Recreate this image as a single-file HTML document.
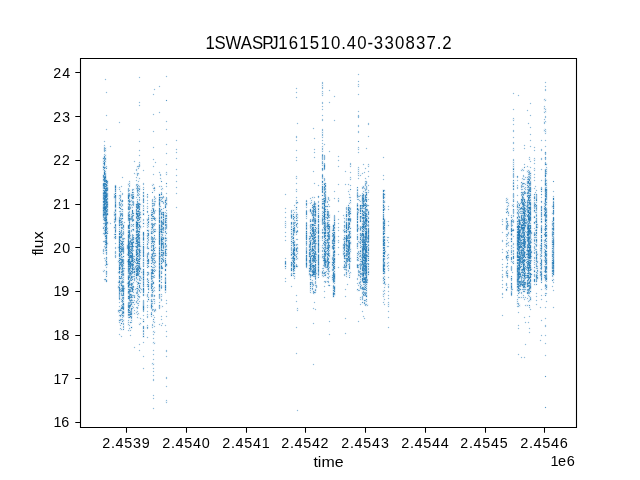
<!DOCTYPE html>
<html><head><meta charset="utf-8"><title>1SWASPJ161510.40-330837.2</title>
<style>
html,body{margin:0;padding:0;background:#fff;}
body{width:640px;height:480px;overflow:hidden;position:relative;font-family:"Liberation Sans",sans-serif;}
svg{position:absolute;left:0;top:0;will-change:transform;}
text{font-family:"Liberation Sans",sans-serif;fill:#000;white-space:pre;}
</style></head><body>
<svg width="640" height="480" viewBox="0 0 640 480">
<rect x="0" y="0" width="640" height="480" fill="#ffffff"/>
<g shape-rendering="crispEdges" stroke-width="1" fill="none">
<path d="M102.5 157v1M102.5 159v7M102.5 168v3M102.5 174v1M102.5 178v1M102.5 181v1M102.5 189v1M102.5 191v1M102.5 200v1M102.5 203v1M102.5 217v4M102.5 223v1M102.5 226v2M102.5 233v2M102.5 241v1M102.5 249v1M102.5 251v3M102.5 270v2M103.5 141v1M103.5 145v3M103.5 151v1M103.5 154v2M103.5 221v2M103.5 225v1M103.5 231v1M103.5 235v1M103.5 240v1M103.5 246v3M103.5 254v1M103.5 258v1M103.5 269v1M103.5 272v1M103.5 279v1M104.5 79v1M104.5 140v1M104.5 142v1M104.5 144v1M104.5 152v2M104.5 237v3M104.5 243v1M104.5 252v3M104.5 257v1M104.5 259v3M104.5 264v2M104.5 269v1M104.5 272v1M104.5 278v1M104.5 281v1M105.5 78v1M105.5 80v1M105.5 92v1M105.5 115v1M105.5 129v1M105.5 141v1M105.5 145v2M105.5 152v2M105.5 254v1M105.5 266v2M105.5 270v1M105.5 274v4M106.5 79v1M106.5 91v1M106.5 93v1M106.5 114v1M106.5 116v1M106.5 128v1M106.5 130v1M106.5 147v5M106.5 154v4M106.5 160v3M106.5 164v2M106.5 169v4M106.5 255v1M106.5 268v2M106.5 277v2M107.5 92v1M107.5 115v1M107.5 129v1M107.5 166v3M107.5 179v1M107.5 248v2M107.5 251v1M107.5 254v1M107.5 259v2M107.5 266v2M107.5 274v3M107.5 279v1M108.5 180v1M108.5 183v4M108.5 191v2M108.5 197v1M108.5 200v1M108.5 208v1M108.5 212v1M108.5 215v1M108.5 221v1M108.5 224v1M108.5 227v6M108.5 242v3M108.5 263v2M109.5 146v1M109.5 222v2M110.5 145v1M110.5 147v1M110.5 222v1M110.5 224v1M111.5 146v1M111.5 223v1M113.5 193v3M113.5 198v1M113.5 211v3M113.5 215v2M113.5 218v5M113.5 226v1M113.5 228v1M113.5 234v1M113.5 236v3M114.5 192v1M114.5 208v1M114.5 239v1M114.5 243v1M114.5 247v2M114.5 251v1M114.5 253v3M114.5 257v1M115.5 184v1M115.5 242v1M115.5 244v1M115.5 246v1M115.5 249v2M115.5 258v1M116.5 192v1M116.5 194v1M116.5 208v1M116.5 212v1M116.5 221v2M116.5 232v2M116.5 235v1M116.5 243v1M116.5 247v2M116.5 251v1M116.5 253v3M116.5 257v1M117.5 187v1M117.5 189v1M117.5 195v1M117.5 202v1M117.5 204v2M117.5 207v1M117.5 217v5M117.5 224v2M117.5 231v1M117.5 234v1M117.5 236v3M117.5 246v1M117.5 248v1M117.5 251v1M117.5 253v1M117.5 255v2M117.5 260v3M117.5 271v3M117.5 281v2M117.5 285v2M117.5 288v1M117.5 311v2M118.5 122v1M118.5 187v3M118.5 195v5M118.5 205v2M118.5 208v1M118.5 211v1M118.5 216v2M118.5 226v5M118.5 232v1M118.5 235v1M118.5 252v1M118.5 257v1M118.5 270v1M118.5 274v2M118.5 279v1M118.5 299v1M118.5 302v1M118.5 306v1M118.5 313v1M118.5 315v2M118.5 319v1M118.5 321v2M118.5 334v1M119.5 121v1M119.5 123v1M119.5 186v1M119.5 190v2M119.5 194v1M119.5 209v2M119.5 300v2M119.5 303v1M119.5 305v1M119.5 307v2M119.5 313v1M119.5 317v2M119.5 323v3M119.5 328v2M119.5 333v1M119.5 335v1M120.5 122v1M120.5 186v5M120.5 192v2M120.5 300v3M120.5 304v2M120.5 312v2M120.5 326v2M120.5 330v1M120.5 334v3M121.5 177v1M121.5 185v1M121.5 187v1M121.5 191v3M121.5 197v2M121.5 303v1M121.5 317v1M121.5 325v3M121.5 330v1M121.5 335v1M121.5 337v1M122.5 176v1M122.5 178v1M122.5 186v1M122.5 192v1M122.5 195v1M122.5 207v1M122.5 325v4M122.5 330v1M122.5 336v1M123.5 177v1M123.5 193v2M123.5 203v4M123.5 210v4M123.5 216v2M123.5 219v1M123.5 221v1M123.5 236v1M123.5 318v1M123.5 330v1M124.5 221v1M124.5 223v2M124.5 228v4M124.5 234v2M124.5 237v1M124.5 240v1M124.5 242v5M124.5 253v1M124.5 255v1M124.5 257v1M124.5 264v4M124.5 272v1M124.5 276v6M124.5 296v1M124.5 299v4M124.5 310v1M124.5 314v1M124.5 316v2M124.5 319v3M124.5 323v7M125.5 222v1M125.5 238v2M125.5 248v1M125.5 268v1M125.5 287v3M126.5 244v1M126.5 249v1M126.5 253v3M126.5 260v3M126.5 268v1M126.5 282v3M127.5 183v3M127.5 188v1M127.5 191v3M127.5 199v1M127.5 202v2M127.5 205v1M127.5 211v2M127.5 221v1M127.5 224v1M127.5 229v1M127.5 233v1M127.5 256v3M127.5 274v1M127.5 280v1M127.5 288v1M127.5 290v1M127.5 294v2M127.5 299v1M127.5 302v1M127.5 308v1M127.5 313v1M127.5 316v2M127.5 320v6M127.5 330v1M128.5 181v2M128.5 187v1M128.5 319v1M128.5 326v1M128.5 328v2M128.5 331v1M129.5 180v1M129.5 187v1M129.5 319v3M129.5 323v1M129.5 326v1M129.5 331v1M129.5 335v1M130.5 181v6M130.5 189v4M130.5 198v1M130.5 210v1M130.5 229v1M130.5 319v2M130.5 324v3M130.5 329v1M130.5 331v1M130.5 334v1M130.5 336v1M131.5 189v3M131.5 203v1M131.5 209v1M131.5 222v2M131.5 227v2M131.5 233v1M131.5 323v1M131.5 325v1M131.5 329v2M131.5 335v1M132.5 188v1M132.5 222v2M132.5 227v1M132.5 232v2M132.5 281v1M132.5 293v1M132.5 315v1M132.5 318v5M132.5 326v1M132.5 328v1M133.5 161v1M133.5 173v1M133.5 188v1M133.5 206v2M133.5 209v1M133.5 222v2M133.5 227v1M133.5 233v1M133.5 252v1M133.5 281v1M133.5 293v1M133.5 298v2M133.5 305v1M133.5 309v6M133.5 347v1M134.5 160v1M134.5 162v1M134.5 172v1M134.5 174v1M134.5 188v3M134.5 192v4M134.5 201v1M134.5 205v3M134.5 210v3M134.5 214v1M134.5 216v3M134.5 221v1M134.5 223v1M134.5 225v4M134.5 231v1M134.5 234v3M134.5 240v1M134.5 244v2M134.5 247v1M134.5 249v1M134.5 251v1M134.5 253v2M134.5 282v2M134.5 288v1M134.5 290v5M134.5 299v1M134.5 303v1M134.5 305v5M134.5 311v2M134.5 314v1M134.5 346v1M134.5 348v1M135.5 161v1M135.5 169v2M135.5 173v2M135.5 177v1M135.5 180v1M135.5 184v6M135.5 196v3M135.5 201v1M135.5 203v1M135.5 208v1M135.5 215v1M135.5 219v2M135.5 229v1M135.5 233v1M135.5 236v1M135.5 248v1M135.5 264v1M135.5 281v2M135.5 286v2M135.5 290v2M135.5 293v2M135.5 298v1M135.5 300v1M135.5 303v2M135.5 307v2M135.5 310v5M135.5 347v1M136.5 166v3M136.5 171v2M136.5 175v2M136.5 178v2M136.5 181v1M136.5 183v1M136.5 192v3M136.5 196v1M136.5 198v3M136.5 283v4M136.5 295v5M136.5 304v1M136.5 306v1M136.5 309v2M136.5 314v1M136.5 317v1M137.5 165v1M137.5 168v1M137.5 170v3M137.5 176v3M137.5 180v4M137.5 198v1M137.5 305v1M137.5 309v2M137.5 315v2M137.5 318v1M138.5 77v1M138.5 102v1M138.5 105v1M138.5 129v1M138.5 141v1M138.5 150v1M138.5 155v1M138.5 162v3M138.5 169v1M138.5 172v1M138.5 175v1M138.5 177v4M138.5 182v2M138.5 198v1M138.5 277v1M138.5 306v1M138.5 308v1M138.5 311v2M138.5 315v1M138.5 317v2M138.5 323v2M138.5 344v1M138.5 350v1M139.5 76v1M139.5 78v1M139.5 101v1M139.5 103v2M139.5 106v1M139.5 128v1M139.5 130v1M139.5 140v1M139.5 142v1M139.5 149v1M139.5 151v1M139.5 154v1M139.5 156v1M139.5 161v1M139.5 168v1M139.5 173v2M139.5 177v1M139.5 179v3M139.5 184v1M139.5 293v2M139.5 299v2M139.5 302v4M139.5 313v2M139.5 317v2M139.5 322v1M139.5 325v1M139.5 343v1M139.5 345v1M139.5 349v1M139.5 351v1M140.5 77v1M140.5 102v1M140.5 105v1M140.5 129v1M140.5 141v1M140.5 150v1M140.5 155v1M140.5 162v3M140.5 166v1M140.5 178v1M140.5 185v3M140.5 190v2M140.5 193v3M140.5 197v4M140.5 202v1M140.5 210v1M140.5 223v1M140.5 230v1M140.5 233v1M140.5 236v1M140.5 262v1M140.5 273v2M140.5 281v1M140.5 293v1M140.5 297v1M140.5 301v1M140.5 317v1M140.5 319v1M140.5 322v1M140.5 325v1M140.5 344v1M140.5 350v1M141.5 189v1M141.5 199v2M141.5 203v4M141.5 211v3M141.5 215v1M141.5 218v5M141.5 225v1M141.5 227v2M141.5 232v1M141.5 234v2M141.5 237v3M141.5 242v1M141.5 244v2M141.5 247v3M141.5 251v1M141.5 253v7M141.5 263v1M141.5 266v2M141.5 270v1M141.5 273v3M141.5 281v7M141.5 291v2M141.5 318v2M141.5 323v2M142.5 170v1M142.5 183v2M142.5 187v3M142.5 193v2M142.5 197v2M142.5 204v6M142.5 211v2M142.5 215v1M142.5 219v4M142.5 224v1M142.5 226v2M142.5 231v1M142.5 241v5M142.5 257v2M142.5 261v1M142.5 268v1M142.5 287v1M142.5 293v1M142.5 300v1M142.5 311v1M142.5 315v1M142.5 318v3M142.5 322v1M142.5 329v2M142.5 332v4M142.5 337v1M142.5 342v1M142.5 356v1M142.5 368v1M143.5 169v1M143.5 171v1M143.5 182v1M143.5 185v2M143.5 204v1M143.5 218v1M143.5 225v1M143.5 227v1M143.5 299v1M143.5 312v1M143.5 314v1M143.5 316v1M143.5 318v1M143.5 341v1M143.5 343v1M143.5 355v1M143.5 357v1M143.5 367v1M143.5 369v1M144.5 170v1M144.5 183v2M144.5 187v3M144.5 193v2M144.5 197v2M144.5 205v5M144.5 211v1M144.5 215v1M144.5 219v2M144.5 222v1M144.5 224v1M144.5 226v1M144.5 231v1M144.5 241v5M144.5 257v2M144.5 261v1M144.5 268v1M144.5 287v1M144.5 293v1M144.5 300v1M144.5 311v1M144.5 315v1M144.5 319v2M144.5 322v1M144.5 329v2M144.5 332v4M144.5 337v1M144.5 342v1M144.5 356v1M144.5 368v1M145.5 196v1M145.5 200v1M145.5 223v1M145.5 233v1M145.5 235v1M145.5 238v1M145.5 244v1M145.5 246v3M145.5 253v4M145.5 260v1M145.5 263v1M145.5 272v1M145.5 274v1M145.5 279v1M145.5 284v1M145.5 286v1M145.5 294v2M145.5 307v1M145.5 327v2M146.5 194v4M146.5 200v1M146.5 203v1M146.5 206v3M146.5 212v1M146.5 218v1M146.5 220v8M146.5 229v1M146.5 231v1M146.5 233v2M146.5 236v8M146.5 245v2M146.5 252v2M146.5 258v2M146.5 262v1M146.5 264v4M146.5 273v3M146.5 278v1M146.5 280v3M146.5 285v2M146.5 294v1M146.5 296v2M146.5 301v1M146.5 305v3M146.5 311v1M146.5 314v4M146.5 325v2M146.5 328v1M146.5 337v1M147.5 193v1M147.5 198v2M147.5 201v2M147.5 204v2M147.5 209v1M147.5 213v5M147.5 228v1M147.5 251v1M147.5 268v1M147.5 276v2M147.5 298v1M147.5 302v1M147.5 304v1M147.5 308v1M147.5 310v1M147.5 312v2M147.5 318v1M147.5 324v1M147.5 329v1M147.5 336v1M147.5 338v1M148.5 194v4M148.5 200v1M148.5 203v1M148.5 206v3M148.5 212v3M148.5 228v1M148.5 245v1M148.5 250v2M148.5 268v1M148.5 276v1M148.5 301v1M148.5 305v3M148.5 311v1M148.5 314v4M148.5 325v2M148.5 328v1M148.5 337v1M149.5 214v1M149.5 216v2M149.5 220v1M149.5 223v5M149.5 229v1M149.5 231v2M149.5 236v8M149.5 247v1M149.5 249v1M149.5 252v1M149.5 255v4M149.5 265v1M149.5 267v1M149.5 275v1M149.5 278v4M149.5 283v1M149.5 287v1M149.5 290v1M149.5 292v1M149.5 296v3M149.5 300v2M149.5 305v1M149.5 307v1M149.5 314v1M150.5 210v4M150.5 216v2M150.5 219v5M150.5 225v6M150.5 234v3M150.5 240v6M150.5 247v3M150.5 253v3M150.5 259v1M150.5 261v2M150.5 265v1M150.5 267v1M150.5 271v1M150.5 279v4M150.5 289v2M150.5 292v1M150.5 294v1M150.5 296v2M150.5 302v2M150.5 308v2M150.5 312v1M150.5 315v2M151.5 184v2M151.5 192v1M151.5 199v1M151.5 201v2M151.5 204v5M151.5 221v1M151.5 252v1M151.5 298v1M151.5 311v1M151.5 317v1M151.5 324v4M151.5 363v2M152.5 94v1M152.5 114v1M152.5 131v1M152.5 147v1M152.5 159v1M152.5 166v1M152.5 174v1M152.5 183v1M152.5 186v3M152.5 190v2M152.5 193v1M152.5 198v1M152.5 221v1M152.5 235v1M152.5 265v1M152.5 297v2M152.5 312v1M152.5 316v2M152.5 319v5M152.5 328v1M152.5 331v2M152.5 334v1M152.5 338v1M152.5 342v2M152.5 350v1M152.5 354v1M152.5 359v1M152.5 362v1M152.5 365v1M152.5 368v1M152.5 371v1M152.5 375v1M152.5 379v2M152.5 395v1M152.5 398v1M152.5 408v1M153.5 89v1M153.5 93v1M153.5 95v1M153.5 113v1M153.5 115v1M153.5 130v1M153.5 132v1M153.5 146v1M153.5 148v1M153.5 158v1M153.5 160v1M153.5 165v1M153.5 167v1M153.5 173v1M153.5 175v1M153.5 183v1M153.5 186v1M153.5 190v3M153.5 196v3M153.5 222v1M153.5 234v2M153.5 279v1M153.5 285v1M153.5 293v1M153.5 297v2M153.5 302v1M153.5 304v5M153.5 312v1M153.5 314v1M153.5 316v2M153.5 323v2M153.5 327v1M153.5 330v1M153.5 333v1M153.5 335v1M153.5 337v1M153.5 339v1M153.5 341v1M153.5 344v1M153.5 349v1M153.5 351v1M153.5 353v1M153.5 355v1M153.5 358v1M153.5 360v1M153.5 362v1M153.5 365v1M153.5 367v1M153.5 369v2M153.5 372v1M153.5 374v1M153.5 376v1M153.5 378v1M153.5 381v1M153.5 394v1M153.5 396v2M153.5 399v1M153.5 407v1M153.5 409v1M154.5 88v1M154.5 90v1M154.5 94v1M154.5 114v1M154.5 131v1M154.5 147v1M154.5 159v1M154.5 162v1M154.5 166v1M154.5 174v1M154.5 184v3M154.5 191v2M154.5 195v1M154.5 207v1M154.5 215v1M154.5 221v2M154.5 227v1M154.5 233v2M154.5 274v1M154.5 278v1M154.5 281v1M154.5 284v1M154.5 286v1M154.5 292v1M154.5 297v2M154.5 304v1M154.5 308v1M154.5 312v1M154.5 315v2M154.5 318v1M154.5 320v1M154.5 323v3M154.5 327v1M154.5 330v1M154.5 333v2M154.5 338v1M154.5 341v1M154.5 344v1M154.5 350v1M154.5 354v1M154.5 359v1M154.5 363v2M154.5 368v1M154.5 371v1M154.5 375v1M154.5 379v2M154.5 395v1M154.5 398v1M154.5 408v1M155.5 89v1M155.5 161v1M155.5 163v1M155.5 187v1M155.5 189v2M155.5 196v1M155.5 205v1M155.5 209v1M155.5 213v1M155.5 216v1M155.5 221v2M155.5 225v2M155.5 228v1M155.5 235v3M155.5 240v1M155.5 242v5M155.5 249v1M155.5 251v2M155.5 257v3M155.5 264v1M155.5 268v1M155.5 272v1M155.5 275v3M155.5 287v2M155.5 290v2M155.5 296v1M155.5 299v5M155.5 308v1M155.5 312v1M155.5 317v1M155.5 321v2M155.5 326v1M155.5 331v2M155.5 342v2M156.5 162v1M156.5 197v3M156.5 201v1M156.5 210v2M156.5 217v4M156.5 223v2M156.5 229v3M156.5 238v2M156.5 247v2M156.5 253v2M156.5 256v1M156.5 260v4M156.5 265v3M156.5 269v3M156.5 309v3M157.5 210v1M157.5 218v1M157.5 220v1M157.5 229v1M157.5 231v1M157.5 239v1M157.5 253v1M157.5 255v1M157.5 261v1M157.5 266v1M157.5 270v1M158.5 86v1M158.5 112v1M158.5 172v1M158.5 186v1M158.5 193v1M158.5 196v1M158.5 206v2M158.5 223v1M158.5 245v2M158.5 279v1M158.5 282v1M158.5 291v1M158.5 298v1M158.5 302v1M158.5 308v1M158.5 324v1M159.5 85v1M159.5 87v1M159.5 111v1M159.5 113v1M159.5 171v1M159.5 173v3M159.5 178v1M159.5 185v1M159.5 187v1M159.5 192v1M159.5 292v1M159.5 299v3M159.5 303v1M159.5 309v1M159.5 323v1M159.5 325v1M160.5 86v1M160.5 112v1M160.5 172v2M160.5 176v2M160.5 179v3M160.5 185v1M160.5 187v3M160.5 192v1M160.5 283v1M160.5 291v1M160.5 293v1M160.5 300v3M160.5 308v1M160.5 316v1M160.5 319v1M160.5 323v3M161.5 174v2M161.5 178v3M161.5 182v1M161.5 185v1M161.5 187v1M161.5 190v2M161.5 203v1M161.5 205v3M161.5 289v2M161.5 293v1M161.5 297v1M161.5 301v1M161.5 305v3M161.5 315v1M161.5 317v2M161.5 320v1M161.5 323v2M161.5 326v1M162.5 181v1M162.5 186v2M162.5 190v1M162.5 192v1M162.5 195v1M162.5 208v1M162.5 210v1M162.5 264v1M162.5 270v2M162.5 277v3M162.5 282v1M162.5 285v1M162.5 288v1M162.5 294v3M162.5 299v2M162.5 305v1M162.5 307v1M162.5 316v1M162.5 319v1M162.5 322v1M162.5 324v2M163.5 188v2M163.5 194v2M163.5 199v2M163.5 204v1M163.5 206v2M163.5 209v2M163.5 263v1M163.5 265v2M163.5 269v1M163.5 282v1M163.5 285v3M163.5 306v1M163.5 323v1M164.5 196v1M164.5 198v2M164.5 211v1M164.5 233v4M164.5 256v2M164.5 267v2M164.5 271v1M164.5 273v1M164.5 276v2M164.5 284v1M164.5 291v2M164.5 325v1M165.5 76v1M165.5 100v1M165.5 121v1M165.5 129v1M165.5 144v1M165.5 153v1M165.5 164v1M165.5 172v3M165.5 183v1M165.5 186v1M165.5 193v1M165.5 196v2M165.5 209v3M165.5 272v1M165.5 293v1M165.5 300v1M165.5 303v1M165.5 311v1M165.5 316v1M165.5 324v1M165.5 326v1M165.5 331v1M165.5 336v1M165.5 350v2M165.5 356v1M165.5 377v2M165.5 386v1M165.5 400v3M166.5 75v1M166.5 77v1M166.5 99v1M166.5 101v1M166.5 120v1M166.5 122v1M166.5 128v1M166.5 130v1M166.5 143v1M166.5 145v1M166.5 152v1M166.5 154v1M166.5 163v1M166.5 165v1M166.5 171v1M166.5 175v1M166.5 182v1M166.5 185v1M166.5 187v1M166.5 192v1M166.5 194v1M166.5 196v1M166.5 208v2M166.5 211v1M166.5 230v1M166.5 235v2M166.5 242v1M166.5 257v3M166.5 267v2M166.5 271v1M166.5 273v1M166.5 276v2M166.5 284v1M166.5 291v2M166.5 299v1M166.5 301v2M166.5 304v1M166.5 310v1M166.5 312v1M166.5 315v1M166.5 317v1M166.5 325v1M166.5 330v1M166.5 332v1M166.5 335v1M166.5 337v1M166.5 349v1M166.5 352v1M166.5 355v1M166.5 357v1M166.5 376v1M166.5 379v1M166.5 385v1M166.5 387v1M166.5 399v1M166.5 403v1M167.5 76v1M167.5 100v1M167.5 121v1M167.5 129v1M167.5 144v1M167.5 153v1M167.5 164v1M167.5 172v3M167.5 183v1M167.5 186v1M167.5 193v1M167.5 197v1M167.5 201v2M167.5 205v1M167.5 210v1M167.5 212v3M167.5 217v1M167.5 219v5M167.5 228v2M167.5 232v2M167.5 237v5M167.5 244v4M167.5 250v1M167.5 252v4M167.5 263v1M167.5 266v1M167.5 300v1M167.5 303v1M167.5 311v1M167.5 316v1M167.5 331v1M167.5 336v1M167.5 350v2M167.5 356v1M167.5 377v2M167.5 386v1M167.5 400v3M175.5 140v1M175.5 149v1M175.5 152v1M175.5 158v1M175.5 169v1M175.5 175v1M175.5 181v1M175.5 187v1M175.5 193v1M175.5 207v1M176.5 139v1M176.5 141v1M176.5 148v1M176.5 150v2M176.5 153v1M176.5 157v1M176.5 159v1M176.5 168v1M176.5 170v1M176.5 174v1M176.5 176v1M176.5 180v1M176.5 182v1M176.5 186v1M176.5 188v1M176.5 192v1M176.5 194v1M176.5 206v1M176.5 208v1M177.5 140v1M177.5 149v1M177.5 152v1M177.5 158v1M177.5 169v1M177.5 175v1M177.5 181v1M177.5 187v1M177.5 193v1M177.5 207v1M284.5 194v1M284.5 208v1M284.5 212v1M284.5 217v1M284.5 221v7M284.5 232v1M284.5 236v1M284.5 240v1M284.5 258v1M284.5 265v1M284.5 267v2M284.5 278v1M284.5 281v1M285.5 193v1M285.5 195v1M285.5 207v1M285.5 209v1M285.5 211v1M285.5 213v1M285.5 216v1M285.5 218v1M285.5 220v1M285.5 228v1M285.5 231v1M285.5 233v1M285.5 235v1M285.5 237v1M285.5 239v1M285.5 241v1M285.5 257v1M285.5 259v1M285.5 269v1M285.5 277v1M285.5 279v2M285.5 282v1M286.5 194v1M286.5 208v1M286.5 212v1M286.5 217v1M286.5 221v7M286.5 232v1M286.5 236v1M286.5 240v1M286.5 258v1M286.5 265v1M286.5 267v2M286.5 278v1M286.5 281v1M290.5 210v1M290.5 212v2M290.5 218v1M290.5 225v4M290.5 230v3M290.5 234v7M290.5 242v6M290.5 250v4M290.5 257v2M290.5 261v1M290.5 266v2M290.5 271v1M290.5 273v1M290.5 276v1M290.5 286v1M291.5 209v1M291.5 219v2M291.5 285v1M291.5 287v1M292.5 209v1M292.5 212v2M292.5 220v2M292.5 225v1M292.5 272v1M292.5 276v1M292.5 286v1M293.5 205v1M293.5 209v1M293.5 211v1M293.5 277v2M294.5 204v1M294.5 206v2M294.5 209v3M294.5 213v1M294.5 215v1M294.5 236v1M294.5 239v1M294.5 279v1M295.5 88v1M295.5 92v1M295.5 97v1M295.5 136v2M295.5 140v1M295.5 150v1M295.5 157v1M295.5 160v1M295.5 176v3M295.5 183v1M295.5 189v3M295.5 197v1M295.5 200v2M295.5 203v4M295.5 208v4M295.5 213v1M295.5 219v1M295.5 233v3M295.5 238v4M295.5 243v1M295.5 261v1M295.5 269v3M295.5 275v4M295.5 295v1M295.5 301v1M295.5 327v1M295.5 353v1M296.5 87v1M296.5 89v1M296.5 91v1M296.5 93v1M296.5 96v1M296.5 98v1M296.5 123v1M296.5 135v1M296.5 138v2M296.5 141v1M296.5 149v1M296.5 151v1M296.5 156v1M296.5 158v2M296.5 161v1M296.5 175v1M296.5 179v1M296.5 182v1M296.5 184v1M296.5 188v1M296.5 192v1M296.5 196v1M296.5 198v2M296.5 204v2M296.5 210v2M296.5 228v2M296.5 235v1M296.5 238v1M296.5 240v1M296.5 243v1M296.5 260v1M296.5 262v2M296.5 268v1M296.5 294v1M296.5 296v1M296.5 300v1M296.5 302v1M296.5 308v3M296.5 326v1M296.5 328v1M296.5 352v1M296.5 354v1M296.5 410v1M297.5 88v1M297.5 92v1M297.5 97v1M297.5 122v1M297.5 124v1M297.5 136v2M297.5 140v1M297.5 150v1M297.5 157v1M297.5 160v1M297.5 176v3M297.5 183v1M297.5 189v3M297.5 197v1M297.5 200v1M297.5 204v1M297.5 206v1M297.5 208v2M297.5 212v1M297.5 228v2M297.5 233v2M297.5 238v1M297.5 240v1M297.5 243v1M297.5 255v1M297.5 260v1M297.5 264v1M297.5 295v1M297.5 301v1M297.5 307v1M297.5 311v1M297.5 327v1M297.5 353v1M297.5 409v1M297.5 411v1M298.5 123v1M298.5 203v1M298.5 214v5M298.5 220v1M298.5 223v2M298.5 226v2M298.5 230v1M298.5 232v1M298.5 239v1M298.5 244v2M298.5 247v1M298.5 249v6M298.5 257v3M298.5 265v2M298.5 308v3M298.5 410v1M305.5 200v1M305.5 202v1M305.5 205v3M305.5 210v1M305.5 215v4M305.5 222v1M305.5 230v1M305.5 240v1M305.5 245v3M305.5 254v1M305.5 267v1M306.5 199v1M306.5 208v2M306.5 219v1M306.5 221v1M306.5 268v1M307.5 200v1M307.5 202v1M307.5 205v3M307.5 210v1M307.5 215v4M307.5 222v1M307.5 230v1M307.5 240v1M307.5 245v3M307.5 254v1M307.5 267v2M308.5 203v1M308.5 210v2M308.5 225v1M308.5 228v1M308.5 232v2M308.5 235v3M308.5 240v4M308.5 248v1M308.5 251v1M308.5 257v3M308.5 263v2M308.5 266v2M308.5 269v1M308.5 272v2M308.5 275v1M309.5 198v1M309.5 202v2M309.5 212v1M309.5 219v1M309.5 222v1M309.5 224v1M309.5 228v4M309.5 234v1M309.5 277v3M309.5 285v8M310.5 197v1M310.5 199v3M310.5 204v2M310.5 207v1M310.5 214v1M310.5 218v1M310.5 293v1M311.5 197v3M311.5 204v3M311.5 208v1M311.5 216v1M311.5 218v1M311.5 222v1M311.5 277v2M311.5 290v4M312.5 128v1M312.5 171v1M312.5 196v1M312.5 198v6M312.5 277v1M312.5 279v1M312.5 293v1M312.5 308v1M312.5 323v1M312.5 364v1M313.5 127v1M313.5 129v1M313.5 138v1M313.5 149v1M313.5 152v1M313.5 157v1M313.5 170v1M313.5 172v1M313.5 183v1M313.5 196v1M313.5 198v1M313.5 200v2M313.5 277v5M313.5 287v1M313.5 294v1M313.5 302v1M313.5 307v1M313.5 309v1M313.5 322v1M313.5 324v1M313.5 363v1M313.5 365v1M314.5 128v1M314.5 137v1M314.5 139v1M314.5 148v1M314.5 150v2M314.5 153v1M314.5 156v1M314.5 158v1M314.5 171v1M314.5 182v1M314.5 184v1M314.5 196v1M314.5 198v1M314.5 200v1M314.5 279v3M314.5 286v1M314.5 288v1M314.5 294v1M314.5 301v1M314.5 303v1M314.5 308v2M314.5 323v1M314.5 364v1M315.5 138v1M315.5 149v1M315.5 152v1M315.5 157v1M315.5 183v1M315.5 197v1M315.5 201v1M315.5 302v1M315.5 308v1M315.5 310v1M316.5 202v1M316.5 205v1M316.5 217v2M316.5 224v1M316.5 226v1M316.5 235v1M316.5 238v1M316.5 250v1M316.5 263v1M316.5 279v3M316.5 283v1M316.5 288v1M316.5 291v2M316.5 309v1M317.5 185v1M317.5 197v1M317.5 201v4M317.5 207v1M317.5 210v3M317.5 214v1M317.5 218v1M317.5 223v1M317.5 234v1M317.5 253v1M317.5 276v1M317.5 278v1M317.5 285v1M317.5 287v1M318.5 184v1M318.5 186v1M318.5 198v1M318.5 200v1M318.5 278v1M319.5 185v1M319.5 197v1M319.5 201v2M319.5 204v1M319.5 207v1M319.5 210v5M319.5 218v1M319.5 223v1M319.5 234v1M319.5 253v1M319.5 275v3M320.5 206v1M320.5 213v1M320.5 215v1M320.5 217v1M320.5 219v3M320.5 224v1M320.5 230v1M320.5 232v2M320.5 236v3M320.5 240v1M320.5 245v1M320.5 247v1M320.5 250v2M320.5 256v2M320.5 271v2M321.5 82v7M321.5 91v5M321.5 102v2M321.5 106v1M321.5 109v1M321.5 115v1M321.5 119v2M321.5 129v9M321.5 140v1M321.5 143v1M321.5 146v6M321.5 154v1M321.5 159v3M321.5 164v2M321.5 170v1M321.5 174v1M321.5 178v1M321.5 180v1M321.5 183v3M321.5 194v1M321.5 196v1M321.5 198v1M321.5 200v3M321.5 205v2M321.5 211v7M321.5 224v1M321.5 229v3M321.5 233v1M321.5 238v3M321.5 245v4M321.5 250v2M321.5 254v5M321.5 268v1M321.5 270v2M321.5 274v3M322.5 81v1M322.5 89v2M322.5 96v1M322.5 101v1M322.5 104v2M322.5 107v2M322.5 110v1M322.5 114v1M322.5 116v1M322.5 118v1M322.5 121v1M322.5 128v1M322.5 138v2M322.5 141v2M322.5 144v2M322.5 152v2M322.5 171v1M322.5 173v1M322.5 197v1M322.5 225v3M322.5 241v2M322.5 252v2M322.5 259v1M322.5 261v1M322.5 264v4M322.5 277v1M323.5 82v7M323.5 91v5M323.5 102v2M323.5 106v1M323.5 109v1M323.5 115v1M323.5 119v2M323.5 129v9M323.5 140v1M323.5 143v9M323.5 160v2M323.5 174v1M323.5 277v1M323.5 281v2M323.5 286v1M323.5 291v1M323.5 297v1M324.5 143v1M324.5 145v1M324.5 154v1M324.5 160v3M324.5 170v1M324.5 176v2M324.5 269v2M324.5 277v1M324.5 280v1M324.5 283v1M324.5 285v1M324.5 287v1M324.5 290v1M324.5 292v1M324.5 296v1M324.5 298v1M325.5 144v1M325.5 155v1M325.5 159v1M325.5 163v1M325.5 169v1M325.5 178v1M325.5 180v2M325.5 270v1M325.5 277v1M325.5 280v1M325.5 283v1M325.5 286v1M325.5 291v1M325.5 297v1M326.5 184v1M326.5 187v2M326.5 190v1M326.5 193v2M326.5 203v2M326.5 208v1M326.5 221v1M326.5 270v1M326.5 276v3M326.5 280v1M327.5 196v1M327.5 203v2M327.5 208v1M327.5 275v2M327.5 279v2M327.5 283v1M327.5 285v1M328.5 90v1M328.5 102v1M328.5 151v1M328.5 196v1M328.5 202v2M328.5 207v1M328.5 209v1M328.5 279v1M328.5 283v1M328.5 286v1M328.5 321v1M328.5 334v1M329.5 89v1M329.5 91v1M329.5 101v1M329.5 103v1M329.5 150v1M329.5 152v1M329.5 197v1M329.5 201v1M329.5 204v2M329.5 207v1M329.5 219v1M329.5 274v2M329.5 278v1M329.5 281v3M329.5 320v1M329.5 322v1M329.5 333v1M329.5 335v1M330.5 90v1M330.5 102v1M330.5 151v1M330.5 199v2M330.5 206v1M330.5 214v4M330.5 220v1M330.5 224v2M330.5 233v1M330.5 240v5M330.5 248v7M330.5 256v4M330.5 261v1M330.5 263v2M330.5 266v3M330.5 270v2M330.5 275v3M330.5 321v1M330.5 334v1M331.5 226v4M331.5 231v4M331.5 237v3M331.5 244v2M331.5 249v1M331.5 255v3M331.5 259v3M331.5 263v1M331.5 266v3M331.5 270v2M331.5 274v3M331.5 278v3M331.5 285v1M332.5 224v1M332.5 250v1M332.5 282v2M332.5 285v1M332.5 289v1M332.5 291v1M332.5 297v1M333.5 96v1M333.5 120v1M333.5 191v1M333.5 198v1M333.5 215v1M333.5 221v1M334.5 95v1M334.5 97v1M334.5 119v1M334.5 121v1M334.5 190v1M334.5 192v1M334.5 197v1M334.5 199v1M334.5 214v1M334.5 284v1M334.5 297v1M335.5 96v1M335.5 120v1M335.5 191v1M335.5 198v1M335.5 215v1M335.5 221v1M335.5 226v1M335.5 229v3M335.5 244v1M335.5 246v1M335.5 249v1M335.5 253v1M335.5 256v2M335.5 263v3M335.5 269v4M335.5 282v2M335.5 285v1M335.5 292v1M335.5 295v1M336.5 227v1M336.5 236v1M336.5 240v1M336.5 254v1M337.5 156v1M337.5 160v1M337.5 166v1M337.5 184v1M337.5 198v4M337.5 211v1M337.5 219v1M337.5 223v1M337.5 227v1M337.5 230v1M337.5 236v1M337.5 240v3M337.5 247v1M337.5 254v1M337.5 267v1M338.5 155v1M338.5 157v1M338.5 159v1M338.5 161v1M338.5 165v1M338.5 167v1M338.5 183v1M338.5 185v1M338.5 197v1M338.5 202v1M338.5 210v1M338.5 212v1M338.5 218v1M338.5 220v1M338.5 222v1M338.5 224v1M338.5 226v1M338.5 228v2M338.5 231v1M338.5 235v1M338.5 237v1M338.5 239v1M338.5 243v1M338.5 246v1M338.5 248v1M338.5 253v1M338.5 255v1M338.5 266v1M338.5 268v1M339.5 156v1M339.5 160v1M339.5 166v1M339.5 184v1M339.5 198v4M339.5 211v1M339.5 219v1M339.5 223v1M339.5 227v1M339.5 230v1M339.5 236v1M339.5 240v3M339.5 247v1M339.5 254v1M339.5 267v1M342.5 215v1M342.5 229v3M342.5 238v2M342.5 243v2M342.5 246v1M342.5 248v5M342.5 254v2M342.5 266v2M343.5 214v1M343.5 216v3M343.5 221v2M343.5 227v2M343.5 235v2M343.5 260v1M343.5 262v3M343.5 269v1M343.5 274v2M344.5 171v1M344.5 184v1M344.5 214v4M344.5 219v1M344.5 234v1M344.5 270v1M344.5 272v2M344.5 276v1M344.5 289v1M344.5 296v1M344.5 318v1M344.5 333v1M345.5 170v1M345.5 172v1M345.5 183v1M345.5 185v1M345.5 207v1M345.5 209v5M345.5 217v1M345.5 233v2M345.5 271v1M345.5 276v1M345.5 288v1M345.5 290v1M345.5 295v1M345.5 297v1M345.5 317v1M345.5 319v1M345.5 332v1M345.5 334v1M346.5 171v1M346.5 184v1M346.5 205v2M346.5 277v1M346.5 284v1M346.5 289v1M346.5 296v1M346.5 318v1M346.5 333v1M347.5 184v1M347.5 191v1M347.5 205v2M347.5 217v1M347.5 221v1M347.5 233v1M347.5 268v1M347.5 274v4M347.5 283v1M347.5 285v1M348.5 183v1M348.5 185v1M348.5 189v2M348.5 192v3M348.5 197v1M348.5 202v2M348.5 273v5M348.5 284v1M349.5 163v4M349.5 172v1M349.5 177v3M349.5 184v2M349.5 189v5M349.5 195v2M349.5 198v4M349.5 204v1M349.5 278v1M350.5 162v1M350.5 167v1M350.5 171v1M350.5 173v1M350.5 176v1M350.5 180v1M350.5 184v1M350.5 186v3M350.5 190v2M350.5 194v3M350.5 204v1M350.5 206v1M350.5 225v1M350.5 239v1M350.5 263v1M350.5 269v1M350.5 271v1M350.5 274v4M351.5 163v4M351.5 172v1M351.5 177v3M351.5 185v1M351.5 189v1M351.5 197v1M351.5 200v4M351.5 207v6M351.5 214v1M351.5 221v2M351.5 227v2M351.5 231v5M351.5 238v1M351.5 241v1M351.5 244v1M351.5 248v5M351.5 257v5M351.5 272v2M356.5 187v3M356.5 191v2M356.5 197v3M356.5 203v1M356.5 207v1M356.5 210v2M356.5 220v1M356.5 223v1M356.5 234v2M356.5 247v2M356.5 252v5M356.5 258v1M356.5 278v2M356.5 283v1M356.5 289v2M357.5 74v1M357.5 81v1M357.5 84v3M357.5 94v1M357.5 111v1M357.5 115v1M357.5 117v1M357.5 125v2M357.5 131v2M357.5 141v1M357.5 147v3M357.5 152v1M357.5 167v9M357.5 178v1M357.5 186v1M357.5 200v1M357.5 202v1M357.5 233v1M357.5 249v2M357.5 263v1M357.5 269v2M357.5 272v6M357.5 280v1M357.5 282v1M357.5 284v2M357.5 288v1M357.5 291v1M357.5 321v1M358.5 73v1M358.5 75v1M358.5 80v1M358.5 82v2M358.5 87v1M358.5 93v1M358.5 95v1M358.5 110v1M358.5 112v1M358.5 114v1M358.5 118v1M358.5 124v1M358.5 127v1M358.5 130v1M358.5 133v1M358.5 140v1M358.5 142v1M358.5 146v1M358.5 150v2M358.5 153v1M358.5 166v1M358.5 176v2M358.5 179v1M358.5 187v3M358.5 191v2M358.5 201v1M358.5 203v1M358.5 207v1M358.5 220v1M358.5 223v1M358.5 233v3M358.5 240v1M358.5 247v4M358.5 261v1M358.5 263v1M358.5 277v3M358.5 281v1M358.5 286v1M358.5 288v1M358.5 291v1M358.5 320v1M358.5 322v1M359.5 74v1M359.5 81v1M359.5 84v3M359.5 94v1M359.5 111v1M359.5 115v1M359.5 117v1M359.5 125v2M359.5 131v2M359.5 141v1M359.5 147v3M359.5 152v1M359.5 167v8M359.5 176v1M359.5 178v1M359.5 194v1M359.5 197v2M359.5 202v1M359.5 204v1M359.5 214v2M359.5 222v1M359.5 225v1M359.5 231v1M359.5 236v1M359.5 244v5M359.5 262v1M359.5 278v3M359.5 291v1M359.5 297v3M359.5 304v1M359.5 321v1M360.5 173v2M360.5 176v1M360.5 194v1M360.5 197v1M360.5 199v1M360.5 202v2M360.5 223v1M360.5 225v1M360.5 290v1M360.5 296v1M360.5 300v1M360.5 302v2M360.5 305v1M361.5 173v3M361.5 186v3M361.5 193v2M361.5 222v2M361.5 283v1M361.5 290v6M361.5 300v1M361.5 302v3M361.5 311v1M362.5 164v1M362.5 172v1M362.5 174v1M362.5 185v1M362.5 189v4M362.5 283v1M362.5 304v1M362.5 310v1M362.5 312v1M362.5 316v1M363.5 163v1M363.5 165v1M363.5 172v2M363.5 185v1M363.5 189v2M363.5 301v1M363.5 304v1M363.5 311v1M363.5 315v1M363.5 317v2M364.5 164v1M364.5 168v1M364.5 171v1M364.5 173v1M364.5 178v1M364.5 181v3M364.5 193v1M364.5 298v1M364.5 316v2M364.5 319v1M365.5 148v1M365.5 167v1M365.5 169v1M365.5 172v1M365.5 177v1M365.5 179v2M365.5 297v2M365.5 306v1M365.5 318v1M366.5 147v1M366.5 149v1M366.5 168v1M366.5 178v3M366.5 302v1M366.5 306v1M367.5 123v2M367.5 136v1M367.5 148v1M367.5 164v3M367.5 171v1M367.5 176v1M367.5 181v1M367.5 183v3M367.5 190v2M367.5 196v1M367.5 198v1M367.5 202v2M367.5 207v1M367.5 285v10M367.5 297v1M367.5 299v3M367.5 303v1M367.5 306v1M368.5 122v1M368.5 125v1M368.5 135v1M368.5 137v1M368.5 163v1M368.5 167v1M368.5 170v1M368.5 172v1M368.5 175v1M368.5 177v1M368.5 184v1M368.5 186v1M368.5 189v1M368.5 193v2M368.5 197v2M368.5 200v2M368.5 204v1M368.5 276v1M368.5 278v5M368.5 304v2M369.5 123v2M369.5 136v1M369.5 164v3M369.5 171v1M369.5 176v1M369.5 185v1M369.5 190v3M369.5 199v1M369.5 205v1M369.5 210v1M369.5 216v2M369.5 220v1M369.5 223v2M369.5 226v2M369.5 243v2M369.5 246v2M369.5 251v2M369.5 254v2M369.5 257v3M369.5 261v1M369.5 265v6M369.5 273v2M382.5 157v1M382.5 175v1M382.5 179v1M382.5 189v1M382.5 192v1M382.5 199v1M382.5 203v1M382.5 208v1M382.5 211v1M382.5 213v1M382.5 220v1M382.5 230v1M382.5 235v1M382.5 246v1M382.5 249v1M382.5 251v1M382.5 254v1M382.5 257v1M382.5 272v1M382.5 274v1M382.5 276v2M382.5 279v5M382.5 290v2M382.5 293v4M382.5 302v1M383.5 156v1M383.5 158v1M383.5 174v1M383.5 176v1M383.5 178v1M383.5 180v1M383.5 275v1M383.5 284v1M383.5 287v1M383.5 289v1M383.5 292v1M383.5 297v5M383.5 303v2M384.5 157v1M384.5 175v1M384.5 179v1M384.5 192v1M384.5 199v1M384.5 211v1M384.5 213v1M384.5 275v1M384.5 285v2M384.5 288v2M384.5 292v1M384.5 295v4M384.5 300v4M384.5 305v1M385.5 190v2M385.5 193v1M385.5 195v4M385.5 200v2M385.5 205v4M385.5 210v1M385.5 218v1M385.5 226v1M385.5 232v1M385.5 234v1M385.5 238v1M385.5 241v1M385.5 246v1M385.5 255v1M385.5 257v1M385.5 260v2M385.5 267v1M385.5 270v1M385.5 276v3M385.5 280v2M385.5 285v3M385.5 290v2M385.5 293v2M385.5 299v1M385.5 304v1M386.5 221v1M386.5 225v1M386.5 236v2M386.5 239v2M386.5 242v1M386.5 245v3M386.5 250v3M386.5 254v6M386.5 262v5M386.5 283v2M387.5 206v1M387.5 209v1M387.5 221v1M387.5 225v1M387.5 236v1M387.5 238v2M387.5 241v2M387.5 245v1M387.5 247v1M387.5 253v1M387.5 256v1M387.5 259v1M387.5 261v1M387.5 264v1M387.5 267v4M387.5 277v1M387.5 284v4M387.5 291v1M387.5 295v1M387.5 298v1M387.5 302v5M387.5 311v1M387.5 317v1M387.5 327v1M388.5 205v1M388.5 207v2M388.5 210v1M388.5 220v1M388.5 222v1M388.5 224v1M388.5 226v1M388.5 236v1M388.5 238v4M388.5 243v1M388.5 245v1M388.5 247v1M388.5 253v1M388.5 256v1M388.5 259v1M388.5 261v1M388.5 264v1M388.5 267v1M388.5 271v1M388.5 276v1M388.5 278v1M388.5 283v1M388.5 288v1M388.5 290v1M388.5 292v1M388.5 294v1M388.5 296v2M388.5 299v1M388.5 301v1M388.5 307v1M388.5 310v1M388.5 312v1M388.5 316v1M388.5 318v1M388.5 326v1M388.5 328v1M389.5 206v1M389.5 209v1M389.5 221v1M389.5 225v1M389.5 237v1M389.5 242v1M389.5 246v1M389.5 254v2M389.5 257v2M389.5 262v2M389.5 265v2M389.5 268v3M389.5 277v1M389.5 284v4M389.5 291v1M389.5 295v1M389.5 298v1M389.5 302v5M389.5 311v1M389.5 317v1M389.5 327v1M501.5 219v3M501.5 224v1M501.5 232v1M501.5 240v2M501.5 249v1M501.5 252v1M501.5 259v1M501.5 264v1M501.5 267v1M501.5 270v1M501.5 274v4M501.5 280v1M501.5 284v1M501.5 287v1M501.5 293v2M501.5 297v1M501.5 315v1M502.5 218v1M502.5 222v2M502.5 225v1M502.5 231v1M502.5 233v1M502.5 239v1M502.5 242v1M502.5 248v1M502.5 250v2M502.5 253v1M502.5 258v1M502.5 260v1M502.5 263v1M502.5 265v2M502.5 268v2M502.5 271v1M502.5 273v1M502.5 278v2M502.5 281v1M502.5 283v1M502.5 285v2M502.5 288v1M502.5 292v1M502.5 295v2M502.5 298v1M502.5 314v1M502.5 316v1M503.5 219v3M503.5 224v1M503.5 232v1M503.5 240v2M503.5 249v1M503.5 252v1M503.5 259v1M503.5 264v1M503.5 267v1M503.5 270v1M503.5 274v4M503.5 280v1M503.5 284v1M503.5 287v1M503.5 293v2M503.5 297v1M503.5 315v1M505.5 198v5M505.5 208v2M505.5 211v2M505.5 219v2M505.5 222v4M505.5 234v3M505.5 240v1M505.5 243v4M505.5 251v2M505.5 255v1M505.5 258v2M505.5 266v2M505.5 270v2M505.5 274v3M505.5 283v1M505.5 285v1M505.5 288v1M506.5 197v1M506.5 203v1M506.5 205v3M506.5 233v1M506.5 237v3M506.5 241v1M506.5 247v1M506.5 250v1M506.5 254v1M506.5 260v1M506.5 263v3M506.5 268v2M506.5 277v1M506.5 282v1M506.5 286v1M506.5 291v1M507.5 197v1M507.5 204v1M507.5 214v2M507.5 230v3M507.5 237v1M507.5 239v3M507.5 246v1M507.5 261v1M507.5 268v2M507.5 278v1M507.5 283v1M507.5 285v2M508.5 198v4M508.5 207v4M508.5 216v1M508.5 222v1M508.5 228v4M508.5 235v2M508.5 238v1M508.5 241v1M508.5 246v1M508.5 249v1M508.5 259v2M508.5 263v1M508.5 266v2M508.5 270v3M508.5 274v1M508.5 277v1M508.5 287v1M509.5 202v5M509.5 211v5M509.5 221v1M509.5 223v4M509.5 229v1M509.5 231v4M509.5 238v1M509.5 241v3M509.5 245v2M509.5 250v3M509.5 254v6M509.5 276v1M509.5 287v1M510.5 215v3M510.5 219v1M510.5 226v2M510.5 232v1M510.5 240v1M510.5 242v1M510.5 245v6M510.5 253v3M510.5 260v3M510.5 266v1M510.5 270v1M510.5 276v2M510.5 280v1M510.5 282v1M510.5 289v3M510.5 295v1M511.5 204v3M511.5 214v1M511.5 243v2M511.5 255v1M511.5 263v1M511.5 265v1M511.5 271v2M511.5 275v1M511.5 296v1M512.5 93v1M512.5 109v1M512.5 118v3M512.5 124v1M512.5 130v2M512.5 137v1M512.5 142v2M512.5 148v3M512.5 159v9M512.5 170v4M512.5 177v1M512.5 180v3M512.5 184v1M512.5 187v2M512.5 193v1M512.5 197v3M512.5 203v1M512.5 207v1M512.5 213v2M512.5 218v1M512.5 227v1M512.5 232v1M512.5 236v2M512.5 240v1M512.5 242v2M512.5 248v2M512.5 255v1M512.5 260v1M512.5 264v1M512.5 266v1M512.5 270v2M512.5 273v1M512.5 276v2M512.5 280v1M512.5 282v1M512.5 291v1M512.5 295v1M513.5 92v1M513.5 94v1M513.5 108v1M513.5 110v1M513.5 117v1M513.5 121v1M513.5 123v1M513.5 125v1M513.5 129v1M513.5 132v1M513.5 136v1M513.5 138v1M513.5 141v1M513.5 144v1M513.5 147v1M513.5 151v1M513.5 158v1M513.5 178v1M513.5 191v2M513.5 203v1M513.5 217v2M513.5 223v4M513.5 234v2M513.5 237v2M513.5 241v2M513.5 246v1M513.5 248v2M513.5 260v1M513.5 264v1M513.5 272v1M513.5 288v2M514.5 93v1M514.5 109v1M514.5 118v3M514.5 124v1M514.5 130v2M514.5 137v1M514.5 142v2M514.5 148v3M514.5 159v9M514.5 170v4M514.5 177v1M514.5 180v3M514.5 184v1M514.5 187v2M514.5 193v1M514.5 197v3M514.5 204v3M514.5 213v4M514.5 219v2M514.5 222v1M514.5 229v1M514.5 236v1M514.5 243v2M514.5 247v1M514.5 250v6M514.5 261v3M515.5 176v1M515.5 180v1M515.5 201v1M515.5 206v1M515.5 209v1M515.5 212v1M515.5 221v1M515.5 229v1M515.5 243v2M515.5 253v1M515.5 256v2M515.5 263v1M516.5 177v1M516.5 180v1M516.5 185v4M516.5 195v1M516.5 201v4M516.5 208v4M516.5 214v1M516.5 216v1M516.5 219v2M516.5 222v4M516.5 228v1M516.5 230v1M516.5 233v1M516.5 250v1M516.5 258v1M516.5 261v1M516.5 264v1M516.5 285v1M516.5 288v2M516.5 291v1M516.5 295v1M516.5 299v6M516.5 306v1M517.5 95v1M517.5 178v2M517.5 181v1M517.5 184v1M517.5 189v1M517.5 194v1M517.5 196v1M517.5 200v1M517.5 292v1M517.5 294v1M517.5 296v1M517.5 298v1M517.5 307v1M517.5 312v1M517.5 325v1M517.5 328v1M517.5 354v1M518.5 94v1M518.5 96v1M518.5 177v1M518.5 180v1M518.5 185v4M518.5 195v1M518.5 201v1M518.5 295v1M518.5 299v3M518.5 307v1M518.5 311v1M518.5 313v1M518.5 324v1M518.5 326v2M518.5 329v1M518.5 353v1M518.5 355v1M519.5 95v1M519.5 202v1M519.5 294v1M519.5 296v1M519.5 298v1M519.5 307v1M519.5 312v1M519.5 325v1M519.5 328v1M519.5 354v1M520.5 169v2M520.5 182v4M520.5 187v3M520.5 193v4M520.5 198v1M520.5 291v1M520.5 296v1M520.5 298v1M520.5 304v3M520.5 357v1M521.5 168v1M521.5 171v1M521.5 178v2M521.5 181v1M521.5 287v2M521.5 290v2M521.5 294v3M521.5 298v1M521.5 356v1M521.5 358v1M522.5 167v2M522.5 171v1M522.5 175v3M522.5 180v2M522.5 190v1M522.5 293v4M522.5 298v1M522.5 357v1M523.5 145v1M523.5 148v1M523.5 164v1M523.5 167v2M523.5 171v1M523.5 174v1M523.5 180v2M523.5 188v1M523.5 190v1M523.5 293v2M523.5 298v2M523.5 317v1M523.5 357v1M524.5 144v1M524.5 146v2M524.5 149v1M524.5 163v1M524.5 165v1M524.5 168v3M524.5 175v1M524.5 177v1M524.5 180v1M524.5 182v1M524.5 185v1M524.5 196v1M524.5 295v2M524.5 300v1M524.5 305v1M524.5 316v1M524.5 318v1M524.5 322v1M524.5 344v1M524.5 356v1M524.5 358v1M525.5 145v1M525.5 148v1M525.5 164v1M525.5 166v2M525.5 176v1M525.5 178v1M525.5 182v1M525.5 185v2M525.5 195v1M525.5 198v1M525.5 292v1M525.5 296v1M525.5 298v2M525.5 304v1M525.5 306v1M525.5 317v1M525.5 321v1M525.5 323v1M525.5 343v1M525.5 345v1M525.5 357v1M526.5 110v1M526.5 166v2M526.5 170v3M526.5 176v1M526.5 178v3M526.5 186v1M526.5 188v1M526.5 190v2M526.5 194v1M526.5 197v1M526.5 199v1M526.5 271v1M526.5 279v1M526.5 288v1M526.5 291v1M526.5 297v3M526.5 304v1M526.5 306v1M526.5 322v1M526.5 344v1M527.5 109v1M527.5 111v1M527.5 123v1M527.5 165v1M527.5 167v1M527.5 169v1M527.5 173v3M527.5 295v3M527.5 299v3M527.5 304v1M527.5 306v1M527.5 322v1M528.5 110v1M528.5 122v1M528.5 124v1M528.5 157v3M528.5 166v2M528.5 169v1M528.5 297v3M528.5 302v1M528.5 304v1M528.5 306v2M528.5 316v1M528.5 321v1M528.5 323v1M528.5 328v1M528.5 332v1M529.5 103v1M529.5 115v1M529.5 123v1M529.5 127v1M529.5 134v1M529.5 140v1M529.5 146v1M529.5 156v1M529.5 160v2M529.5 166v2M529.5 169v1M529.5 302v1M529.5 304v1M529.5 308v2M529.5 315v1M529.5 317v1M529.5 322v1M529.5 327v1M529.5 329v1M529.5 331v1M529.5 333v1M530.5 102v1M530.5 104v1M530.5 114v1M530.5 116v1M530.5 126v1M530.5 128v1M530.5 133v1M530.5 135v1M530.5 139v1M530.5 141v1M530.5 145v1M530.5 147v1M530.5 157v4M530.5 162v1M530.5 166v1M530.5 168v1M530.5 170v1M530.5 295v1M530.5 301v1M530.5 305v4M530.5 310v1M530.5 316v1M530.5 328v1M530.5 332v1M531.5 103v1M531.5 115v1M531.5 127v1M531.5 134v1M531.5 140v1M531.5 146v1M531.5 161v1M531.5 167v1M531.5 172v1M531.5 174v8M531.5 185v2M531.5 192v2M531.5 196v4M531.5 201v1M531.5 221v4M531.5 229v1M531.5 244v1M531.5 264v1M531.5 271v2M531.5 278v1M531.5 282v1M531.5 289v2M531.5 292v1M531.5 296v2M531.5 300v1M531.5 309v1M532.5 188v1M532.5 194v1M532.5 197v1M532.5 202v4M532.5 207v2M532.5 210v2M532.5 217v1M532.5 228v1M532.5 231v1M532.5 234v2M532.5 238v6M532.5 246v2M532.5 250v1M532.5 253v1M532.5 255v4M532.5 260v2M532.5 267v4M532.5 273v1M532.5 275v2M532.5 279v3M533.5 147v1M533.5 150v1M533.5 158v3M533.5 163v1M533.5 168v3M533.5 174v1M533.5 177v1M533.5 180v1M533.5 188v1M533.5 194v3M533.5 199v4M533.5 208v2M533.5 212v1M533.5 218v1M533.5 221v1M533.5 228v1M533.5 232v1M533.5 236v3M533.5 241v4M533.5 246v1M533.5 248v4M533.5 253v1M533.5 256v9M533.5 267v1M533.5 269v1M533.5 272v1M533.5 276v1M533.5 278v1M533.5 284v1M534.5 146v1M534.5 148v2M534.5 151v1M534.5 157v1M534.5 161v2M534.5 164v1M534.5 167v1M534.5 171v1M534.5 173v1M534.5 175v2M534.5 178v2M534.5 181v1M534.5 186v2M534.5 189v1M534.5 192v1M534.5 213v1M534.5 219v2M534.5 226v2M534.5 229v1M534.5 231v1M534.5 254v3M534.5 265v1M534.5 283v1M534.5 285v1M535.5 147v1M535.5 150v1M535.5 158v3M535.5 163v1M535.5 168v3M535.5 174v1M535.5 177v1M535.5 180v1M535.5 185v1M535.5 187v5M535.5 201v1M535.5 269v1M535.5 273v1M535.5 282v2M535.5 285v1M535.5 293v1M535.5 296v1M535.5 300v1M535.5 304v1M536.5 186v1M536.5 189v1M536.5 191v2M536.5 285v1M536.5 292v1M536.5 294v2M536.5 297v1M536.5 299v1M536.5 301v1M536.5 303v1M536.5 305v1M537.5 190v1M537.5 201v2M537.5 204v1M537.5 210v5M537.5 216v2M537.5 231v1M537.5 234v5M537.5 242v2M537.5 246v1M537.5 249v2M537.5 284v1M537.5 293v1M537.5 296v1M537.5 300v1M537.5 304v1M538.5 224v4M538.5 245v1M538.5 253v3M538.5 258v1M538.5 260v1M538.5 262v2M538.5 265v5M538.5 272v5M538.5 279v1M539.5 244v8M539.5 253v7M539.5 261v2M539.5 264v7M539.5 273v1M539.5 276v3M539.5 307v1M539.5 340v1M540.5 140v1M540.5 149v2M540.5 158v2M540.5 169v1M540.5 180v1M540.5 187v1M540.5 190v2M540.5 194v1M540.5 197v1M540.5 202v1M540.5 211v1M540.5 217v2M540.5 220v1M540.5 225v1M540.5 233v2M540.5 238v1M540.5 242v1M540.5 280v3M540.5 289v1M540.5 295v1M540.5 299v1M540.5 306v1M540.5 308v1M540.5 320v1M540.5 335v1M540.5 339v1M540.5 341v1M541.5 139v1M541.5 141v1M541.5 148v1M541.5 151v1M541.5 157v1M541.5 160v1M541.5 168v1M541.5 170v1M541.5 179v1M541.5 181v1M541.5 186v1M541.5 196v1M541.5 198v2M541.5 203v2M541.5 224v1M541.5 283v1M541.5 288v1M541.5 290v1M541.5 294v1M541.5 296v1M541.5 298v1M541.5 300v1M541.5 307v1M541.5 319v1M541.5 321v1M541.5 334v1M541.5 336v1M541.5 340v1M542.5 140v1M542.5 149v2M542.5 158v2M542.5 169v1M542.5 180v1M542.5 187v1M542.5 190v2M542.5 194v1M542.5 197v1M542.5 202v2M542.5 211v1M542.5 217v2M542.5 220v1M542.5 225v1M542.5 233v2M542.5 238v1M542.5 242v1M542.5 253v2M542.5 258v1M542.5 269v2M542.5 280v3M542.5 289v1M542.5 295v1M542.5 299v1M542.5 320v1M542.5 335v1M543.5 99v2M543.5 106v4M543.5 111v2M543.5 119v1M543.5 121v3M543.5 129v3M543.5 180v1M543.5 189v1M543.5 191v1M543.5 194v1M543.5 201v7M543.5 210v4M543.5 216v1M543.5 219v1M543.5 221v1M543.5 226v1M543.5 228v3M543.5 232v2M543.5 235v2M543.5 239v1M543.5 241v13M543.5 255v3M543.5 259v1M543.5 261v2M543.5 264v7M543.5 272v1M543.5 274v1M543.5 276v4M543.5 295v1M544.5 82v1M544.5 86v1M544.5 89v2M544.5 98v1M544.5 101v1M544.5 105v1M544.5 110v1M544.5 113v1M544.5 116v3M544.5 120v1M544.5 124v1M544.5 128v1M544.5 132v2M544.5 140v1M544.5 146v1M544.5 154v1M544.5 159v1M544.5 162v1M544.5 165v1M544.5 177v2M544.5 186v2M544.5 197v1M544.5 222v1M544.5 225v1M544.5 231v1M544.5 237v2M544.5 263v1M544.5 273v1M544.5 280v2M544.5 284v1M544.5 287v3M544.5 293v3M544.5 307v1M544.5 318v1M544.5 325v2M544.5 335v1M544.5 343v1M544.5 355v1M544.5 376v1M544.5 407v1M545.5 81v1M545.5 83v1M545.5 85v1M545.5 87v2M545.5 91v1M545.5 98v1M545.5 101v1M545.5 106v2M545.5 113v1M545.5 115v1M545.5 118v3M545.5 123v1M545.5 128v1M545.5 134v1M545.5 139v1M545.5 141v1M545.5 145v1M545.5 147v1M545.5 155v1M545.5 160v2M545.5 166v2M545.5 282v2M545.5 290v1M545.5 292v1M545.5 296v1M545.5 301v1M545.5 306v1M545.5 308v1M545.5 317v1M545.5 319v1M545.5 324v1M545.5 327v1M545.5 334v1M545.5 336v1M545.5 342v1M545.5 344v1M545.5 354v1M545.5 356v1M545.5 375v1M545.5 377v1M545.5 406v1M545.5 408v1M546.5 82v1M546.5 86v1M546.5 89v2M546.5 99v2M546.5 108v5M546.5 116v2M546.5 121v2M546.5 129v5M546.5 140v1M546.5 146v1M546.5 154v1M546.5 159v1M546.5 162v1M546.5 166v1M546.5 177v2M546.5 282v2M546.5 290v1M546.5 292v1M546.5 300v1M546.5 302v1M546.5 307v1M546.5 318v1M546.5 325v2M546.5 335v1M546.5 343v1M546.5 355v1M546.5 376v1M546.5 407v1M547.5 163v2M547.5 167v8M547.5 179v10M547.5 200v2M547.5 203v3M547.5 207v2M547.5 213v1M547.5 218v1M547.5 221v4M547.5 227v1M547.5 230v2M547.5 233v1M547.5 237v4M547.5 242v3M547.5 250v1M547.5 252v1M547.5 256v2M547.5 265v1M547.5 270v1M547.5 273v2M547.5 280v2M547.5 284v1M547.5 288v2M547.5 293v1M547.5 301v1M551.5 205v3M551.5 212v3M551.5 220v3M551.5 225v3M551.5 230v2M551.5 236v4M551.5 243v1M551.5 245v3M551.5 249v2M551.5 253v1M551.5 257v3M551.5 261v1M551.5 269v1M551.5 272v1M551.5 274v3M551.5 279v2M551.5 286v1M552.5 181v1M552.5 191v1M552.5 196v2M552.5 200v2M552.5 209v1M552.5 215v1M552.5 277v2M552.5 282v1M552.5 285v1M552.5 287v1M552.5 290v1M552.5 307v1M553.5 180v1M553.5 182v1M553.5 190v1M553.5 192v1M553.5 195v1M553.5 277v2M553.5 283v1M553.5 286v1M553.5 289v1M553.5 291v1M553.5 306v1M553.5 308v1M554.5 181v1M554.5 191v1M554.5 196v2M554.5 200v2M554.5 209v1M554.5 214v1M554.5 221v1M554.5 231v1M554.5 235v2M554.5 275v1M554.5 279v2M554.5 282v1M554.5 290v1M554.5 307v1" stroke="#f4f8fb"/>
<path d="M102.5 158v1M102.5 166v2M102.5 175v3M102.5 179v2M102.5 183v1M102.5 186v3M102.5 190v1M102.5 192v1M102.5 194v4M102.5 199v1M102.5 202v1M102.5 204v3M102.5 209v1M102.5 211v3M102.5 216v1M102.5 228v1M102.5 250v1M103.5 148v3M103.5 156v1M103.5 171v1M103.5 224v1M103.5 226v1M103.5 229v2M103.5 232v1M103.5 234v1M103.5 242v1M103.5 252v1M103.5 270v1M104.5 146v1M104.5 244v2M104.5 248v2M104.5 251v1M104.5 271v1M104.5 280v1M105.5 147v1M105.5 151v1M105.5 154v1M105.5 165v1M105.5 169v1M105.5 251v3M105.5 257v1M105.5 262v2M105.5 271v3M105.5 278v1M105.5 281v1M106.5 158v2M106.5 173v3M106.5 256v1M106.5 266v1M106.5 270v1M106.5 282v1M107.5 216v3M107.5 226v1M107.5 234v1M107.5 239v2M107.5 245v3M107.5 250v1M107.5 252v2M107.5 257v2M107.5 261v2M107.5 265v1M107.5 271v3M107.5 280v2M108.5 181v2M108.5 187v1M108.5 190v1M108.5 193v4M108.5 198v2M108.5 201v3M108.5 205v3M108.5 209v3M108.5 213v1M108.5 222v2M108.5 233v1M113.5 196v2M113.5 214v1M113.5 227v1M114.5 185v1M114.5 188v4M114.5 199v6M114.5 207v1M114.5 209v1M114.5 223v2M114.5 229v5M114.5 235v1M114.5 252v1M114.5 256v1M115.5 223v1M115.5 239v1M115.5 254v1M116.5 185v1M116.5 188v4M116.5 193v1M116.5 198v7M116.5 207v1M116.5 209v3M116.5 213v1M116.5 215v3M116.5 220v1M116.5 224v8M116.5 234v1M116.5 236v3M116.5 252v1M116.5 256v1M117.5 247v1M117.5 287v1M117.5 310v1M118.5 202v3M118.5 207v1M118.5 218v2M118.5 222v4M118.5 231v1M118.5 233v2M118.5 243v1M118.5 251v1M118.5 253v1M118.5 256v1M118.5 258v2M118.5 263v4M118.5 273v1M118.5 276v3M118.5 280v1M118.5 283v3M118.5 290v9M118.5 309v1M118.5 312v1M118.5 320v1M119.5 188v1M119.5 197v1M119.5 199v3M119.5 212v4M119.5 228v1M119.5 274v2M119.5 314v1M119.5 316v1M120.5 194v1M120.5 210v1M120.5 226v1M120.5 228v2M120.5 270v1M120.5 274v2M120.5 280v1M120.5 286v1M120.5 296v2M120.5 299v1M120.5 306v2M120.5 317v2M120.5 321v4M120.5 329v1M121.5 194v3M121.5 199v1M121.5 207v1M121.5 210v1M121.5 212v1M121.5 296v2M121.5 302v1M121.5 304v1M121.5 318v1M121.5 321v2M121.5 324v1M121.5 328v1M122.5 199v1M122.5 203v1M122.5 206v1M122.5 208v1M122.5 212v1M122.5 220v1M122.5 255v1M122.5 318v1M122.5 322v1M122.5 324v1M122.5 329v1M123.5 200v2M123.5 209v1M123.5 214v2M123.5 218v1M123.5 222v2M123.5 230v1M123.5 235v1M123.5 237v1M123.5 254v2M123.5 258v1M123.5 283v2M123.5 317v1M123.5 319v1M123.5 322v1M123.5 325v1M124.5 225v3M124.5 232v2M124.5 239v1M124.5 241v1M124.5 247v2M124.5 250v3M124.5 256v1M124.5 259v5M124.5 269v3M124.5 273v3M124.5 282v1M124.5 285v1M124.5 292v4M124.5 297v2M124.5 303v1M124.5 305v2M124.5 309v1M124.5 311v1M124.5 313v1M124.5 315v1M126.5 245v4M127.5 189v2M127.5 194v1M127.5 198v1M127.5 200v2M127.5 204v1M127.5 206v2M127.5 209v1M127.5 213v2M127.5 216v5M127.5 228v1M127.5 230v2M127.5 234v1M127.5 238v2M127.5 265v1M127.5 267v1M127.5 271v3M127.5 275v1M127.5 279v1M127.5 281v1M127.5 287v1M127.5 289v1M127.5 291v1M127.5 293v1M127.5 296v3M127.5 303v2M127.5 307v1M127.5 309v1M127.5 311v2M127.5 314v2M128.5 183v1M128.5 185v2M128.5 223v1M128.5 300v2M128.5 318v1M128.5 321v1M128.5 323v1M128.5 325v1M129.5 182v1M129.5 188v1M129.5 191v2M129.5 318v1M129.5 324v1M129.5 327v1M129.5 329v2M130.5 193v1M130.5 197v1M130.5 199v1M130.5 203v1M130.5 211v3M130.5 221v3M130.5 227v2M130.5 318v1M130.5 321v1M130.5 323v1M130.5 327v2M131.5 192v2M131.5 199v1M131.5 202v1M131.5 206v1M131.5 208v1M131.5 210v1M131.5 221v1M131.5 232v1M131.5 234v1M131.5 236v1M131.5 281v1M131.5 292v2M131.5 319v1M131.5 321v1M131.5 326v1M131.5 328v1M132.5 206v1M132.5 208v2M132.5 228v1M132.5 231v1M132.5 298v1M132.5 305v1M132.5 310v3M132.5 314v1M132.5 316v2M132.5 327v1M133.5 190v2M133.5 199v2M133.5 210v1M133.5 217v1M133.5 228v1M133.5 231v1M133.5 234v1M133.5 251v1M133.5 253v1M133.5 274v2M133.5 278v1M133.5 280v1M133.5 284v1M133.5 294v1M133.5 301v1M133.5 303v2M133.5 306v1M133.5 308v1M134.5 196v3M134.5 202v3M134.5 213v1M134.5 215v1M134.5 219v2M134.5 224v1M134.5 229v2M134.5 241v1M134.5 243v1M134.5 250v1M134.5 255v1M134.5 257v1M134.5 263v3M134.5 281v1M134.5 286v2M134.5 289v1M134.5 298v1M134.5 301v2M135.5 205v3M135.5 209v4M135.5 214v1M135.5 216v3M135.5 221v1M135.5 227v2M135.5 230v1M135.5 232v1M135.5 234v2M135.5 244v2M135.5 249v1M135.5 253v1M135.5 255v3M135.5 276v2M135.5 279v2M135.5 288v1M135.5 292v1M135.5 295v3M135.5 301v2M136.5 173v2M136.5 190v2M136.5 195v1M136.5 201v2M136.5 280v1M136.5 282v1M136.5 287v1M136.5 290v1M136.5 294v1M136.5 300v1M136.5 303v1M136.5 308v1M136.5 311v1M136.5 313v1M137.5 167v1M137.5 169v1M137.5 196v2M137.5 277v1M137.5 280v2M137.5 285v1M137.5 297v1M137.5 304v1M137.5 306v1M137.5 312v2M138.5 184v1M138.5 196v2M138.5 199v3M138.5 278v1M138.5 280v2M138.5 292v2M138.5 300v3M138.5 304v1M138.5 307v1M138.5 314v1M139.5 163v1M139.5 167v1M139.5 185v1M139.5 192v2M139.5 195v2M139.5 201v2M139.5 281v1M139.5 292v1M139.5 295v1M139.5 298v1M139.5 323v1M140.5 165v1M140.5 188v2M140.5 205v5M140.5 220v1M140.5 224v1M140.5 229v1M140.5 231v2M140.5 234v2M140.5 237v1M140.5 239v3M140.5 243v1M140.5 247v2M140.5 260v2M140.5 263v3M140.5 272v1M140.5 275v1M140.5 282v1M140.5 284v2M140.5 290v2M140.5 296v1M140.5 324v1M141.5 214v1M141.5 217v1M141.5 226v1M141.5 246v1M141.5 250v1M141.5 252v1M141.5 268v2M141.5 271v1M141.5 276v1M141.5 279v2M141.5 288v1M141.5 290v1M142.5 192v1M142.5 195v2M142.5 199v4M142.5 210v1M142.5 213v2M142.5 223v1M142.5 232v1M142.5 235v3M142.5 240v1M142.5 248v2M142.5 251v1M142.5 253v2M142.5 256v1M142.5 259v2M142.5 262v5M142.5 269v2M142.5 275v2M142.5 280v7M142.5 291v2M142.5 294v2M142.5 301v5M142.5 309v2M142.5 321v1M142.5 326v3M142.5 331v1M142.5 336v1M143.5 188v1M143.5 190v2M143.5 203v1M143.5 207v1M143.5 211v2M143.5 215v1M143.5 221v2M143.5 224v1M143.5 231v1M143.5 267v2M143.5 296v1M143.5 322v1M143.5 325v1M143.5 337v1M144.5 192v1M144.5 195v2M144.5 199v4M144.5 210v1M144.5 213v2M144.5 223v1M144.5 232v1M144.5 235v3M144.5 240v1M144.5 246v1M144.5 248v4M144.5 253v2M144.5 256v1M144.5 259v2M144.5 262v5M144.5 269v2M144.5 275v4M144.5 280v7M144.5 288v1M144.5 291v2M144.5 294v2M144.5 301v5M144.5 309v2M144.5 321v1M144.5 326v3M144.5 331v1M144.5 336v1M146.5 211v1M146.5 219v1M146.5 230v1M146.5 235v1M146.5 244v1M146.5 247v2M146.5 254v4M146.5 260v2M146.5 263v1M146.5 272v1M146.5 279v1M146.5 284v1M146.5 295v1M146.5 327v1M147.5 207v1M147.5 210v1M147.5 229v1M147.5 232v1M147.5 249v1M147.5 252v1M147.5 271v1M147.5 287v3M147.5 292v2M147.5 297v1M147.5 299v2M147.5 306v1M147.5 315v1M148.5 211v1M148.5 227v1M148.5 229v1M148.5 243v2M148.5 246v1M148.5 249v1M148.5 256v2M148.5 271v1M148.5 275v1M148.5 278v1M148.5 290v2M148.5 293v4M148.5 300v1M148.5 327v1M149.5 215v1M149.5 218v2M149.5 221v2M149.5 230v1M149.5 233v3M149.5 248v1M149.5 253v2M149.5 259v1M149.5 262v2M149.5 266v1M149.5 272v3M149.5 282v1M149.5 284v3M149.5 288v2M149.5 299v1M150.5 214v2M150.5 218v1M150.5 224v1M150.5 231v2M150.5 237v3M150.5 246v1M150.5 250v1M150.5 256v3M150.5 260v1M150.5 263v1M150.5 266v1M150.5 269v2M150.5 272v1M150.5 274v5M150.5 283v1M150.5 285v1M150.5 287v2M150.5 295v1M150.5 299v3M150.5 304v2M150.5 307v1M150.5 313v2M151.5 200v1M151.5 203v1M151.5 209v1M151.5 222v1M151.5 234v2M151.5 251v1M151.5 264v2M151.5 268v1M151.5 291v3M151.5 297v1M151.5 310v1M152.5 184v1M152.5 207v1M152.5 222v1M152.5 234v1M152.5 264v1M152.5 311v1M152.5 313v3M152.5 326v1M152.5 364v1M153.5 185v1M153.5 187v1M153.5 189v1M153.5 199v2M153.5 202v1M153.5 207v1M153.5 220v1M153.5 233v1M153.5 236v1M153.5 265v1M153.5 280v1M153.5 286v1M153.5 292v1M153.5 294v1M153.5 300v2M153.5 303v1M153.5 311v1M153.5 318v1M153.5 320v1M153.5 322v1M153.5 325v2M153.5 332v1M153.5 343v1M153.5 363v1M154.5 200v1M154.5 206v1M154.5 208v1M154.5 214v1M154.5 226v1M154.5 228v1M154.5 268v1M154.5 272v2M154.5 282v2M154.5 288v2M154.5 291v1M154.5 294v1M154.5 300v1M154.5 302v1M154.5 319v1M154.5 321v1M154.5 331v1M154.5 342v1M155.5 188v1M155.5 197v1M155.5 199v2M155.5 202v3M155.5 212v1M155.5 217v1M155.5 232v1M155.5 238v1M155.5 241v1M155.5 248v1M155.5 250v1M155.5 263v1M155.5 265v1M155.5 267v1M155.5 269v1M155.5 271v1M155.5 295v1M155.5 311v1M156.5 255v1M158.5 194v2M158.5 197v2M158.5 201v2M158.5 205v1M158.5 208v2M158.5 212v8M158.5 222v1M158.5 224v1M158.5 230v1M158.5 244v1M158.5 247v6M158.5 254v2M158.5 260v3M158.5 265v2M158.5 268v3M158.5 273v1M158.5 277v2M158.5 280v2M158.5 284v1M158.5 287v4M158.5 294v4M158.5 305v3M159.5 193v1M159.5 283v1M159.5 291v1M159.5 293v1M159.5 304v1M160.5 186v1M160.5 193v1M160.5 196v1M160.5 207v1M160.5 269v1M160.5 279v1M160.5 282v1M160.5 284v1M160.5 289v2M160.5 295v1M160.5 297v3M160.5 305v3M161.5 188v1M161.5 195v2M161.5 202v1M161.5 208v1M161.5 270v1M161.5 274v2M161.5 280v2M161.5 283v2M161.5 295v1M161.5 298v1M162.5 189v1M162.5 193v2M162.5 199v2M162.5 203v1M162.5 209v1M162.5 211v1M162.5 265v1M162.5 269v1M162.5 272v2M162.5 276v1M162.5 286v2M163.5 198v1M163.5 211v1M163.5 233v4M163.5 267v2M164.5 197v1M164.5 200v1M164.5 203v4M164.5 208v1M164.5 226v1M164.5 230v2M164.5 240v3M164.5 248v1M164.5 258v1M164.5 263v4M164.5 269v2M164.5 274v2M164.5 278v4M164.5 283v1M164.5 285v1M164.5 288v3M165.5 198v1M165.5 208v1M165.5 213v1M165.5 234v1M165.5 236v1M165.5 257v1M165.5 267v1M165.5 271v1M165.5 273v1M165.5 291v1M166.5 173v1M166.5 184v1M166.5 207v1M166.5 212v1M166.5 229v1M166.5 231v1M166.5 234v1M166.5 241v1M166.5 243v1M166.5 248v1M166.5 256v1M166.5 260v3M166.5 269v2M166.5 274v2M166.5 278v4M166.5 283v1M166.5 285v1M166.5 288v3M166.5 401v1M167.5 198v3M167.5 203v2M167.5 215v2M167.5 218v1M167.5 224v4M167.5 249v1M167.5 264v2M284.5 261v4M284.5 266v1M285.5 222v1M285.5 224v1M285.5 226v1M285.5 260v1M286.5 261v4M286.5 266v1M290.5 211v1M290.5 214v1M290.5 217v1M290.5 222v3M290.5 229v1M290.5 233v1M290.5 241v1M290.5 248v2M290.5 254v2M290.5 262v4M290.5 268v1M290.5 270v1M290.5 274v2M291.5 221v1M291.5 256v1M291.5 259v2M291.5 272v1M291.5 276v1M292.5 210v2M292.5 219v1M292.5 226v2M292.5 246v2M292.5 271v1M293.5 212v2M293.5 220v2M293.5 276v1M294.5 214v1M294.5 235v1M294.5 237v2M294.5 272v1M294.5 274v2M294.5 277v1M295.5 202v1M295.5 207v1M295.5 212v1M295.5 214v2M295.5 218v1M295.5 221v1M295.5 226v2M295.5 229v1M295.5 242v1M295.5 246v1M295.5 252v1M295.5 260v1M295.5 262v3M295.5 268v1M295.5 273v1M296.5 177v1M296.5 190v1M296.5 206v1M296.5 213v1M296.5 221v2M296.5 227v1M296.5 246v1M296.5 252v2M296.5 267v1M297.5 201v1M297.5 207v1M297.5 213v1M297.5 219v1M297.5 221v2M297.5 225v2M297.5 245v2M297.5 252v1M297.5 254v1M297.5 256v2M297.5 259v1M297.5 267v1M297.5 309v1M298.5 202v1M298.5 231v1M298.5 248v1M305.5 201v1M305.5 203v2M305.5 211v4M305.5 223v7M305.5 231v2M305.5 234v1M305.5 239v1M305.5 241v4M305.5 248v6M305.5 255v1M305.5 257v1M305.5 261v2M305.5 265v2M306.5 206v1M306.5 217v1M306.5 246v1M307.5 201v1M307.5 203v2M307.5 211v4M307.5 223v7M307.5 231v2M307.5 234v1M307.5 239v1M307.5 241v4M307.5 248v4M307.5 253v1M307.5 257v1M307.5 261v2M307.5 266v1M308.5 238v2M308.5 244v4M308.5 249v2M308.5 252v1M308.5 255v1M308.5 261v2M308.5 265v1M308.5 268v1M308.5 270v2M308.5 274v1M309.5 209v1M309.5 211v1M309.5 220v2M309.5 225v3M309.5 232v2M309.5 235v1M309.5 276v1M309.5 282v3M310.5 202v1M310.5 208v1M310.5 213v1M310.5 222v2M310.5 280v2M310.5 291v1M311.5 201v1M311.5 203v1M311.5 207v1M311.5 215v1M311.5 223v1M311.5 273v1M311.5 279v3M311.5 285v3M311.5 289v1M312.5 222v1M312.5 281v1M312.5 290v3M313.5 197v1M313.5 202v1M313.5 282v1M313.5 286v1M313.5 288v3M314.5 263v1M314.5 278v1M314.5 282v4M314.5 289v1M315.5 280v1M315.5 287v2M315.5 293v1M316.5 203v2M316.5 206v3M316.5 210v1M316.5 213v1M316.5 216v1M316.5 219v1M316.5 222v2M316.5 225v1M316.5 234v1M316.5 236v1M316.5 239v1M316.5 242v1M316.5 245v5M316.5 266v1M316.5 275v4M316.5 282v1M316.5 284v1M316.5 289v2M317.5 196v1M317.5 205v2M317.5 208v2M317.5 213v1M317.5 215v1M317.5 217v1M317.5 219v2M317.5 222v1M317.5 224v1M317.5 226v1M317.5 235v1M317.5 238v2M317.5 242v1M317.5 252v1M317.5 265v2M317.5 268v1M317.5 272v1M317.5 275v1M317.5 277v1M317.5 286v1M318.5 195v1M318.5 203v2M318.5 212v1M319.5 196v1M319.5 205v2M319.5 208v2M319.5 215v1M319.5 217v1M319.5 219v2M319.5 222v1M319.5 224v7M319.5 233v1M319.5 235v1M319.5 237v3M319.5 241v2M319.5 246v2M319.5 252v1M319.5 254v1M319.5 260v2M319.5 265v5M319.5 271v4M321.5 155v4M321.5 162v2M321.5 168v2M321.5 175v3M321.5 181v2M321.5 186v7M321.5 195v1M321.5 199v1M321.5 203v2M321.5 207v2M321.5 218v6M321.5 232v1M321.5 236v2M321.5 272v2M322.5 84v1M322.5 86v1M322.5 92v1M322.5 94v1M322.5 131v1M322.5 133v1M322.5 136v1M322.5 147v1M322.5 150v1M322.5 160v1M322.5 166v2M322.5 179v1M322.5 193v2M322.5 196v1M322.5 209v2M322.5 228v1M322.5 234v2M322.5 239v1M322.5 243v2M322.5 246v1M322.5 249v1M322.5 260v1M322.5 269v2M322.5 276v1M323.5 154v1M323.5 162v1M323.5 170v1M323.5 175v3M323.5 179v2M323.5 182v1M323.5 185v1M323.5 194v1M323.5 196v2M323.5 238v3M323.5 246v1M323.5 252v1M323.5 267v1M323.5 269v1M324.5 181v2M324.5 268v1M324.5 271v1M324.5 276v1M324.5 282v1M325.5 156v3M325.5 164v1M325.5 167v2M325.5 179v1M325.5 182v1M325.5 268v1M325.5 276v1M326.5 183v1M326.5 185v2M326.5 189v1M326.5 191v2M326.5 195v3M326.5 205v1M326.5 207v1M326.5 210v1M326.5 219v2M326.5 234v1M326.5 237v1M326.5 268v2M326.5 273v3M326.5 282v1M327.5 197v4M327.5 205v1M327.5 207v1M327.5 272v1M327.5 274v1M327.5 278v1M327.5 282v1M328.5 200v2M328.5 205v1M328.5 210v1M328.5 219v1M328.5 275v1M328.5 280v1M328.5 284v1M329.5 198v2M329.5 211v3M329.5 218v1M329.5 221v3M329.5 241v1M329.5 257v4M329.5 265v1M329.5 269v1M329.5 272v2M329.5 277v1M329.5 284v1M329.5 286v1M330.5 227v6M330.5 234v2M330.5 237v3M330.5 245v3M330.5 255v1M330.5 262v1M330.5 285v1M331.5 230v1M331.5 235v2M331.5 240v4M331.5 246v3M331.5 258v1M331.5 262v1M331.5 264v2M331.5 269v1M331.5 277v1M332.5 227v1M332.5 231v1M332.5 251v4M332.5 271v2M332.5 286v3M332.5 290v1M332.5 292v1M332.5 295v2M333.5 216v5M333.5 222v2M333.5 283v2M333.5 297v1M334.5 296v1M335.5 216v5M335.5 222v4M335.5 227v2M335.5 232v4M335.5 239v1M335.5 242v2M335.5 245v1M335.5 247v2M335.5 250v1M335.5 254v2M335.5 260v3M335.5 266v3M335.5 273v1M335.5 279v3M335.5 286v1M335.5 289v3M335.5 293v2M338.5 199v1M338.5 241v1M342.5 245v1M342.5 247v1M342.5 253v1M343.5 225v2M343.5 229v1M343.5 232v1M343.5 237v1M343.5 240v3M343.5 257v2M343.5 261v1M343.5 265v1M343.5 268v1M344.5 220v1M344.5 223v2M344.5 233v1M344.5 260v1M345.5 208v1M345.5 214v1M345.5 216v1M345.5 218v4M345.5 272v2M345.5 275v1M346.5 233v1M346.5 275v1M347.5 211v1M347.5 266v2M347.5 269v1M347.5 271v3M348.5 204v1M348.5 262v2M348.5 268v2M348.5 272v1M349.5 202v1M349.5 205v2M349.5 269v4M349.5 274v1M349.5 276v1M350.5 165v1M350.5 178v1M350.5 198v2M350.5 201v1M350.5 203v1M350.5 215v3M350.5 226v1M350.5 229v2M350.5 254v3M350.5 262v1M350.5 264v5M350.5 273v1M351.5 213v1M351.5 218v1M351.5 220v1M351.5 236v2M351.5 242v2M356.5 190v1M356.5 193v4M356.5 204v1M356.5 206v1M356.5 208v1M356.5 212v8M356.5 221v2M356.5 224v1M356.5 226v3M356.5 231v1M356.5 236v4M356.5 243v4M356.5 257v1M356.5 259v2M356.5 264v1M356.5 266v2M357.5 116v1M357.5 198v1M357.5 232v1M357.5 240v3M357.5 251v1M357.5 261v1M357.5 268v1M357.5 271v1M358.5 85v1M358.5 148v1M358.5 168v1M358.5 170v1M358.5 172v1M358.5 174v1M358.5 190v1M358.5 193v2M358.5 198v1M358.5 200v1M358.5 204v1M358.5 206v1M358.5 215v1M358.5 218v2M358.5 221v2M358.5 224v1M358.5 231v1M358.5 236v1M358.5 238v2M358.5 244v3M358.5 256v1M358.5 268v2M358.5 276v1M358.5 282v3M359.5 116v1M359.5 175v1M359.5 199v1M359.5 201v1M359.5 207v1M359.5 212v2M359.5 218v4M359.5 226v2M359.5 230v1M359.5 233v3M359.5 237v4M359.5 250v1M359.5 257v5M359.5 263v1M359.5 268v2M359.5 277v1M359.5 281v1M359.5 284v6M360.5 196v1M360.5 200v1M360.5 204v1M360.5 214v1M360.5 222v1M360.5 231v2M360.5 248v2M360.5 289v1M360.5 298v1M361.5 197v1M361.5 202v2M361.5 212v1M361.5 219v1M361.5 224v2M361.5 231v2M361.5 271v1M361.5 282v1M361.5 284v1M361.5 296v1M361.5 298v2M362.5 186v1M362.5 284v2M362.5 290v1M362.5 300v2M362.5 303v1M363.5 192v1M363.5 285v1M363.5 297v4M363.5 303v1M364.5 184v3M364.5 189v4M364.5 296v1M364.5 299v1M364.5 305v1M365.5 187v1M365.5 302v1M366.5 191v1M366.5 297v2M366.5 303v1M367.5 182v1M367.5 186v4M367.5 193v3M367.5 197v1M367.5 201v1M367.5 208v1M367.5 227v1M367.5 262v1M367.5 283v2M367.5 295v2M367.5 304v1M368.5 165v1M368.5 191v1M368.5 206v1M368.5 209v1M368.5 215v1M368.5 261v2M368.5 275v1M369.5 211v4M369.5 218v1M369.5 221v2M369.5 225v1M369.5 228v2M369.5 233v2M369.5 239v2M369.5 242v1M369.5 245v1M369.5 248v3M369.5 253v1M369.5 256v1M369.5 260v1M369.5 263v2M369.5 271v2M382.5 190v2M382.5 193v1M382.5 198v1M382.5 200v3M382.5 204v4M382.5 212v1M382.5 214v4M382.5 221v1M382.5 224v3M382.5 229v1M382.5 231v2M382.5 234v1M382.5 236v1M382.5 238v1M382.5 242v1M382.5 247v2M382.5 250v1M382.5 252v1M382.5 255v1M382.5 258v1M382.5 261v3M382.5 271v1M382.5 273v1M382.5 278v1M383.5 189v1M383.5 274v1M383.5 276v1M383.5 290v1M383.5 293v1M383.5 295v1M384.5 189v1M384.5 203v2M384.5 212v1M384.5 214v4M384.5 274v1M384.5 291v1M384.5 294v1M385.5 194v1M385.5 202v1M385.5 209v1M385.5 219v4M385.5 224v2M385.5 227v5M385.5 233v1M385.5 236v2M385.5 239v1M385.5 242v1M385.5 244v1M385.5 247v3M385.5 254v1M385.5 256v1M385.5 258v2M385.5 262v3M385.5 266v1M385.5 268v2M385.5 271v3M385.5 279v1M385.5 282v1M387.5 254v1M387.5 257v1M387.5 262v1M387.5 265v1M388.5 255v1M388.5 258v1M388.5 263v1M388.5 266v1M388.5 269v1M388.5 285v1M388.5 303v1M388.5 305v1M502.5 220v1M502.5 275v1M505.5 218v1M505.5 221v1M505.5 226v4M505.5 256v1M505.5 272v2M505.5 284v1M505.5 289v2M506.5 201v1M506.5 208v1M506.5 210v1M506.5 213v1M506.5 217v1M506.5 230v1M506.5 242v1M506.5 245v1M506.5 253v1M506.5 270v1M506.5 287v2M507.5 198v1M507.5 200v2M507.5 203v1M507.5 205v1M507.5 207v1M507.5 213v1M507.5 218v3M507.5 236v1M507.5 242v1M507.5 245v1M507.5 250v1M507.5 262v1M507.5 264v2M507.5 267v1M507.5 284v1M507.5 288v3M508.5 202v1M508.5 204v1M508.5 206v1M508.5 214v1M508.5 221v1M508.5 223v1M508.5 227v1M508.5 243v2M508.5 251v4M508.5 258v1M508.5 273v1M508.5 275v2M510.5 220v6M510.5 228v1M510.5 231v1M510.5 233v1M510.5 235v1M510.5 238v2M510.5 241v1M510.5 251v2M510.5 257v3M510.5 267v3M510.5 278v2M510.5 283v6M510.5 292v3M511.5 218v1M511.5 236v2M511.5 242v1M511.5 247v1M511.5 249v1M511.5 256v1M511.5 262v1M511.5 281v2M512.5 168v2M512.5 174v3M512.5 183v1M512.5 185v2M512.5 189v1M512.5 194v3M512.5 200v2M512.5 204v1M512.5 206v1M512.5 209v4M512.5 215v3M512.5 223v1M512.5 226v1M512.5 233v1M512.5 235v1M512.5 238v2M512.5 241v1M512.5 244v4M512.5 252v3M512.5 259v1M512.5 263v1M512.5 267v3M512.5 278v2M512.5 283v4M512.5 290v1M512.5 292v3M513.5 119v1M513.5 149v1M513.5 161v1M513.5 163v1M513.5 165v1M513.5 167v1M513.5 172v1M513.5 179v1M513.5 190v1M513.5 198v1M513.5 202v1M513.5 207v2M513.5 214v1M513.5 219v1M513.5 228v1M513.5 231v1M513.5 245v1M513.5 259v1M514.5 168v2M514.5 174v3M514.5 183v1M514.5 185v2M514.5 189v1M514.5 194v3M514.5 200v2M514.5 209v4M514.5 221v1M514.5 230v1M514.5 256v3M516.5 176v1M516.5 205v3M516.5 212v2M516.5 217v2M516.5 221v1M516.5 229v1M516.5 231v1M516.5 234v1M516.5 236v1M516.5 239v1M516.5 242v1M516.5 246v2M516.5 249v1M516.5 251v1M516.5 254v1M516.5 259v1M516.5 262v2M516.5 265v3M516.5 272v7M516.5 282v3M516.5 286v2M516.5 290v1M517.5 175v1M517.5 186v1M517.5 215v1M517.5 293v1M517.5 297v1M517.5 300v1M517.5 302v1M517.5 304v2M518.5 176v1M518.5 202v1M518.5 294v1M518.5 296v1M518.5 298v1M518.5 302v1M519.5 214v1M519.5 303v2M519.5 306v1M520.5 186v1M520.5 192v1M520.5 199v3M520.5 205v2M520.5 214v1M520.5 279v1M520.5 287v1M520.5 292v2M520.5 297v1M521.5 169v1M521.5 188v1M521.5 190v2M521.5 205v1M522.5 179v1M522.5 188v1M522.5 191v1M522.5 288v1M522.5 290v3M522.5 297v1M523.5 169v1M523.5 177v2M523.5 182v1M523.5 185v1M523.5 187v1M523.5 189v1M523.5 292v1M523.5 296v1M524.5 166v1M524.5 176v1M524.5 178v1M524.5 186v2M524.5 189v2M524.5 195v1M524.5 197v1M524.5 292v1M524.5 297v2M525.5 179v1M525.5 183v1M525.5 190v1M525.5 194v1M525.5 199v1M525.5 249v2M525.5 263v1M525.5 280v1M525.5 290v2M526.5 177v1M526.5 181v5M526.5 187v1M526.5 189v1M526.5 195v2M526.5 200v1M526.5 203v1M526.5 217v1M526.5 229v2M526.5 248v1M526.5 258v1M526.5 272v1M526.5 280v2M526.5 287v1M526.5 290v1M526.5 292v2M526.5 305v1M527.5 170v1M527.5 172v1M527.5 176v1M527.5 288v1M527.5 294v1M528.5 296v1M528.5 300v1M528.5 305v1M529.5 158v1M529.5 170v1M529.5 294v2M529.5 297v2M529.5 301v1M529.5 306v1M530.5 171v1M530.5 293v1M530.5 296v1M531.5 173v1M531.5 182v3M531.5 187v1M531.5 190v2M531.5 194v2M531.5 200v1M531.5 202v1M531.5 205v2M531.5 210v2M531.5 215v2M531.5 220v1M531.5 235v3M531.5 248v1M531.5 259v1M531.5 263v1M531.5 265v2M531.5 279v1M531.5 281v1M531.5 283v3M531.5 288v1M531.5 291v1M531.5 298v2M532.5 232v2M532.5 251v2M532.5 274v1M533.5 197v2M533.5 203v5M533.5 210v2M533.5 216v2M533.5 222v2M533.5 233v3M533.5 239v2M533.5 247v1M533.5 252v1M533.5 270v2M533.5 274v2M533.5 279v1M533.5 281v1M534.5 159v1M534.5 169v1M534.5 193v1M534.5 201v1M534.5 215v1M534.5 218v1M534.5 224v1M534.5 230v1M534.5 242v1M534.5 244v2M534.5 251v1M534.5 259v1M534.5 261v1M534.5 263v1M534.5 266v1M534.5 268v2M534.5 273v1M534.5 277v2M534.5 282v1M535.5 193v1M535.5 195v1M535.5 213v3M535.5 218v2M535.5 224v3M535.5 228v1M535.5 231v1M535.5 238v1M535.5 242v1M535.5 247v1M535.5 254v3M535.5 259v1M535.5 262v2M535.5 265v4M535.5 270v1M535.5 272v1M535.5 278v1M535.5 284v1M536.5 193v1M536.5 203v1M536.5 247v2M536.5 269v2M536.5 282v2M537.5 194v7M537.5 205v5M537.5 215v1M537.5 218v6M537.5 228v3M537.5 232v2M537.5 239v1M537.5 241v1M537.5 244v2M537.5 251v2M537.5 256v1M537.5 259v1M537.5 263v2M537.5 280v2M538.5 261v1M538.5 270v2M538.5 277v2M539.5 263v1M539.5 271v2M539.5 274v2M540.5 188v2M540.5 201v1M540.5 206v5M540.5 212v5M540.5 219v1M540.5 221v2M540.5 226v3M540.5 230v3M540.5 235v3M540.5 239v1M540.5 241v1M540.5 243v1M540.5 252v2M540.5 257v1M540.5 270v1M540.5 277v3M541.5 192v2M541.5 195v1M541.5 200v1M541.5 205v1M541.5 223v1M541.5 233v2M541.5 257v1M542.5 188v2M542.5 201v1M542.5 206v5M542.5 212v5M542.5 219v1M542.5 221v2M542.5 226v3M542.5 230v3M542.5 235v3M542.5 239v1M542.5 241v1M542.5 243v5M542.5 249v4M542.5 255v2M542.5 259v1M542.5 261v8M542.5 271v3M542.5 275v5M543.5 208v2M543.5 214v2M543.5 234v1M543.5 240v1M543.5 260v1M543.5 271v1M543.5 275v1M544.5 100v1M544.5 107v1M544.5 109v1M544.5 111v1M544.5 121v1M544.5 129v1M544.5 131v1M544.5 152v2M544.5 157v2M544.5 163v2M544.5 169v6M544.5 176v1M544.5 179v4M544.5 185v1M544.5 188v1M544.5 192v3M544.5 196v1M544.5 198v1M544.5 217v2M544.5 221v1M544.5 223v2M544.5 226v2M544.5 243v1M544.5 247v2M544.5 264v2M544.5 274v1M544.5 279v1M544.5 285v2M545.5 99v1M545.5 108v1M545.5 110v1M545.5 112v1M545.5 122v1M545.5 132v1M545.5 151v1M545.5 156v1M545.5 165v1M545.5 168v1M545.5 281v1M545.5 289v1M546.5 152v2M546.5 157v2M546.5 165v1M546.5 168v1M546.5 176v1M546.5 206v1M546.5 294v2M547.5 191v9M547.5 202v1M547.5 209v4M547.5 214v1M547.5 216v2M547.5 219v2M547.5 225v2M547.5 228v2M547.5 232v1M547.5 234v1M547.5 236v1M547.5 241v1M547.5 245v4M547.5 251v1M547.5 253v1M547.5 258v2M547.5 261v1M547.5 263v2M547.5 266v1M547.5 269v1M547.5 271v2M547.5 275v3M547.5 279v1M547.5 285v3M551.5 223v2M551.5 228v2M551.5 232v4M551.5 240v3M551.5 244v1M551.5 248v1M551.5 251v2M551.5 254v3M551.5 260v1M551.5 264v3M551.5 268v1M551.5 270v2M551.5 273v1M552.5 198v2M552.5 202v3M552.5 208v1M552.5 210v1M552.5 214v1M552.5 217v1M552.5 279v1M552.5 281v1M553.5 215v2M553.5 276v1M553.5 281v1M554.5 198v2M554.5 202v4M554.5 207v2M554.5 210v4M554.5 217v1M554.5 220v1M554.5 222v1M554.5 224v4M554.5 230v1M554.5 232v3M554.5 237v3M554.5 245v7M554.5 253v7M554.5 264v1M554.5 269v1M554.5 272v3" stroke="#e9f1f8"/>
<path d="M102.5 184v2M102.5 193v1M102.5 198v1M102.5 201v1M102.5 207v2M102.5 210v1M102.5 214v2M103.5 160v1M103.5 165v1M103.5 170v1M103.5 172v2M103.5 182v1M103.5 220v1M104.5 235v2M104.5 240v1M104.5 242v1M104.5 247v1M104.5 250v1M105.5 156v1M105.5 162v3M105.5 166v1M105.5 170v1M105.5 258v2M105.5 261v1M105.5 264v1M106.5 176v3M106.5 265v1M106.5 275v1M107.5 219v2M107.5 225v1M107.5 230v1M107.5 235v4M107.5 241v1M107.5 263v1M108.5 188v2M108.5 204v1M108.5 214v1M114.5 186v2M114.5 193v1M114.5 198v1M114.5 205v2M114.5 210v2M114.5 216v2M114.5 225v2M114.5 228v1M114.5 236v1M114.5 238v1M115.5 208v1M115.5 222v1M115.5 233v1M116.5 186v2M116.5 195v3M116.5 205v2M116.5 214v1M116.5 218v2M118.5 220v2M118.5 236v7M118.5 244v2M118.5 249v2M118.5 254v2M118.5 260v1M118.5 262v1M118.5 267v3M118.5 271v1M118.5 289v1M119.5 196v1M119.5 206v1M119.5 216v1M119.5 226v1M119.5 230v1M119.5 309v1M119.5 319v1M119.5 321v1M120.5 201v2M120.5 206v1M120.5 209v1M120.5 212v1M120.5 227v1M120.5 230v1M120.5 273v1M120.5 279v1M120.5 287v1M120.5 292v1M120.5 294v2M120.5 298v1M120.5 311v1M120.5 314v1M121.5 202v1M121.5 208v1M121.5 211v1M121.5 216v2M121.5 239v1M121.5 279v2M121.5 298v1M121.5 311v3M121.5 316v1M122.5 202v1M122.5 210v1M122.5 217v1M122.5 219v1M122.5 229v3M122.5 253v2M122.5 323v1M123.5 224v1M123.5 240v1M123.5 257v1M123.5 276v1M123.5 278v1M123.5 321v1M123.5 328v1M124.5 249v1M124.5 286v2M124.5 290v2M124.5 304v1M124.5 307v2M124.5 312v1M127.5 195v3M127.5 208v1M127.5 215v1M127.5 225v3M127.5 232v1M127.5 235v3M127.5 240v4M127.5 250v3M127.5 259v1M127.5 263v2M127.5 266v1M127.5 268v3M127.5 276v3M127.5 284v3M127.5 292v1M127.5 305v2M127.5 310v1M128.5 192v1M128.5 210v2M128.5 221v2M128.5 316v1M129.5 184v1M129.5 189v1M129.5 210v1M129.5 322v1M130.5 194v1M130.5 196v1M130.5 202v1M130.5 209v1M130.5 214v2M130.5 224v1M130.5 226v1M130.5 230v1M130.5 232v2M131.5 207v1M131.5 211v3M131.5 225v1M131.5 229v1M131.5 235v1M131.5 237v1M131.5 282v1M131.5 306v2M132.5 191v1M132.5 199v2M132.5 226v1M132.5 274v2M132.5 280v1M132.5 282v1M132.5 292v1M132.5 294v1M132.5 299v1M132.5 301v1M132.5 303v2M132.5 307v1M132.5 309v1M132.5 313v1M133.5 193v1M133.5 211v1M133.5 218v1M133.5 221v1M133.5 244v1M133.5 248v2M133.5 254v1M133.5 273v1M133.5 277v1M133.5 279v1M133.5 283v1M133.5 285v1M133.5 291v1M133.5 297v1M133.5 300v1M134.5 237v3M134.5 242v1M134.5 246v1M134.5 258v1M134.5 266v1M134.5 275v1M134.5 277v1M135.5 204v1M135.5 213v1M135.5 222v5M135.5 231v1M135.5 240v3M135.5 247v1M135.5 250v3M135.5 254v1M135.5 258v1M135.5 261v1M135.5 263v1M135.5 265v1M135.5 270v1M135.5 273v1M135.5 275v1M135.5 278v1M136.5 186v2M136.5 189v1M136.5 219v1M136.5 279v1M136.5 289v1M136.5 291v1M137.5 193v1M137.5 200v1M137.5 276v1M137.5 278v1M137.5 287v1M137.5 296v1M137.5 299v1M137.5 301v2M138.5 165v1M138.5 167v1M138.5 174v1M138.5 192v1M138.5 276v1M138.5 279v1M138.5 285v3M138.5 291v1M138.5 297v2M139.5 187v1M139.5 198v1M139.5 282v1M140.5 203v1M140.5 211v1M140.5 216v1M140.5 219v1M140.5 222v1M140.5 228v1M140.5 238v1M140.5 242v1M140.5 244v1M140.5 249v1M140.5 253v2M140.5 256v2M140.5 259v1M140.5 266v1M140.5 270v2M140.5 279v1M140.5 286v2M140.5 289v1M141.5 277v1M142.5 233v2M142.5 238v2M142.5 246v2M142.5 250v1M142.5 252v1M142.5 255v1M142.5 271v1M142.5 273v2M142.5 277v3M142.5 288v1M142.5 290v1M142.5 306v3M143.5 194v1M143.5 197v1M143.5 209v1M143.5 241v1M143.5 243v1M143.5 257v1M143.5 261v1M143.5 320v1M143.5 329v1M143.5 332v1M143.5 335v1M144.5 233v2M144.5 238v2M144.5 247v1M144.5 252v1M144.5 255v1M144.5 271v4M144.5 279v1M144.5 289v2M144.5 306v3M147.5 195v1M147.5 218v1M147.5 221v2M147.5 224v1M147.5 226v1M147.5 231v1M147.5 239v2M147.5 242v1M147.5 245v1M147.5 264v1M147.5 282v2M147.5 326v1M148.5 216v1M148.5 225v1M148.5 232v1M148.5 241v1M148.5 247v1M148.5 255v1M148.5 258v1M148.5 264v2M148.5 267v1M148.5 279v1M148.5 283v1M148.5 298v1M149.5 260v2M150.5 233v1M150.5 273v1M150.5 284v1M150.5 286v1M150.5 306v1M151.5 211v1M151.5 217v1M151.5 219v1M151.5 226v1M151.5 230v1M151.5 244v1M151.5 248v1M151.5 253v1M151.5 261v2M151.5 267v1M151.5 282v1M151.5 309v1M151.5 315v1M152.5 202v1M152.5 230v1M152.5 236v1M152.5 244v1M152.5 247v2M152.5 251v2M152.5 266v1M152.5 268v1M152.5 293v1M152.5 299v2M152.5 302v1M152.5 304v1M152.5 307v2M153.5 201v1M153.5 206v1M153.5 214v2M153.5 228v1M153.5 266v1M153.5 268v1M153.5 274v2M153.5 278v1M153.5 284v1M153.5 287v1M153.5 289v1M153.5 296v1M154.5 189v1M154.5 198v1M154.5 202v1M154.5 209v1M154.5 216v1M154.5 220v1M154.5 232v1M154.5 236v1M154.5 240v1M154.5 243v1M154.5 245v2M154.5 251v2M154.5 257v1M154.5 264v1M154.5 266v1M155.5 211v1M155.5 224v1M155.5 230v1M155.5 254v1M155.5 256v1M155.5 260v1M158.5 199v2M158.5 203v2M158.5 210v2M158.5 220v2M158.5 225v5M158.5 231v13M158.5 253v1M158.5 256v4M158.5 263v2M158.5 267v1M158.5 271v2M158.5 274v3M158.5 285v2M159.5 282v1M160.5 195v1M160.5 202v4M160.5 208v1M160.5 215v2M160.5 219v1M160.5 223v1M160.5 235v1M160.5 251v1M160.5 262v1M160.5 270v1M160.5 274v2M160.5 278v1M160.5 280v2M160.5 288v1M160.5 294v1M160.5 296v1M161.5 210v1M161.5 219v1M161.5 257v1M161.5 269v1M161.5 278v1M162.5 196v1M162.5 202v1M162.5 218v2M162.5 233v1M162.5 263v1M163.5 201v1M163.5 225v2M163.5 231v1M163.5 240v2M163.5 249v1M163.5 262v1M164.5 201v2M164.5 207v1M164.5 212v3M164.5 216v3M164.5 225v1M164.5 227v1M164.5 229v1M164.5 232v1M164.5 237v1M164.5 239v1M164.5 245v1M164.5 249v3M164.5 259v1M164.5 262v1M164.5 282v1M164.5 286v2M165.5 214v1M165.5 230v1M165.5 233v1M165.5 242v1M165.5 256v1M165.5 268v1M165.5 276v1M166.5 201v1M166.5 205v2M166.5 214v1M166.5 223v1M166.5 232v1M166.5 237v1M166.5 239v1M166.5 244v1M166.5 247v1M166.5 250v3M166.5 266v1M166.5 282v1M166.5 286v2M285.5 265v1M285.5 267v1M290.5 215v2M290.5 269v1M291.5 213v1M291.5 225v1M291.5 228v1M291.5 230v1M291.5 232v1M291.5 235v1M291.5 240v1M291.5 244v1M291.5 246v1M291.5 251v1M291.5 257v1M291.5 261v1M291.5 271v1M292.5 214v1M292.5 218v1M292.5 224v1M292.5 228v1M292.5 231v2M292.5 235v1M292.5 239v2M292.5 244v2M292.5 248v1M292.5 255v1M292.5 267v1M292.5 273v3M293.5 272v1M293.5 274v1M294.5 219v1M294.5 221v1M294.5 233v2M294.5 240v1M294.5 271v1M295.5 216v2M295.5 220v1M295.5 223v3M295.5 228v1M295.5 230v1M295.5 232v1M295.5 247v1M295.5 251v1M295.5 253v1M295.5 257v1M295.5 267v1M296.5 201v1M296.5 208v1M296.5 219v1M296.5 230v1M296.5 233v1M297.5 203v1M297.5 215v2M297.5 218v1M297.5 265v1M305.5 233v1M305.5 235v4M305.5 256v1M305.5 258v3M305.5 263v2M306.5 215v1M307.5 233v1M307.5 235v4M307.5 252v1M307.5 255v2M307.5 258v3M307.5 263v3M308.5 253v2M308.5 256v1M308.5 260v1M309.5 210v1M309.5 272v1M310.5 212v1M310.5 229v1M310.5 231v1M310.5 272v2M310.5 278v1M310.5 287v1M310.5 289v1M311.5 209v1M311.5 214v1M311.5 219v1M311.5 231v1M311.5 245v1M311.5 288v1M312.5 204v1M312.5 217v1M312.5 223v1M312.5 287v1M313.5 203v1M313.5 263v1M313.5 283v1M314.5 226v1M314.5 277v1M314.5 290v1M314.5 293v1M315.5 202v1M315.5 217v1M315.5 226v1M315.5 284v1M315.5 286v1M315.5 291v1M316.5 209v1M316.5 211v2M316.5 214v2M316.5 220v2M316.5 227v1M316.5 229v2M316.5 233v1M316.5 237v1M316.5 240v2M316.5 244v1M316.5 251v2M316.5 255v5M316.5 261v2M316.5 264v2M316.5 267v5M317.5 216v1M317.5 221v1M317.5 225v1M317.5 227v4M317.5 233v1M317.5 236v2M317.5 240v2M317.5 245v7M317.5 254v6M317.5 261v4M317.5 267v1M317.5 269v3M317.5 273v2M318.5 207v1M318.5 210v1M318.5 223v1M318.5 253v1M318.5 276v1M319.5 216v1M319.5 221v1M319.5 231v2M319.5 236v1M319.5 240v1M319.5 243v3M319.5 248v4M319.5 255v5M319.5 262v3M319.5 270v1M322.5 164v1M322.5 180v1M322.5 183v1M322.5 185v1M322.5 198v1M322.5 200v1M322.5 205v1M322.5 214v1M322.5 231v1M322.5 248v1M322.5 255v1M322.5 258v1M322.5 274v1M323.5 155v5M323.5 163v2M323.5 166v2M323.5 178v1M323.5 181v1M323.5 183v2M323.5 191v1M323.5 193v1M323.5 225v2M323.5 230v2M323.5 234v2M323.5 241v1M323.5 245v1M323.5 253v1M323.5 262v3M323.5 266v1M323.5 271v1M323.5 274v1M324.5 267v1M325.5 165v2M325.5 204v1M325.5 220v1M325.5 271v1M326.5 198v5M326.5 209v1M326.5 212v2M326.5 215v2M326.5 222v1M326.5 231v1M326.5 238v1M326.5 256v2M326.5 272v1M326.5 281v1M327.5 210v1M327.5 219v1M327.5 221v1M327.5 231v1M327.5 270v2M328.5 206v1M328.5 221v1M328.5 272v1M328.5 276v1M329.5 214v1M329.5 240v1M329.5 249v1M329.5 251v2M329.5 264v1M329.5 266v1M329.5 268v1M329.5 270v1M330.5 226v1M330.5 236v1M332.5 225v2M332.5 228v1M332.5 232v1M332.5 237v2M332.5 249v1M332.5 255v2M332.5 267v1M332.5 273v1M332.5 281v1M332.5 293v2M334.5 285v1M334.5 295v1M335.5 236v3M335.5 240v2M335.5 251v2M335.5 258v2M335.5 274v5M335.5 287v2M343.5 231v1M343.5 238v1M343.5 243v1M343.5 250v1M343.5 256v1M343.5 266v1M344.5 228v1M344.5 236v1M344.5 259v1M344.5 262v2M345.5 215v1M345.5 222v3M345.5 228v2M345.5 249v1M345.5 252v1M345.5 260v1M345.5 270v1M345.5 274v1M346.5 210v1M346.5 213v1M346.5 217v1M346.5 221v1M346.5 234v1M346.5 268v1M346.5 271v1M347.5 207v1M347.5 210v1M347.5 212v2M347.5 216v1M347.5 222v1M347.5 232v1M347.5 234v1M347.5 263v3M347.5 270v1M348.5 217v1M348.5 265v3M349.5 229v2M349.5 262v1M350.5 207v1M350.5 222v3M350.5 227v1M350.5 240v2M350.5 245v3M350.5 252v2M350.5 257v1M351.5 219v1M356.5 205v1M356.5 209v1M356.5 225v1M356.5 229v2M356.5 265v1M357.5 188v1M357.5 191v1M357.5 235v1M357.5 247v1M357.5 252v1M357.5 256v1M357.5 290v1M358.5 197v1M358.5 205v1M358.5 214v1M358.5 216v2M358.5 225v3M358.5 230v1M358.5 237v1M358.5 242v2M358.5 255v1M358.5 257v1M358.5 273v1M358.5 289v1M359.5 195v1M359.5 205v2M359.5 208v1M359.5 211v1M359.5 216v2M359.5 228v2M359.5 241v1M359.5 243v1M359.5 252v1M359.5 254v1M359.5 266v2M359.5 270v1M359.5 276v1M360.5 215v1M360.5 244v1M360.5 257v2M360.5 260v1M360.5 262v1M360.5 270v1M360.5 278v1M360.5 280v1M361.5 195v2M361.5 198v4M361.5 204v1M361.5 214v2M361.5 220v1M361.5 230v1M361.5 243v3M361.5 249v1M361.5 252v1M361.5 270v1M361.5 277v2M361.5 280v2M361.5 286v1M361.5 289v1M361.5 297v1M362.5 286v1M362.5 291v1M362.5 294v2M363.5 193v1M363.5 209v1M363.5 286v1M363.5 296v1M363.5 302v1M364.5 187v1M364.5 194v1M364.5 232v1M364.5 290v2M364.5 301v1M364.5 304v1M365.5 186v1M365.5 191v1M365.5 193v1M365.5 202v1M365.5 291v1M365.5 299v1M365.5 301v1M365.5 303v1M366.5 184v2M366.5 190v1M366.5 202v1M366.5 291v1M366.5 305v1M367.5 192v1M367.5 199v2M367.5 204v1M367.5 206v1M367.5 212v1M367.5 223v1M367.5 243v1M367.5 261v1M367.5 265v1M367.5 275v4M368.5 210v1M368.5 216v1M368.5 219v1M368.5 223v1M368.5 227v1M368.5 243v1M368.5 265v1M368.5 267v1M368.5 270v1M369.5 230v3M369.5 235v4M369.5 241v1M382.5 194v4M382.5 209v2M382.5 218v2M382.5 222v2M382.5 227v2M382.5 233v1M382.5 237v1M382.5 239v3M382.5 243v3M382.5 253v1M382.5 256v1M382.5 259v2M382.5 264v7M383.5 203v1M383.5 213v1M383.5 281v2M384.5 191v1M384.5 198v1M384.5 200v1M384.5 205v1M384.5 235v1M384.5 277v1M384.5 284v1M385.5 223v1M385.5 240v1M385.5 243v1M385.5 245v1M385.5 250v1M385.5 253v1M385.5 265v1M385.5 283v1M505.5 257v1M506.5 199v1M506.5 211v1M506.5 220v1M506.5 223v2M506.5 235v1M506.5 252v1M506.5 259v1M506.5 274v1M506.5 276v1M507.5 210v1M507.5 233v1M507.5 244v1M507.5 251v1M507.5 254v1M507.5 271v2M508.5 211v1M508.5 224v1M508.5 226v1M508.5 234v1M508.5 256v1M510.5 229v2M510.5 234v1M511.5 216v1M511.5 219v1M511.5 227v1M511.5 232v1M511.5 253v1M511.5 260v1M511.5 277v1M511.5 290v1M512.5 224v1M512.5 228v1M512.5 234v1M512.5 250v2M512.5 256v1M512.5 261v1M512.5 287v2M513.5 170v1M513.5 181v1M513.5 184v1M513.5 187v1M513.5 252v1M513.5 255v1M516.5 226v2M516.5 232v1M516.5 235v1M516.5 237v2M516.5 240v2M516.5 243v3M516.5 248v1M516.5 252v2M516.5 255v3M516.5 260v1M516.5 268v4M516.5 279v3M517.5 203v1M517.5 208v1M517.5 210v2M517.5 214v1M517.5 219v1M517.5 291v1M518.5 208v1M519.5 203v1M519.5 210v1M519.5 215v1M519.5 293v1M520.5 202v1M520.5 204v1M520.5 210v1M520.5 215v1M520.5 218v1M520.5 271v1M520.5 288v1M520.5 290v1M521.5 183v2M521.5 196v2M521.5 204v1M521.5 206v1M521.5 210v1M521.5 268v1M521.5 286v1M521.5 289v1M522.5 170v1M522.5 182v1M522.5 187v1M522.5 279v1M522.5 287v1M523.5 191v1M524.5 184v1M525.5 188v1M525.5 191v1M525.5 200v1M525.5 228v3M525.5 233v2M525.5 248v1M525.5 251v1M525.5 258v1M525.5 262v1M525.5 264v1M525.5 279v1M525.5 281v1M525.5 288v1M526.5 192v1M526.5 201v1M526.5 204v1M526.5 212v2M526.5 218v1M526.5 227v2M526.5 233v1M526.5 235v2M526.5 242v4M526.5 249v1M526.5 251v2M526.5 255v2M526.5 264v2M526.5 270v1M526.5 274v1M526.5 278v1M526.5 285v2M526.5 289v1M527.5 178v1M527.5 180v1M527.5 184v1M527.5 188v1M527.5 198v1M527.5 287v1M528.5 175v1M528.5 294v1M529.5 299v1M530.5 172v1M530.5 180v1M530.5 271v1M530.5 290v1M530.5 292v1M530.5 300v1M531.5 188v2M531.5 203v2M531.5 207v3M531.5 212v3M531.5 217v3M531.5 225v4M531.5 230v1M531.5 234v1M531.5 238v1M531.5 240v1M531.5 243v1M531.5 245v3M531.5 249v1M531.5 258v1M531.5 261v2M531.5 267v2M531.5 270v1M531.5 275v3M531.5 280v1M531.5 286v2M533.5 280v1M534.5 195v1M534.5 199v1M534.5 209v1M534.5 212v1M534.5 221v1M534.5 236v1M534.5 238v1M534.5 249v1M534.5 272v1M535.5 196v1M535.5 199v2M535.5 202v2M535.5 209v1M535.5 211v1M535.5 216v2M535.5 220v1M535.5 223v1M535.5 227v1M535.5 229v1M535.5 236v1M535.5 241v1M535.5 243v1M535.5 245v2M535.5 248v1M535.5 250v2M535.5 253v1M535.5 260v2M535.5 264v1M535.5 271v1M535.5 274v1M535.5 277v1M536.5 201v1M536.5 211v1M536.5 213v1M536.5 217v1M536.5 236v1M536.5 238v1M536.5 243v1M536.5 250v1M536.5 271v1M537.5 225v1M537.5 240v1M537.5 253v1M537.5 255v1M537.5 257v2M537.5 260v1M537.5 265v1M537.5 267v1M537.5 269v1M537.5 274v1M537.5 279v1M540.5 229v1M540.5 240v1M540.5 244v1M540.5 246v2M540.5 251v1M540.5 259v3M540.5 266v2M540.5 269v1M540.5 276v1M541.5 190v1M541.5 217v1M541.5 258v1M541.5 270v1M541.5 281v1M542.5 229v1M542.5 240v1M542.5 248v1M542.5 260v1M542.5 274v1M544.5 175v1M544.5 183v2M544.5 189v3M544.5 195v1M544.5 199v4M544.5 205v1M544.5 219v2M544.5 230v1M544.5 232v1M544.5 236v1M544.5 239v1M544.5 250v1M544.5 257v3M544.5 262v1M544.5 268v2M544.5 272v1M544.5 278v1M545.5 130v1M545.5 177v1M545.5 186v1M545.5 237v1M545.5 242v2M545.5 248v1M545.5 273v1M545.5 294v1M546.5 163v1M546.5 174v2M546.5 179v1M546.5 181v2M546.5 186v1M546.5 205v1M546.5 207v1M546.5 223v1M546.5 231v1M546.5 237v1M546.5 242v1M546.5 249v1M546.5 273v1M546.5 284v1M547.5 189v2M547.5 215v1M547.5 235v1M547.5 254v2M547.5 260v1M547.5 262v1M547.5 267v2M547.5 278v1M551.5 262v2M551.5 267v1M552.5 205v1M552.5 207v1M552.5 211v2M552.5 218v3M553.5 197v1M553.5 200v1M553.5 275v1M553.5 280v1M554.5 206v1M554.5 218v2M554.5 223v1M554.5 228v2M554.5 240v5M554.5 252v1M554.5 260v4M554.5 265v4M554.5 270v2" stroke="#ddebf4"/>
<path d="M103.5 157v1M103.5 159v1M103.5 162v1M103.5 164v1M103.5 174v1M103.5 181v1M103.5 189v1M104.5 155v1M104.5 169v1M104.5 221v2M104.5 224v2M104.5 231v1M105.5 149v1M105.5 157v1M105.5 160v1M105.5 168v1M105.5 239v1M105.5 245v2M105.5 249v1M105.5 280v1M106.5 167v1M106.5 179v1M106.5 251v1M106.5 260v1M106.5 279v1M107.5 180v1M107.5 186v1M107.5 191v2M107.5 221v1M107.5 224v1M107.5 227v1M107.5 229v1M107.5 242v1M107.5 244v1M114.5 213v1M114.5 218v1M114.5 220v1M115.5 192v1M115.5 212v1M115.5 235v1M118.5 246v1M118.5 248v1M118.5 281v1M118.5 288v1M119.5 208v1M119.5 257v1M119.5 279v1M119.5 311v1M120.5 198v1M120.5 203v1M120.5 207v1M120.5 217v1M120.5 257v1M120.5 271v1M120.5 276v1M120.5 281v1M120.5 284v2M120.5 293v1M120.5 308v1M121.5 204v2M121.5 226v1M121.5 229v1M121.5 238v1M121.5 240v1M121.5 270v1M121.5 287v1M121.5 292v1M121.5 300v1M121.5 320v1M122.5 222v1M122.5 226v1M122.5 232v1M122.5 236v2M122.5 240v1M122.5 252v1M122.5 256v1M122.5 258v1M122.5 276v2M122.5 279v1M122.5 283v2M122.5 292v2M122.5 296v1M122.5 303v1M122.5 310v1M122.5 316v1M122.5 320v1M123.5 228v1M123.5 242v2M123.5 245v1M123.5 266v2M123.5 280v1M123.5 296v1M123.5 300v1M123.5 302v1M123.5 310v1M123.5 314v1M124.5 289v1M127.5 244v1M127.5 249v1M127.5 253v1M127.5 255v1M127.5 260v1M127.5 262v1M127.5 282v1M128.5 202v1M128.5 205v1M128.5 224v1M128.5 229v1M128.5 274v1M128.5 288v1M128.5 294v2M128.5 299v1M129.5 198v1M129.5 213v1M129.5 229v1M129.5 239v1M129.5 301v1M130.5 195v1M130.5 200v1M130.5 205v2M130.5 216v2M130.5 220v1M130.5 225v1M130.5 231v1M130.5 234v1M130.5 236v2M130.5 281v2M130.5 286v1M130.5 292v2M130.5 307v3M131.5 198v1M131.5 201v1M131.5 204v1M131.5 215v1M131.5 220v1M131.5 238v1M131.5 298v1M131.5 315v1M132.5 193v1M132.5 203v1M132.5 205v1M132.5 224v1M132.5 230v1M133.5 212v1M133.5 214v1M133.5 216v1M133.5 225v1M133.5 236v1M133.5 245v1M133.5 247v1M133.5 255v1M133.5 270v1M133.5 290v1M133.5 296v1M134.5 262v1M134.5 267v1M134.5 270v1M134.5 273v1M135.5 237v1M135.5 239v1M135.5 259v2M135.5 272v1M135.5 274v1M136.5 203v1M136.5 220v1M136.5 244v1M136.5 264v1M137.5 283v1M137.5 289v1M137.5 294v1M138.5 186v2M138.5 191v1M138.5 194v1M138.5 202v1M138.5 221v1M138.5 229v1M138.5 257v1M138.5 284v1M138.5 288v1M138.5 290v1M138.5 295v1M139.5 190v1M139.5 220v2M139.5 223v1M139.5 247v1M139.5 274v2M139.5 277v1M139.5 284v1M139.5 288v2M140.5 215v1M140.5 218v1M140.5 225v1M140.5 245v1M140.5 278v1M142.5 272v1M142.5 289v1M143.5 245v1M143.5 287v1M143.5 293v1M147.5 237v1M147.5 266v1M147.5 273v1M147.5 280v1M147.5 285v1M148.5 220v1M148.5 223v1M148.5 236v1M148.5 238v1M148.5 281v1M148.5 287v1M151.5 213v1M151.5 216v1M151.5 225v1M151.5 228v1M151.5 240v1M151.5 242v1M151.5 259v1M151.5 280v1M151.5 289v1M151.5 302v1M152.5 204v1M152.5 209v3M152.5 217v1M152.5 219v1M152.5 229v1M152.5 243v1M152.5 263v1M152.5 275v1M152.5 279v1M152.5 287v1M152.5 305v1M153.5 204v1M153.5 219v1M153.5 223v1M153.5 227v1M153.5 237v1M153.5 244v1M153.5 257v1M153.5 261v1M153.5 263v1M153.5 281v1M153.5 290v1M153.5 295v1M153.5 310v1M154.5 239v1M154.5 247v1M154.5 254v1M154.5 259v1M154.5 261v1M154.5 276v1M154.5 309v1M155.5 219v1M159.5 196v1M159.5 207v1M159.5 223v1M159.5 245v1M159.5 279v1M160.5 194v1M160.5 198v1M160.5 201v1M160.5 218v1M160.5 220v1M160.5 224v1M160.5 233v2M160.5 236v1M160.5 245v5M160.5 252v2M160.5 257v1M160.5 259v3M160.5 263v3M160.5 271v3M160.5 277v1M160.5 285v3M161.5 198v1M161.5 200v1M161.5 211v1M161.5 215v1M161.5 233v1M161.5 235v1M161.5 251v1M161.5 264v1M162.5 215v3M162.5 220v1M162.5 236v1M162.5 248v2M162.5 251v1M162.5 257v1M162.5 266v1M163.5 218v1M163.5 251v1M163.5 256v1M163.5 258v1M164.5 215v1M164.5 219v3M164.5 223v2M164.5 228v1M164.5 243v2M164.5 246v2M164.5 254v2M164.5 260v2M165.5 199v1M165.5 217v1M165.5 239v1M165.5 248v1M165.5 259v1M165.5 284v1M166.5 202v1M166.5 217v1M166.5 219v1M166.5 221v1M166.5 254v1M166.5 263v1M291.5 238v1M291.5 242v1M291.5 253v1M291.5 267v1M292.5 215v3M292.5 222v2M292.5 229v2M292.5 233v2M292.5 241v1M292.5 243v1M292.5 249v3M292.5 256v1M292.5 261v1M292.5 266v1M292.5 268v1M292.5 270v1M293.5 215v1M293.5 225v1M293.5 236v1M293.5 239v1M294.5 216v1M294.5 218v1M294.5 224v1M294.5 226v1M295.5 231v1M295.5 244v2M295.5 256v1M295.5 258v2M295.5 265v1M296.5 217v1M296.5 223v1M296.5 247v1M296.5 255v1M296.5 258v1M297.5 224v1M297.5 232v1M297.5 249v2M306.5 202v1M306.5 230v1M306.5 240v1M306.5 254v1M309.5 237v1M309.5 240v1M309.5 242v2M309.5 248v1M309.5 257v3M309.5 263v2M309.5 266v1M309.5 275v1M310.5 234v2M310.5 239v1M310.5 285v1M311.5 210v1M311.5 220v2M311.5 232v1M311.5 237v3M311.5 241v2M311.5 246v2M311.5 252v3M311.5 272v1M311.5 276v1M311.5 284v1M312.5 208v2M312.5 216v1M312.5 218v1M312.5 241v1M312.5 245v1M312.5 262v1M312.5 276v1M312.5 285v1M313.5 222v2M313.5 245v1M313.5 264v1M314.5 227v2M314.5 264v1M314.5 291v1M315.5 205v1M315.5 224v1M315.5 263v1M316.5 231v1M316.5 253v1M316.5 272v1M316.5 274v1M317.5 231v2M317.5 243v2M317.5 260v1M318.5 214v1M318.5 218v1M318.5 234v1M322.5 202v1M322.5 212v1M323.5 165v1M323.5 168v2M323.5 186v1M323.5 190v1M323.5 192v1M323.5 195v1M323.5 205v2M323.5 210v1M323.5 228v2M323.5 237v1M323.5 242v1M323.5 244v1M323.5 247v1M323.5 249v3M323.5 254v2M323.5 261v1M323.5 275v1M324.5 246v1M324.5 274v1M325.5 190v1M325.5 203v1M325.5 213v1M325.5 221v1M326.5 211v1M326.5 214v1M326.5 218v1M326.5 223v2M326.5 228v3M326.5 233v1M326.5 235v2M326.5 241v1M326.5 244v3M326.5 249v2M326.5 255v1M326.5 258v1M327.5 229v1M327.5 237v1M327.5 244v1M328.5 218v1M328.5 230v1M329.5 216v1M329.5 243v2M329.5 248v1M329.5 261v1M329.5 263v1M332.5 229v1M332.5 244v1M332.5 260v2M332.5 266v1M332.5 268v1M332.5 274v1M332.5 280v1M333.5 224v1M333.5 231v1M334.5 221v1M334.5 231v1M334.5 270v1M334.5 282v1M343.5 249v1M343.5 252v1M343.5 255v1M344.5 240v1M344.5 251v1M344.5 268v1M345.5 227v1M345.5 230v1M345.5 235v2M345.5 240v1M345.5 242v1M345.5 247v2M345.5 250v2M345.5 253v1M345.5 257v1M345.5 259v1M345.5 268v1M346.5 257v1M347.5 208v2M347.5 214v2M347.5 218v1M347.5 220v1M347.5 223v1M347.5 230v2M347.5 243v1M347.5 262v1M348.5 206v1M348.5 216v1M348.5 221v1M348.5 230v1M348.5 232v2M349.5 217v1M349.5 239v1M350.5 210v1M350.5 214v1M350.5 232v1M350.5 234v2M350.5 238v1M350.5 244v1M350.5 248v1M350.5 250v1M350.5 259v2M357.5 207v1M357.5 220v1M357.5 223v1M357.5 254v1M357.5 258v1M358.5 195v1M358.5 208v1M358.5 211v1M358.5 213v1M358.5 229v1M358.5 259v1M358.5 264v1M359.5 209v2M359.5 251v1M359.5 255v1M359.5 265v1M359.5 273v2M360.5 212v1M360.5 240v1M360.5 246v1M360.5 252v1M360.5 254v1M360.5 283v1M360.5 285v1M361.5 209v1M361.5 213v1M361.5 218v1M361.5 221v1M361.5 229v1M361.5 238v1M361.5 248v1M361.5 250v1M361.5 253v2M361.5 258v1M361.5 267v1M361.5 269v1M361.5 272v1M361.5 275v2M361.5 279v1M362.5 209v1M362.5 219v2M362.5 222v1M362.5 282v1M363.5 188v1M363.5 210v1M363.5 232v1M363.5 283v1M363.5 290v1M364.5 196v1M364.5 202v1M364.5 207v1M364.5 209v2M364.5 276v1M364.5 285v1M365.5 182v1M365.5 188v1M365.5 290v1M365.5 296v1M366.5 203v1M366.5 207v1M366.5 285v1M366.5 287v1M366.5 300v1M367.5 211v1M367.5 213v1M367.5 215v1M367.5 217v1M367.5 222v1M367.5 226v1M367.5 228v1M367.5 230v1M367.5 244v2M367.5 253v1M367.5 257v3M367.5 267v5M367.5 273v2M368.5 220v1M368.5 246v1M368.5 251v1M368.5 257v1M368.5 259v1M368.5 273v1M383.5 192v1M383.5 199v1M383.5 211v1M383.5 235v1M383.5 279v1M384.5 193v1M384.5 195v2M384.5 207v1M384.5 210v1M384.5 218v1M384.5 234v1M384.5 257v1M384.5 260v2M384.5 278v1M384.5 280v1M385.5 252v1M506.5 255v1M507.5 212v1M507.5 228v1M507.5 258v1M507.5 274v1M511.5 240v1M512.5 222v1M512.5 231v1M512.5 257v2M513.5 205v1M513.5 262v1M517.5 216v1M517.5 220v1M517.5 222v1M518.5 204v3M518.5 209v1M518.5 218v1M518.5 292v1M518.5 305v1M519.5 206v1M519.5 208v1M519.5 211v1M519.5 213v1M519.5 218v1M519.5 291v1M520.5 212v1M520.5 216v2M520.5 270v1M520.5 278v1M520.5 280v1M521.5 193v1M521.5 198v1M521.5 212v1M521.5 214v1M521.5 221v3M521.5 231v1M521.5 265v1M521.5 267v1M521.5 273v1M522.5 185v1M522.5 214v1M522.5 265v1M522.5 267v1M522.5 278v1M523.5 184v1M523.5 196v1M523.5 288v1M523.5 290v1M524.5 194v1M524.5 198v1M524.5 258v1M524.5 288v1M524.5 290v1M525.5 201v1M525.5 203v2M525.5 206v2M525.5 217v1M525.5 232v1M525.5 235v1M525.5 238v1M525.5 255v2M525.5 261v1M525.5 265v1M525.5 270v2M525.5 285v2M526.5 193v1M526.5 202v1M526.5 207v2M526.5 211v1M526.5 216v1M526.5 224v3M526.5 231v1M526.5 234v1M526.5 238v4M526.5 246v2M526.5 253v1M526.5 257v1M526.5 260v2M526.5 263v1M526.5 266v1M526.5 273v1M526.5 282v1M526.5 284v1M527.5 186v1M527.5 190v2M527.5 194v1M527.5 197v1M527.5 199v1M527.5 213v1M527.5 218v1M527.5 242v2M527.5 271v2M527.5 279v1M528.5 171v1M528.5 173v1M528.5 184v1M528.5 287v1M529.5 175v1M530.5 174v1M530.5 176v1M530.5 179v1M530.5 186v1M530.5 192v1M530.5 198v1M530.5 222v1M530.5 224v1M530.5 272v1M530.5 289v1M531.5 231v1M531.5 241v1M531.5 250v1M531.5 254v2M531.5 257v1M531.5 273v1M535.5 194v1M535.5 197v2M535.5 207v2M535.5 210v1M535.5 232v1M535.5 239v1M535.5 252v1M535.5 257v2M535.5 275v2M535.5 279v3M536.5 204v1M536.5 223v1M536.5 228v1M536.5 231v1M536.5 262v1M536.5 267v1M536.5 273v1M537.5 226v1M537.5 272v1M540.5 249v1M540.5 255v1M540.5 262v1M541.5 211v1M541.5 220v1M541.5 238v1M541.5 242v1M541.5 254v1M544.5 204v1M544.5 212v1M544.5 216v1M544.5 228v1M544.5 233v1M544.5 241v1M544.5 245v1M544.5 251v1M544.5 253v3M544.5 261v1M544.5 267v1M544.5 270v1M545.5 231v1M545.5 238v1M545.5 249v1M545.5 265v1M545.5 274v1M545.5 287v1M546.5 170v1M546.5 172v1M546.5 200v2M546.5 203v1M546.5 218v1M546.5 224v1M546.5 230v1M546.5 239v2M546.5 250v1M546.5 265v1M546.5 280v1M546.5 288v1M552.5 222v1M552.5 226v2M552.5 230v1M552.5 237v1M552.5 239v1M552.5 247v1M552.5 249v1M553.5 209v1" stroke="#d2e4f0"/>
<path d="M103.5 168v1M103.5 218v1M104.5 166v1M104.5 227v3M104.5 232v1M105.5 172v1M106.5 234v1M106.5 248v1M107.5 184v1M107.5 200v1M107.5 208v1M107.5 212v1M107.5 215v1M107.5 232v1M114.5 195v1M115.5 194v1M119.5 232v1M119.5 235v1M119.5 261v1M119.5 270v1M119.5 283v1M119.5 286v1M120.5 223v1M120.5 225v1M120.5 231v1M120.5 235v1M120.5 239v1M120.5 242v1M120.5 245v1M120.5 256v1M120.5 261v1M120.5 266v1M120.5 269v1M120.5 272v1M120.5 277v1M120.5 282v1M120.5 288v1M121.5 200v1M121.5 220v1M121.5 255v1M121.5 267v1M121.5 273v1M121.5 275v1M121.5 286v1M121.5 306v1M121.5 309v1M121.5 315v1M122.5 225v1M122.5 234v1M122.5 299v1M122.5 309v1M122.5 314v1M123.5 264v1M123.5 269v1M123.5 272v1M128.5 199v1M128.5 258v1M128.5 280v1M128.5 313v1M129.5 197v1M129.5 203v1M129.5 288v1M129.5 316v1M130.5 239v1M130.5 259v1M130.5 285v1M130.5 298v2M130.5 310v1M131.5 196v1M131.5 269v2M131.5 275v1M131.5 301v1M131.5 305v1M132.5 214v1M132.5 278v1M132.5 285v1M132.5 296v1M133.5 195v1M133.5 240v1M133.5 243v1M133.5 257v1M133.5 263v1M133.5 266v1M133.5 288v1M134.5 260v1M135.5 268v2M135.5 271v1M136.5 229v1M136.5 233v1M136.5 245v1M136.5 248v1M136.5 256v1M136.5 261v2M136.5 276v1M137.5 185v1M137.5 209v1M137.5 264v1M138.5 228v1M138.5 230v1M138.5 247v2M139.5 210v1M139.5 230v1M139.5 233v1M139.5 262v1M139.5 272v1M140.5 213v1M140.5 251v1M140.5 267v1M147.5 234v1M147.5 259v1M147.5 262v1M151.5 255v1M151.5 271v1M152.5 213v1M152.5 215v1M152.5 232v1M152.5 246v1M152.5 249v1M152.5 274v1M152.5 282v1M152.5 285v1M152.5 288v1M152.5 291v1M153.5 217v1M153.5 231v1M153.5 240v1M153.5 242v1M153.5 254v2M153.5 260v1M153.5 269v1M153.5 272v1M154.5 210v1M154.5 230v1M154.5 249v1M154.5 270v1M160.5 199v1M160.5 209v1M160.5 212v3M160.5 217v1M160.5 222v1M160.5 225v3M160.5 237v2M160.5 241v2M160.5 244v1M160.5 250v1M160.5 254v2M160.5 258v1M160.5 266v3M160.5 276v1M161.5 253v1M161.5 256v1M161.5 259v1M161.5 262v1M162.5 225v1M162.5 230v2M162.5 246v2M162.5 261v1M164.5 222v1M164.5 238v1M164.5 252v2M165.5 203v1M165.5 223v1M165.5 226v1M165.5 245v1M292.5 237v1M292.5 252v1M292.5 259v1M292.5 265v1M292.5 269v1M293.5 217v1M293.5 227v1M293.5 247v1M294.5 243v1M294.5 246v1M294.5 256v1M294.5 269v1M295.5 248v1M295.5 250v1M295.5 254v1M295.5 266v1M309.5 251v1M309.5 267v1M311.5 211v1M311.5 227v2M311.5 230v1M311.5 243v2M311.5 248v1M311.5 257v3M311.5 261v2M311.5 283v1M312.5 206v1M312.5 240v1M312.5 252v1M312.5 254v1M312.5 257v1M312.5 264v1M312.5 268v1M313.5 226v1M313.5 244v1M313.5 247v1M314.5 216v2M314.5 262v1M315.5 228v1M315.5 238v1M315.5 250v1M322.5 216v1M323.5 187v3M323.5 209v1M323.5 213v2M323.5 220v1M323.5 224v1M323.5 236v1M323.5 259v1M323.5 272v1M324.5 191v1M324.5 197v1M324.5 238v1M324.5 240v1M325.5 187v1M325.5 193v1M325.5 205v1M325.5 207v2M325.5 212v1M325.5 215v2M325.5 218v1M325.5 237v1M325.5 239v1M325.5 257v1M325.5 273v1M326.5 225v1M326.5 227v1M326.5 232v1M326.5 239v1M326.5 252v1M326.5 259v1M326.5 263v3M327.5 234v1M327.5 238v1M327.5 251v2M327.5 268v1M328.5 223v1M328.5 231v1M328.5 241v1M328.5 256v2M329.5 233v1M329.5 254v1M332.5 234v1M332.5 239v1M332.5 245v1M332.5 276v1M332.5 278v1M333.5 250v1M333.5 271v1M333.5 289v1M333.5 291v1M334.5 229v1M334.5 246v1M334.5 249v1M334.5 257v1M334.5 265v1M334.5 269v1M334.5 272v1M334.5 292v1M343.5 246v1M344.5 230v1M345.5 225v2M345.5 232v1M345.5 241v1M345.5 243v1M345.5 246v1M345.5 254v1M345.5 256v1M345.5 261v1M345.5 264v1M347.5 219v1M347.5 224v3M347.5 242v1M347.5 257v1M348.5 239v1M349.5 215v1M349.5 221v1M349.5 228v1M350.5 212v1M357.5 210v1M358.5 253v1M358.5 266v1M360.5 236v1M360.5 272v1M360.5 275v1M361.5 207v1M361.5 210v2M361.5 226v1M361.5 228v1M361.5 237v1M361.5 241v2M361.5 247v1M361.5 251v1M361.5 255v2M361.5 259v2M361.5 262v1M361.5 266v1M361.5 268v1M361.5 287v1M362.5 194v1M362.5 216v1M362.5 229v1M362.5 232v1M362.5 277v1M363.5 207v1M364.5 195v1M364.5 197v2M364.5 231v1M364.5 233v1M364.5 275v1M364.5 283v1M365.5 194v1M365.5 286v1M366.5 196v1M366.5 198v1M366.5 208v1M366.5 212v1M366.5 227v1M366.5 243v1M366.5 283v1M366.5 289v1M366.5 294v1M367.5 214v1M367.5 218v2M367.5 224v1M367.5 229v1M367.5 234v1M367.5 240v1M367.5 247v3M367.5 251v1M367.5 254v1M367.5 260v1M367.5 264v1M367.5 266v1M367.5 272v1M367.5 281v1M368.5 255v1M383.5 230v1M383.5 246v1M383.5 251v1M383.5 257v1M383.5 272v1M384.5 232v1M384.5 238v1M384.5 246v1M384.5 267v1M507.5 222v1M507.5 256v1M512.5 220v1M517.5 258v1M517.5 261v1M517.5 264v1M517.5 288v1M518.5 212v1M518.5 217v1M519.5 279v2M519.5 287v1M520.5 207v1M520.5 219v1M520.5 248v2M520.5 268v2M521.5 232v1M521.5 238v1M521.5 271v1M521.5 274v2M522.5 210v1M522.5 238v1M522.5 241v1M522.5 266v1M522.5 273v1M522.5 276v1M522.5 280v1M522.5 286v1M523.5 276v2M523.5 279v1M524.5 250v1M525.5 227v1M525.5 237v1M525.5 253v2M525.5 259v1M525.5 269v1M526.5 205v1M526.5 210v1M526.5 215v1M526.5 221v1M526.5 268v1M526.5 276v1M526.5 283v1M527.5 214v1M527.5 217v1M527.5 219v2M527.5 258v1M527.5 260v1M527.5 274v1M527.5 278v1M527.5 291v1M528.5 177v1M528.5 185v1M528.5 188v1M528.5 194v1M528.5 288v1M529.5 186v1M529.5 192v1M529.5 194v1M529.5 205v1M529.5 271v1M530.5 196v1M530.5 201v1M530.5 221v1M530.5 259v1M531.5 253v1M535.5 222v1M535.5 233v1M535.5 235v1M535.5 240v1M536.5 234v1M537.5 276v1M540.5 264v1M540.5 273v1M544.5 207v1M544.5 210v1M544.5 213v1M544.5 235v1M544.5 276v1M545.5 206v1M545.5 222v1M546.5 184v1M546.5 188v1M546.5 221v1M546.5 227v1M546.5 233v1M546.5 244v1M546.5 252v1M546.5 257v1M552.5 245v1M552.5 253v1M552.5 257v1M552.5 259v1M552.5 274v1M553.5 221v1M553.5 231v1M553.5 235v1" stroke="#c7ddec"/>
<path d="M103.5 178v1M103.5 191v1M104.5 161v1M104.5 182v1M104.5 216v1M105.5 234v1M105.5 237v1M105.5 243v1M107.5 197v1M119.5 252v1M119.5 259v1M120.5 219v1M120.5 234v1M120.5 238v1M120.5 241v1M120.5 244v1M120.5 250v1M120.5 253v2M120.5 260v1M120.5 265v1M121.5 215v1M121.5 223v1M121.5 233v1M121.5 242v1M121.5 245v1M121.5 252v1M121.5 258v1M121.5 268v1M122.5 246v1M122.5 294v1M122.5 305v1M128.5 233v1M128.5 256v1M128.5 290v1M128.5 308v1M129.5 217v1M129.5 240v1M129.5 278v2M129.5 286v1M129.5 309v1M129.5 313v1M130.5 245v1M130.5 248v1M130.5 258v1M130.5 260v1M130.5 269v1M130.5 276v1M130.5 283v1M130.5 288v1M130.5 303v1M130.5 315v1M130.5 317v1M131.5 241v1M131.5 267v1M131.5 279v1M131.5 286v1M131.5 290v1M132.5 241v1M132.5 252v1M132.5 262v1M133.5 259v1M133.5 271v1M136.5 208v1M136.5 215v1M136.5 236v1M136.5 267v1M137.5 210v1M137.5 212v1M137.5 221v1M137.5 233v1M137.5 257v1M138.5 189v1M138.5 209v1M138.5 223v1M138.5 251v2M138.5 258v1M138.5 264v1M139.5 216v1M139.5 227v1M139.5 236v1M139.5 260v1M152.5 257v1M152.5 277v1M153.5 212v1M153.5 225v1M153.5 271v1M160.5 221v1M160.5 228v1M160.5 230v1M160.5 232v1M160.5 239v2M160.5 243v1M162.5 213v1M162.5 221v1M162.5 227v1M162.5 240v1M162.5 242v1M162.5 245v1M162.5 253v1M162.5 260v1M292.5 254v1M292.5 262v1M292.5 264v1M293.5 241v1M294.5 257v1M294.5 261v1M294.5 264v1M295.5 249v1M309.5 269v1M311.5 225v1M311.5 233v1M311.5 260v1M311.5 270v1M311.5 274v1M312.5 212v1M312.5 226v1M312.5 269v1M313.5 205v1M313.5 248v1M313.5 254v1M314.5 212v2M314.5 224v1M314.5 244v1M314.5 249v1M314.5 275v1M315.5 232v1M315.5 235v1M315.5 242v1M323.5 200v1M323.5 202v1M323.5 204v1M323.5 207v1M323.5 211v1M323.5 215v1M323.5 217v2M323.5 221v1M323.5 233v1M323.5 257v1M324.5 185v1M324.5 231v1M324.5 248v1M325.5 184v1M325.5 210v1M325.5 234v1M325.5 241v1M325.5 250v1M326.5 242v1M326.5 247v1M326.5 254v1M326.5 266v1M327.5 216v1M327.5 243v1M327.5 249v1M327.5 255v1M328.5 260v1M328.5 267v1M329.5 225v1M332.5 263v1M334.5 226v1M334.5 244v1M334.5 253v1M334.5 263v1M344.5 254v1M345.5 237v1M345.5 239v1M345.5 245v1M345.5 265v1M346.5 229v1M346.5 249v1M346.5 252v1M347.5 227v2M347.5 235v1M347.5 244v1M347.5 256v1M348.5 211v1M348.5 261v1M349.5 209v1M349.5 225v1M361.5 206v1M361.5 217v1M361.5 233v1M361.5 239v1M361.5 263v1M362.5 204v1M362.5 212v1M362.5 225v1M362.5 243v1M362.5 245v1M362.5 271v1M363.5 216v1M363.5 230v1M363.5 293v1M364.5 203v1M364.5 206v1M364.5 216v1M364.5 219v1M364.5 229v1M364.5 234v1M364.5 251v2M364.5 287v1M364.5 294v1M365.5 201v1M365.5 230v1M365.5 276v1M365.5 284v1M365.5 288v1M366.5 242v1M367.5 221v1M367.5 231v3M367.5 235v1M367.5 239v1M367.5 250v1M383.5 208v1M383.5 220v1M383.5 249v1M383.5 254v1M384.5 226v1M384.5 251v1M384.5 255v1M512.5 229v1M517.5 225v1M517.5 230v1M517.5 250v1M517.5 285v1M518.5 222v1M520.5 221v1M520.5 225v1M520.5 228v1M520.5 233v1M520.5 264v2M520.5 272v1M520.5 277v1M521.5 203v1M521.5 209v1M521.5 230v1M521.5 239v1M521.5 241v1M521.5 248v1M521.5 263v1M521.5 285v1M522.5 195v1M522.5 205v1M522.5 212v1M522.5 216v2M522.5 221v1M522.5 223v1M522.5 234v1M522.5 240v1M522.5 264v1M522.5 268v1M523.5 193v1M523.5 201v1M523.5 258v1M524.5 231v1M524.5 248v1M524.5 262v1M524.5 281v1M525.5 209v1M525.5 212v1M525.5 214v1M525.5 221v1M525.5 224v1M525.5 240v1M525.5 245v1M525.5 267v1M525.5 274v1M525.5 276v1M527.5 223v1M527.5 230v1M527.5 236v1M527.5 252v1M527.5 255v1M527.5 269v1M528.5 180v1M528.5 206v1M528.5 281v1M529.5 178v1M529.5 181v1M529.5 206v1M529.5 224v1M529.5 275v1M529.5 279v2M529.5 284v1M529.5 291v1M530.5 239v1M530.5 244v1M530.5 278v1M530.5 282v1M545.5 197v1M545.5 225v1M545.5 246v1M545.5 263v1M546.5 213v1M546.5 270v1M552.5 243v1M552.5 261v1M552.5 269v1M552.5 272v1" stroke="#bcd6e8"/>
<path d="M103.5 200v1M103.5 203v1M104.5 175v1M104.5 189v1M105.5 182v1M105.5 226v1M106.5 231v1M120.5 221v1M120.5 249v1M120.5 290v1M121.5 289v1M122.5 263v1M129.5 304v1M129.5 311v1M130.5 247v1M130.5 254v1M130.5 271v1M130.5 277v1M131.5 245v1M131.5 251v1M131.5 254v1M131.5 262v1M131.5 266v1M131.5 289v1M133.5 261v1M133.5 268v1M136.5 242v1M136.5 272v1M137.5 250v1M137.5 255v1M137.5 266v1M138.5 212v1M138.5 219v1M138.5 225v2M138.5 232v1M138.5 240v1M138.5 254v1M138.5 262v1M139.5 205v1M139.5 269v1M153.5 250v1M293.5 255v1M293.5 263v1M294.5 251v1M310.5 250v1M310.5 255v1M311.5 249v1M311.5 267v1M312.5 232v1M312.5 234v1M312.5 237v1M312.5 256v1M312.5 273v1M313.5 251v1M313.5 275v1M314.5 208v1M314.5 252v1M315.5 255v1M324.5 243v1M324.5 252v1M326.5 260v1M328.5 250v1M333.5 233v1M333.5 242v1M333.5 264v1M347.5 239v1M347.5 241v1M347.5 247v1M348.5 255v1M349.5 251v1M362.5 236v1M363.5 213v1M363.5 280v1M364.5 199v1M364.5 214v1M364.5 220v1M364.5 235v1M364.5 238v1M364.5 274v1M365.5 206v1M366.5 217v1M366.5 245v1M366.5 253v1M366.5 262v1M367.5 236v1M384.5 241v1M384.5 270v1M517.5 228v1M517.5 233v1M518.5 224v1M518.5 254v1M518.5 261v1M518.5 289v1M519.5 225v1M519.5 228v1M520.5 226v1M520.5 234v1M520.5 251v1M521.5 245v1M521.5 256v1M521.5 260v1M522.5 207v1M522.5 244v1M522.5 246v1M522.5 283v1M523.5 200v1M523.5 214v1M523.5 238v1M523.5 247v1M523.5 271v1M523.5 274v1M524.5 202v1M524.5 206v1M524.5 257v1M524.5 266v1M525.5 219v1M528.5 201v1M528.5 203v1M528.5 222v1M528.5 248v2M528.5 274v1M528.5 284v1M529.5 182v1M529.5 199v1M529.5 235v1M529.5 259v1M530.5 229v1M530.5 264v1M535.5 205v1M545.5 211v1M545.5 256v1" stroke="#b1cfe5"/>
<path d="M105.5 187v1M106.5 183v1M120.5 247v1M122.5 244v1M129.5 267v1M130.5 243v1M130.5 250v1M130.5 296v1M131.5 272v1M137.5 217v1M137.5 259v1M138.5 271v1M162.5 238v1M311.5 265v1M314.5 210v1M314.5 230v1M314.5 236v1M314.5 239v1M314.5 267v1M324.5 199v1M327.5 262v1M328.5 227v1M347.5 250v1M362.5 265v1M363.5 228v1M363.5 261v1M364.5 225v1M364.5 250v1M364.5 280v1M365.5 224v1M518.5 252v1M518.5 258v1M518.5 266v1M519.5 255v1M519.5 284v1M520.5 237v1M520.5 253v1M522.5 226v1M522.5 251v1M523.5 226v1M524.5 236v1M524.5 272v1M527.5 262v1M528.5 196v1M528.5 209v1M528.5 213v1M528.5 266v1M529.5 211v1M529.5 269v1M529.5 276v1" stroke="#a5c9e1"/>
<path d="M105.5 185v1M105.5 205v1M106.5 198v1M106.5 209v1M137.5 238v1M138.5 214v1M138.5 243v1M348.5 258v1M363.5 258v1M364.5 259v1M519.5 241v1M519.5 245v1M519.5 275v1M523.5 222v1M529.5 214v1M529.5 227v1M529.5 261v1" stroke="#9ac2dd"/>
<path d="M103.5 253v1M103.5 271v1M104.5 141v1M104.5 145v1M104.5 154v1M104.5 246v1M104.5 258v1M104.5 270v1M105.5 79v1M105.5 155v1M105.5 260v1M105.5 265v1M106.5 92v1M106.5 115v1M106.5 129v1M106.5 166v1M106.5 267v1M110.5 146v1M110.5 223v1M114.5 212v1M115.5 243v1M115.5 247v2M119.5 122v1M119.5 187v1M119.5 189v1M119.5 198v1M119.5 211v1M119.5 227v1M119.5 229v1M119.5 302v1M119.5 306v1M119.5 312v1M119.5 322v1M119.5 334v1M120.5 191v1M120.5 325v1M120.5 328v1M121.5 186v1M121.5 203v1M121.5 206v1M121.5 329v1M121.5 336v1M122.5 177v1M122.5 193v2M122.5 211v1M122.5 317v1M123.5 229v1M123.5 277v1M123.5 279v1M123.5 320v1M124.5 222v1M128.5 184v1M128.5 320v1M128.5 322v1M128.5 324v1M128.5 330v1M129.5 181v1M129.5 183v1M129.5 186v1M129.5 325v1M129.5 328v1M130.5 330v1M130.5 335v1M131.5 200v1M131.5 205v1M131.5 226v1M131.5 320v1M132.5 207v1M132.5 306v1M133.5 226v1M133.5 282v1M133.5 292v1M133.5 307v1M134.5 161v1M134.5 173v1M134.5 274v1M134.5 300v1M134.5 304v1M134.5 310v1M134.5 313v1M134.5 347v1M135.5 289v1M136.5 169v2M136.5 177v1M136.5 180v1M136.5 197v1M136.5 281v1M136.5 312v1M137.5 199v1M137.5 279v1M137.5 284v1M137.5 286v1M137.5 295v1M137.5 298v1M137.5 300v1M137.5 311v1M137.5 314v1M137.5 317v1M138.5 168v1M138.5 181v1M138.5 294v1M138.5 299v1M138.5 305v1M138.5 313v1M139.5 77v1M139.5 102v1M139.5 105v1M139.5 129v1M139.5 141v1M139.5 150v1M139.5 155v1M139.5 162v1M139.5 178v1M139.5 186v1M139.5 191v1M139.5 194v1M139.5 200v1M139.5 301v1M139.5 324v1M139.5 344v1M139.5 350v1M140.5 221v1M140.5 288v1M140.5 292v1M140.5 318v1M140.5 323v1M141.5 272v1M141.5 278v1M141.5 289v1M143.5 170v1M143.5 183v2M143.5 187v1M143.5 205v1M143.5 208v1M143.5 219v2M143.5 226v1M143.5 315v1M143.5 319v1M143.5 342v1M143.5 356v1M143.5 368v1M147.5 197v1M147.5 200v1M147.5 203v1M147.5 206v1M147.5 208v1M147.5 225v1M147.5 227v1M147.5 241v1M147.5 301v1M147.5 305v1M147.5 307v1M147.5 311v1M147.5 314v1M147.5 317v1M147.5 325v1M147.5 337v1M148.5 226v1M148.5 242v1M148.5 297v1M151.5 210v1M151.5 229v1M151.5 316v1M152.5 185v1M152.5 324v1M152.5 327v1M152.5 363v1M153.5 94v1M153.5 114v1M153.5 131v1M153.5 147v1M153.5 159v1M153.5 166v1M153.5 174v1M153.5 184v1M153.5 264v1M153.5 288v1M153.5 315v1M153.5 321v1M153.5 331v1M153.5 334v1M153.5 338v1M153.5 342v1M153.5 350v1M153.5 354v1M153.5 359v1M153.5 364v1M153.5 368v1M153.5 371v1M153.5 375v1M153.5 379v2M153.5 395v1M153.5 398v1M153.5 408v1M154.5 89v1M154.5 190v1M154.5 196v1M154.5 199v1M154.5 265v1M154.5 275v1M154.5 287v1M154.5 290v1M154.5 301v1M154.5 303v1M154.5 317v1M154.5 322v1M154.5 326v1M154.5 332v1M154.5 343v1M155.5 162v1M155.5 198v1M155.5 201v1M155.5 210v1M155.5 220v1M155.5 239v1M155.5 247v1M155.5 266v1M159.5 86v1M159.5 112v1M159.5 172v1M159.5 186v1M159.5 302v1M159.5 324v1M160.5 174v2M160.5 178v1M161.5 186v1M161.5 189v1M161.5 279v1M161.5 294v1M161.5 296v1M161.5 299v2M161.5 316v1M161.5 319v1M161.5 325v1M162.5 188v1M162.5 306v1M162.5 323v1M163.5 203v1M163.5 208v1M163.5 257v1M165.5 212v1M165.5 235v1M165.5 292v1M165.5 325v1M166.5 76v1M166.5 121v1M166.5 129v1M166.5 144v1M166.5 153v1M166.5 164v1M166.5 172v1M166.5 174v1M166.5 186v1M166.5 193v1M166.5 210v1M166.5 213v1M166.5 300v1M166.5 303v1M166.5 311v1M166.5 316v1M166.5 331v1M166.5 336v1M166.5 350v2M166.5 356v1M166.5 377v2M166.5 386v1M166.5 400v1M166.5 402v1M176.5 140v1M176.5 149v1M176.5 152v1M176.5 158v1M176.5 169v1M176.5 175v1M176.5 181v1M176.5 187v1M176.5 193v1M176.5 207v1M285.5 194v1M285.5 208v1M285.5 212v1M285.5 217v1M285.5 221v1M285.5 223v1M285.5 225v1M285.5 227v1M285.5 232v1M285.5 236v1M285.5 240v1M285.5 258v1M285.5 268v1M285.5 278v1M285.5 281v1M291.5 231v1M291.5 239v1M291.5 286v1M293.5 210v1M293.5 275v1M294.5 205v1M294.5 212v1M294.5 220v1M294.5 276v1M294.5 278v1M296.5 88v1M296.5 92v1M296.5 97v1M296.5 136v2M296.5 140v1M296.5 150v1M296.5 157v1M296.5 160v1M296.5 176v1M296.5 178v1M296.5 183v1M296.5 189v1M296.5 191v1M296.5 197v1M296.5 200v1M296.5 209v1M296.5 212v1M296.5 234v1M296.5 239v1M296.5 259v1M296.5 295v1M296.5 301v1M296.5 327v1M296.5 353v1M297.5 123v1M297.5 217v1M297.5 227v1M297.5 239v1M297.5 253v1M297.5 258v1M297.5 308v1M297.5 310v1M297.5 410v1M306.5 207v1M306.5 216v1M306.5 218v1M310.5 198v1M310.5 203v1M310.5 290v1M310.5 292v1M311.5 200v1M311.5 202v1M312.5 197v1M312.5 280v1M313.5 128v1M313.5 171v1M313.5 308v1M313.5 323v1M313.5 364v1M314.5 138v1M314.5 149v1M314.5 152v1M314.5 157v1M314.5 183v1M314.5 197v1M314.5 302v1M315.5 309v1M318.5 185v1M318.5 201v2M318.5 211v1M322.5 82v1M322.5 85v1M322.5 88v1M322.5 91v1M322.5 93v1M322.5 95v1M322.5 102v2M322.5 106v1M322.5 109v1M322.5 115v1M322.5 119v2M322.5 129v1M322.5 132v1M322.5 137v1M322.5 140v1M322.5 143v1M322.5 146v1M322.5 151v1M322.5 165v1M322.5 211v1M322.5 240v1M322.5 245v1M322.5 247v1M322.5 254v1M322.5 268v1M322.5 275v1M323.5 270v1M323.5 276v1M324.5 144v1M324.5 286v1M324.5 291v1M324.5 297v1M326.5 271v1M327.5 209v1M328.5 204v1M329.5 90v1M329.5 102v1M329.5 151v1M329.5 200v1M329.5 206v1M329.5 276v1M329.5 321v1M329.5 334v1M334.5 96v1M334.5 120v1M334.5 191v1M334.5 198v1M334.5 283v1M338.5 156v1M338.5 160v1M338.5 166v1M338.5 184v1M338.5 198v1M338.5 201v1M338.5 211v1M338.5 219v1M338.5 223v1M338.5 227v1M338.5 230v1M338.5 236v1M338.5 240v1M338.5 242v1M338.5 247v1M338.5 254v1M338.5 267v1M343.5 215v1M343.5 230v1M343.5 251v1M344.5 218v1M344.5 221v1M344.5 229v1M344.5 235v1M344.5 275v1M345.5 171v1M345.5 184v1M345.5 289v1M345.5 296v1M345.5 318v1M345.5 333v1M346.5 276v1M347.5 284v1M348.5 184v1M348.5 191v1M348.5 271v1M349.5 194v1M349.5 197v1M349.5 203v1M349.5 273v1M349.5 275v1M350.5 163v1M350.5 166v1M350.5 172v1M350.5 177v1M350.5 179v1M350.5 185v1M350.5 197v1M350.5 202v1M350.5 272v1M357.5 234v1M357.5 248v1M357.5 255v1M357.5 278v2M357.5 283v1M358.5 74v1M358.5 81v1M358.5 84v1M358.5 86v1M358.5 94v1M358.5 111v1M358.5 125v2M358.5 131v2M358.5 147v1M358.5 149v1M358.5 152v1M358.5 167v1M358.5 169v1M358.5 171v1M358.5 173v1M358.5 175v1M358.5 178v1M358.5 241v1M358.5 285v1M358.5 321v1M359.5 200v1M359.5 290v1M360.5 175v1M360.5 195v1M360.5 201v1M360.5 245v1M360.5 279v1M360.5 297v1M360.5 299v1M360.5 304v1M361.5 285v1M362.5 173v1M362.5 193v1M362.5 311v1M363.5 164v1M363.5 191v1M363.5 316v1M364.5 172v1M364.5 188v1M364.5 267v1M364.5 318v1M365.5 168v1M365.5 178v1M366.5 148v1M366.5 301v1M367.5 305v1M368.5 123v2M368.5 136v1M368.5 164v1M368.5 166v1M368.5 171v1M368.5 176v1M368.5 185v1M368.5 190v1M368.5 192v1M368.5 199v1M383.5 157v1M383.5 175v1M383.5 179v1M383.5 291v1M383.5 294v1M383.5 296v1M383.5 302v1M384.5 276v1M384.5 287v1M384.5 290v1M384.5 293v1M384.5 299v1M384.5 304v1M385.5 284v1M387.5 237v1M387.5 240v1M387.5 246v1M387.5 255v1M387.5 258v1M387.5 263v1M387.5 266v1M388.5 206v1M388.5 209v1M388.5 221v1M388.5 225v1M388.5 237v1M388.5 242v1M388.5 246v1M388.5 254v1M388.5 257v1M388.5 262v1M388.5 265v1M388.5 268v1M388.5 270v1M388.5 277v1M388.5 284v1M388.5 287v1M388.5 291v1M388.5 295v1M388.5 298v1M388.5 302v1M388.5 304v1M388.5 306v1M388.5 311v1M388.5 317v1M388.5 327v1M502.5 219v1M502.5 221v1M502.5 224v1M502.5 232v1M502.5 240v2M502.5 249v1M502.5 252v1M502.5 259v1M502.5 264v1M502.5 267v1M502.5 270v1M502.5 274v1M502.5 277v1M502.5 280v1M502.5 284v1M502.5 287v1M502.5 293v2M502.5 297v1M502.5 315v1M506.5 198v1M506.5 200v1M506.5 236v1M506.5 240v1M506.5 246v1M506.5 251v1M507.5 199v1M507.5 206v1M507.5 238v1M507.5 260v1M507.5 270v1M507.5 287v1M508.5 203v1M508.5 205v1M508.5 215v1M508.5 232v1M508.5 242v1M508.5 245v1M508.5 250v1M511.5 215v1M511.5 245v1M511.5 248v1M511.5 254v1M511.5 261v1M512.5 205v1M512.5 219v1M512.5 272v1M513.5 93v1M513.5 109v1M513.5 118v1M513.5 120v1M513.5 124v1M513.5 130v2M513.5 137v1M513.5 142v2M513.5 148v1M513.5 150v1M513.5 159v1M513.5 162v1M513.5 164v1M513.5 166v1M513.5 171v1M513.5 204v1M513.5 216v1M513.5 236v1M513.5 243v2M513.5 247v1M513.5 261v1M517.5 180v1M517.5 185v1M517.5 188v1M517.5 195v1M517.5 201v1M517.5 209v1M517.5 295v1M517.5 299v1M517.5 301v1M517.5 306v1M518.5 95v1M518.5 297v1M518.5 312v1M518.5 325v1M518.5 328v1M518.5 354v1M519.5 305v1M521.5 170v1M521.5 293v1M521.5 297v1M521.5 357v1M522.5 169v1M522.5 178v1M522.5 189v1M523.5 170v1M523.5 175v2M523.5 295v1M523.5 297v1M524.5 145v1M524.5 148v1M524.5 164v1M524.5 179v1M524.5 188v1M524.5 299v1M524.5 317v1M524.5 357v1M525.5 177v1M525.5 184v1M525.5 187v1M525.5 189v1M525.5 297v1M525.5 305v1M525.5 322v1M525.5 344v1M527.5 110v1M527.5 166v1M527.5 171v1M527.5 298v1M527.5 305v1M528.5 123v1M528.5 170v1M528.5 295v1M528.5 301v1M528.5 322v1M529.5 157v1M529.5 159v1M529.5 246v1M529.5 296v1M529.5 300v1M529.5 307v1M529.5 316v1M529.5 328v1M529.5 332v1M530.5 103v1M530.5 115v1M530.5 127v1M530.5 134v1M530.5 140v1M530.5 146v1M530.5 161v1M530.5 167v1M530.5 309v1M531.5 239v1M534.5 147v1M534.5 150v1M534.5 158v1M534.5 160v1M534.5 163v1M534.5 168v1M534.5 170v1M534.5 174v1M534.5 177v1M534.5 180v1M534.5 188v1M534.5 200v1M534.5 228v1M534.5 243v1M534.5 250v1M534.5 260v1M534.5 262v1M534.5 264v1M534.5 284v1M535.5 186v1M535.5 192v1M536.5 190v1M536.5 202v1M536.5 293v1M536.5 296v1M536.5 300v1M536.5 304v1M540.5 254v1M540.5 258v1M540.5 307v1M540.5 340v1M541.5 140v1M541.5 149v2M541.5 158v2M541.5 169v1M541.5 180v1M541.5 197v1M541.5 289v1M541.5 295v1M541.5 299v1M541.5 320v1M541.5 335v1M544.5 99v1M544.5 106v1M544.5 108v1M544.5 112v1M544.5 119v1M544.5 123v1M544.5 130v1M544.5 242v1M544.5 249v1M545.5 82v1M545.5 86v1M545.5 89v2M545.5 100v1M545.5 109v1M545.5 111v1M545.5 116v2M545.5 121v1M545.5 129v1M545.5 131v1M545.5 133v1M545.5 140v1M545.5 146v1M545.5 288v1M545.5 307v1M545.5 318v1M545.5 325v2M545.5 335v1M545.5 343v1M545.5 355v1M546.5 167v1M546.5 243v1M546.5 281v1M546.5 289v1M546.5 293v1M546.5 301v1M552.5 276v1M552.5 286v1M553.5 191v1M553.5 196v1M553.5 279v1M553.5 282v1M553.5 290v1M553.5 307v1" stroke="#8fbbda"/>
<path d="M103.5 161v1M103.5 166v1M103.5 169v1M103.5 219v1M103.5 223v1M103.5 227v1M103.5 233v1M103.5 241v1M103.5 249v3M104.5 147v1M104.5 151v1M104.5 165v1M104.5 226v1M104.5 230v1M104.5 234v1M104.5 279v1M105.5 148v1M105.5 150v1M105.5 161v1M105.5 171v1M105.5 248v1M105.5 250v1M106.5 249v1M106.5 253v2M106.5 258v2M106.5 272v3M107.5 183v1M107.5 185v1M107.5 228v1M107.5 231v1M107.5 243v1M107.5 264v1M114.5 194v1M114.5 215v1M114.5 219v1M114.5 221v2M114.5 234v1M114.5 237v1M115.5 185v1M115.5 199v3M115.5 207v1M115.5 209v1M115.5 211v1M115.5 213v1M115.5 221v1M115.5 232v1M115.5 251v3M115.5 255v3M118.5 247v1M118.5 261v1M118.5 272v1M118.5 282v1M118.5 286v1M118.5 310v2M119.5 195v1M119.5 205v1M119.5 217v1M119.5 273v1M119.5 280v1M119.5 284v2M119.5 295v3M119.5 299v1M119.5 315v1M120.5 195v3M120.5 199v1M120.5 205v1M120.5 211v1M120.5 216v1M120.5 283v1M120.5 309v1M120.5 316v1M120.5 319v2M121.5 201v1M121.5 209v1M121.5 219v1M121.5 256v2M121.5 269v1M121.5 293v2M121.5 299v1M121.5 301v1M121.5 305v1M121.5 310v1M121.5 314v1M121.5 319v1M122.5 204v2M122.5 216v1M122.5 221v1M122.5 223v1M122.5 233v1M122.5 235v1M122.5 238v2M122.5 257v1M122.5 278v1M122.5 280v1M122.5 302v1M122.5 319v1M123.5 231v2M123.5 234v1M123.5 239v1M123.5 246v1M123.5 253v1M123.5 265v1M123.5 299v1M123.5 301v1M123.5 315v2M123.5 323v2M123.5 326v2M124.5 238v1M124.5 268v1M124.5 288v1M127.5 254v1M127.5 283v1M128.5 188v2M128.5 191v1M128.5 193v1M128.5 203v1M128.5 212v1M128.5 302v1M128.5 317v1M129.5 185v1M129.5 190v1M129.5 193v1M129.5 199v1M129.5 211v2M130.5 204v1M130.5 235v1M130.5 238v1M131.5 194v1M131.5 197v1M131.5 214v1M131.5 224v1M131.5 230v2M131.5 299v1M131.5 318v1M131.5 322v1M132.5 189v2M132.5 201v2M132.5 204v1M132.5 221v1M132.5 225v1M132.5 229v1M132.5 234v1M132.5 297v1M132.5 300v1M132.5 308v1M133.5 189v1M133.5 192v1M133.5 194v1M133.5 201v1M133.5 205v1M133.5 230v1M133.5 235v1M133.5 241v1M133.5 250v1M133.5 276v1M133.5 295v1M134.5 256v1M134.5 268v1M134.5 276v1M134.5 278v3M134.5 295v2M135.5 238v1M135.5 243v1M135.5 246v1M135.5 262v1M135.5 266v2M136.5 184v2M136.5 188v1M136.5 278v1M136.5 288v1M136.5 292v2M136.5 301v2M136.5 307v1M137.5 166v1M137.5 173v3M137.5 184v1M137.5 192v1M137.5 194v2M137.5 282v1M137.5 290v2M137.5 303v1M137.5 307v2M138.5 166v1M138.5 173v1M138.5 185v1M138.5 193v1M138.5 195v1M138.5 289v1M138.5 303v1M139.5 164v3M139.5 188v1M139.5 199v1M139.5 228v1M139.5 248v1M139.5 273v1M139.5 278v3M139.5 291v1M139.5 296v2M140.5 204v1M140.5 212v1M140.5 214v1M140.5 227v1M140.5 246v1M140.5 250v1M140.5 252v1M140.5 255v1M140.5 258v1M140.5 269v1M140.5 276v2M140.5 280v1M140.5 283v1M143.5 193v1M143.5 198v1M143.5 206v1M143.5 213v1M143.5 240v1M143.5 258v2M143.5 263v3M143.5 300v5M143.5 311v1M143.5 330v1M143.5 333v2M147.5 196v1M147.5 212v1M147.5 219v2M147.5 223v1M147.5 233v1M147.5 236v1M147.5 243v1M147.5 246v3M147.5 253v1M147.5 257v2M147.5 265v1M147.5 274v2M147.5 278v1M147.5 281v1M147.5 286v1M147.5 294v3M147.5 316v1M147.5 328v1M148.5 217v2M148.5 221v1M148.5 224v1M148.5 230v2M148.5 237v1M148.5 239v2M148.5 252v1M148.5 254v1M148.5 272v3M148.5 280v1M148.5 288v1M151.5 212v1M151.5 220v1M151.5 223v1M151.5 227v1M151.5 231v1M151.5 236v1M151.5 245v3M151.5 249v1M151.5 254v1M151.5 260v1M151.5 269v1M151.5 279v1M151.5 281v1M151.5 290v1M151.5 294v1M151.5 296v1M151.5 299v2M151.5 303v1M151.5 308v1M151.5 312v2M152.5 199v3M152.5 205v2M152.5 208v1M152.5 220v1M152.5 228v1M152.5 231v1M152.5 233v1M152.5 262v1M152.5 267v1M152.5 278v1M152.5 280v2M152.5 289v1M152.5 294v1M152.5 296v1M152.5 301v1M152.5 303v1M152.5 306v1M152.5 309v2M152.5 325v1M153.5 188v1M153.5 205v1M153.5 213v1M153.5 226v1M153.5 229v2M153.5 232v1M153.5 243v1M153.5 251v1M153.5 267v1M153.5 277v1M153.5 291v1M153.5 299v1M153.5 309v1M154.5 187v1M154.5 197v1M154.5 201v1M154.5 203v3M154.5 213v1M154.5 223v1M154.5 225v1M154.5 229v1M154.5 237v2M154.5 242v1M154.5 244v1M154.5 248v1M154.5 256v1M154.5 258v1M154.5 263v1M154.5 267v1M154.5 269v1M154.5 277v1M154.5 296v1M154.5 299v1M154.5 310v2M155.5 218v1M155.5 223v1M155.5 229v1M155.5 231v1M155.5 253v1M155.5 261v2M155.5 270v1M155.5 309v2M159.5 206v1M159.5 224v1M159.5 246v1M159.5 288v2M159.5 295v4M159.5 306v3M160.5 200v1M160.5 206v1M161.5 192v2M161.5 199v1M161.5 201v1M161.5 216v1M161.5 218v1M161.5 234v1M161.5 236v1M161.5 260v1M161.5 265v1M161.5 271v2M161.5 277v1M161.5 285v1M161.5 288v1M162.5 198v1M162.5 234v2M162.5 256v1M162.5 262v1M163.5 196v2M163.5 202v1M163.5 230v1M163.5 232v1M163.5 242v1M163.5 248v1M163.5 250v1M165.5 216v1M165.5 229v1M165.5 232v1M165.5 237v1M165.5 240v2M165.5 246v2M165.5 275v1M165.5 277v1M165.5 279v2M165.5 290v1M166.5 197v3M166.5 204v1M166.5 220v1M166.5 222v1M166.5 228v1M166.5 238v1M166.5 240v1M166.5 245v2M166.5 253v1M166.5 255v1M285.5 264v1M291.5 210v3M291.5 214v1M291.5 218v1M291.5 224v1M291.5 226v2M291.5 234v1M291.5 236v2M291.5 243v1M291.5 247v4M291.5 252v1M291.5 255v1M291.5 258v1M291.5 266v1M291.5 273v2M292.5 236v1M292.5 260v1M293.5 219v1M293.5 224v1M293.5 226v1M293.5 235v1M293.5 246v1M293.5 271v1M294.5 241v1M294.5 270v1M295.5 222v1M295.5 255v1M296.5 202v2M296.5 214v2M296.5 226v1M296.5 244v2M296.5 251v1M296.5 254v1M296.5 257v1M296.5 264v1M297.5 214v1M297.5 220v1M297.5 230v1M297.5 244v1M297.5 247v1M297.5 251v1M297.5 266v1M306.5 200v1M306.5 205v1M306.5 210v1M306.5 222v1M306.5 229v1M306.5 244v2M306.5 247v3M306.5 267v1M309.5 236v1M309.5 239v1M309.5 241v1M309.5 265v1M309.5 273v2M310.5 219v1M310.5 224v1M310.5 227v2M310.5 230v1M310.5 277v1M311.5 212v2M311.5 226v1M311.5 240v1M312.5 263v1M312.5 282v2M312.5 286v1M312.5 289v1M313.5 262v1M313.5 276v1M313.5 284v2M313.5 293v1M314.5 201v1M315.5 216v1M315.5 225v1M315.5 249v1M315.5 279v1M315.5 281v3M315.5 285v1M315.5 289v1M315.5 292v1M316.5 228v1M316.5 232v1M316.5 243v1M316.5 254v1M316.5 260v1M316.5 273v1M316.5 285v3M318.5 197v1M318.5 208v1M318.5 222v1M318.5 254v1M318.5 275v1M322.5 83v1M322.5 87v1M322.5 130v1M322.5 134v2M322.5 148v2M322.5 154v1M322.5 157v3M322.5 161v2M322.5 170v1M322.5 174v1M322.5 177v2M322.5 184v1M322.5 201v1M322.5 204v1M322.5 206v1M322.5 213v1M322.5 217v1M322.5 224v1M322.5 229v2M322.5 233v1M322.5 237v2M322.5 250v2M322.5 256v2M322.5 271v1M323.5 227v1M323.5 265v1M323.5 268v1M324.5 155v5M324.5 163v1M324.5 169v1M324.5 178v3M324.5 190v1M324.5 239v1M324.5 275v1M324.5 281v1M325.5 219v1M325.5 267v1M325.5 274v1M325.5 281v2M326.5 243v1M327.5 201v2M327.5 220v1M327.5 230v1M327.5 256v1M327.5 269v1M327.5 273v1M327.5 277v1M327.5 281v1M328.5 197v3M328.5 220v1M328.5 222v1M328.5 270v2M328.5 273v2M328.5 277v2M328.5 281v2M328.5 285v1M329.5 215v1M329.5 217v1M329.5 220v1M329.5 224v1M329.5 242v1M329.5 250v1M329.5 253v1M329.5 256v1M329.5 267v1M329.5 271v1M332.5 230v1M332.5 257v1M332.5 270v1M332.5 279v1M333.5 282v1M333.5 285v1M334.5 215v5M338.5 200v1M343.5 239v1M343.5 248v1M343.5 254v1M343.5 267v1M344.5 222v1M344.5 226v2M344.5 232v1M344.5 252v1M344.5 264v1M344.5 269v1M344.5 274v1M345.5 263v1M345.5 269v1M346.5 207v3M346.5 211v2M346.5 218v3M346.5 269v2M346.5 273v2M348.5 215v1M348.5 231v1M348.5 264v1M348.5 270v1M349.5 263v1M350.5 164v1M350.5 208v2M350.5 211v1M350.5 221v1M350.5 231v1M350.5 233v1M350.5 249v1M350.5 251v1M350.5 258v1M350.5 261v1M357.5 189v1M357.5 192v3M357.5 197v1M357.5 199v1M357.5 203v1M357.5 206v1M357.5 211v1M357.5 244v2M357.5 260v1M357.5 264v1M358.5 115v3M358.5 196v1M358.5 199v1M358.5 210v1M358.5 212v1M358.5 228v1M358.5 251v2M358.5 254v1M358.5 258v1M358.5 260v1M358.5 267v1M358.5 270v1M358.5 272v1M358.5 274v2M358.5 290v1M359.5 196v1M359.5 242v1M359.5 253v1M359.5 256v1M359.5 264v1M359.5 275v1M359.5 282v2M360.5 226v1M360.5 230v1M360.5 241v1M360.5 250v1M360.5 253v1M360.5 261v1M360.5 263v1M360.5 269v1M360.5 271v1M360.5 277v1M360.5 281v2M360.5 284v1M360.5 288v1M361.5 216v1M361.5 246v1M361.5 257v1M362.5 187v2M362.5 292v2M362.5 296v4M363.5 186v2M363.5 284v1M363.5 291v1M364.5 230v1M364.5 284v1M364.5 286v1M364.5 302v1M365.5 181v1M365.5 183v3M365.5 189v2M365.5 192v1M365.5 300v1M365.5 304v2M366.5 181v3M366.5 186v4M366.5 286v1M366.5 292v1M366.5 304v1M367.5 216v1M367.5 279v1M367.5 282v1M368.5 205v1M368.5 211v1M368.5 217v1M368.5 224v1M368.5 226v1M368.5 244v1M368.5 247v1M368.5 252v3M368.5 263v1M368.5 268v2M368.5 271v1M383.5 204v1M383.5 277v1M383.5 280v1M383.5 283v1M384.5 190v1M384.5 197v1M384.5 201v2M384.5 206v1M384.5 208v1M384.5 281v1M385.5 251v1M388.5 286v1M502.5 276v1M506.5 202v1M506.5 209v1M506.5 219v1M506.5 221v2M506.5 229v1M506.5 234v1M506.5 243v2M506.5 258v1M506.5 266v2M506.5 271v3M506.5 275v1M506.5 283v3M506.5 290v1M507.5 202v1M507.5 208v2M507.5 229v1M507.5 234v2M507.5 243v1M507.5 253v1M507.5 259v1M507.5 266v1M507.5 276v2M508.5 212v2M508.5 225v1M508.5 233v1M508.5 255v1M508.5 257v1M511.5 223v2M511.5 226v1M511.5 233v1M511.5 235v1M511.5 246v1M511.5 250v2M511.5 266v5M511.5 279v2M511.5 289v1M511.5 291v2M511.5 295v1M512.5 225v1M512.5 262v1M512.5 289v1M513.5 160v1M513.5 168v1M513.5 173v5M513.5 182v1M513.5 185v1M513.5 188v1M513.5 193v5M513.5 199v2M513.5 210v4M513.5 215v1M513.5 220v1M513.5 222v1M513.5 229v1M513.5 250v2M513.5 253v2M517.5 177v1M517.5 187v1M517.5 202v1M517.5 204v1M517.5 213v1M517.5 218v1M517.5 223v2M517.5 289v1M517.5 303v1M518.5 203v1M518.5 207v1M518.5 210v2M518.5 214v2M518.5 291v1M518.5 303v2M518.5 306v1M519.5 204v1M519.5 207v1M519.5 209v1M519.5 212v1M519.5 292v1M519.5 297v1M520.5 203v1M520.5 211v1M520.5 213v1M521.5 185v1M521.5 187v1M521.5 189v1M521.5 194v2M521.5 211v1M521.5 213v1M521.5 279v1M521.5 292v1M522.5 184v1M522.5 186v1M522.5 277v1M522.5 289v1M523.5 179v1M523.5 186v1M523.5 195v1M523.5 278v1M523.5 289v1M524.5 183v1M524.5 249v1M524.5 289v1M525.5 205v1M525.5 231v1M525.5 236v1M525.5 252v1M525.5 272v1M525.5 287v1M525.5 289v1M526.5 206v1M526.5 209v1M526.5 214v1M526.5 219v1M526.5 232v1M526.5 237v1M526.5 250v1M526.5 259v1M526.5 269v1M527.5 177v1M527.5 179v1M527.5 187v1M527.5 189v1M528.5 172v1M528.5 174v1M528.5 176v1M529.5 171v1M529.5 176v1M529.5 293v1M530.5 175v1M530.5 177v2M530.5 181v1M530.5 185v1M530.5 193v1M530.5 199v1M530.5 223v1M530.5 297v2M531.5 242v1M531.5 260v1M531.5 269v1M534.5 196v1M534.5 202v2M534.5 207v2M534.5 211v1M534.5 216v1M534.5 223v1M534.5 232v1M534.5 237v1M534.5 239v1M534.5 241v1M534.5 246v3M534.5 252v2M534.5 257v2M534.5 270v1M534.5 274v3M535.5 212v1M535.5 221v1M535.5 230v1M535.5 237v1M535.5 244v1M535.5 249v1M536.5 195v3M536.5 209v2M536.5 212v1M536.5 214v1M536.5 216v1M536.5 219v1M536.5 229v1M536.5 237v1M536.5 242v1M536.5 244v1M536.5 246v1M536.5 249v1M536.5 263v2M536.5 268v1M536.5 274v1M537.5 224v1M537.5 227v1M537.5 254v1M537.5 261v2M537.5 266v1M537.5 268v1M537.5 271v1M537.5 273v1M537.5 275v1M540.5 245v1M540.5 248v1M540.5 250v1M540.5 256v1M540.5 265v1M540.5 268v1M540.5 271v1M540.5 275v1M541.5 187v2M541.5 202v1M541.5 218v1M541.5 222v1M541.5 225v2M541.5 251v3M541.5 256v1M541.5 259v1M541.5 269v1M541.5 271v1M541.5 280v1M544.5 122v1M544.5 203v1M544.5 206v1M544.5 211v1M544.5 229v1M544.5 240v1M544.5 244v1M544.5 246v1M544.5 252v1M544.5 256v1M544.5 260v1M544.5 266v1M544.5 277v1M545.5 153v2M545.5 158v2M545.5 162v1M545.5 169v1M545.5 178v1M545.5 187v1M545.5 223v1M545.5 247v1M545.5 280v1M545.5 284v1M545.5 293v1M546.5 164v1M546.5 169v1M546.5 171v1M546.5 173v1M546.5 180v1M546.5 183v1M546.5 185v1M546.5 187v1M546.5 204v1M546.5 222v1M546.5 274v1M552.5 206v1M552.5 213v1M552.5 221v1M552.5 225v1M552.5 231v1M552.5 236v1M552.5 238v1M552.5 246v1M552.5 258v1M552.5 275v1M553.5 201v1M553.5 214v1M553.5 222v1M553.5 236v2" stroke="#84b4d6"/>
<path d="M103.5 163v1M103.5 180v1M103.5 187v2M103.5 216v2M104.5 148v3M104.5 159v1M104.5 171v1M104.5 223v1M104.5 233v1M104.5 241v1M105.5 159v1M105.5 167v1M105.5 173v3M105.5 235v1M105.5 238v1M105.5 240v1M105.5 247v1M106.5 239v1M106.5 245v2M106.5 262v2M107.5 182v1M107.5 187v1M107.5 193v1M107.5 196v1M107.5 199v1M107.5 201v1M107.5 207v1M107.5 210v2M107.5 223v1M114.5 196v2M114.5 214v1M115.5 188v1M115.5 190v1M115.5 198v1M115.5 203v1M115.5 215v2M115.5 220v1M115.5 226v4M115.5 237v1M118.5 287v1M119.5 203v2M119.5 218v2M119.5 223v2M119.5 263v2M119.5 266v1M119.5 277v1M119.5 291v2M119.5 294v1M120.5 204v1M120.5 213v2M120.5 218v1M120.5 222v1M120.5 224v1M120.5 232v2M120.5 243v1M120.5 255v1M120.5 258v1M120.5 267v2M120.5 289v1M120.5 291v1M121.5 213v1M121.5 218v1M121.5 221v1M121.5 225v1M121.5 228v1M121.5 231v2M121.5 235v1M121.5 246v1M121.5 253v1M121.5 266v1M121.5 271v1M121.5 277v2M121.5 281v4M121.5 288v1M121.5 291v1M121.5 295v1M121.5 307v1M122.5 213v2M122.5 224v1M122.5 227v2M122.5 267v1M122.5 273v1M122.5 275v1M122.5 297v2M122.5 301v1M122.5 304v1M122.5 311v1M123.5 227v1M123.5 233v1M123.5 238v1M123.5 247v1M123.5 252v1M123.5 259v1M123.5 262v1M123.5 268v1M123.5 270v2M123.5 273v1M123.5 275v1M123.5 281v2M123.5 285v1M123.5 292v1M123.5 298v1M123.5 305v1M123.5 311v1M123.5 313v1M127.5 245v1M127.5 248v1M127.5 261v1M128.5 190v1M128.5 194v1M128.5 201v1M128.5 204v1M128.5 206v1M128.5 213v2M128.5 217v1M128.5 220v1M128.5 230v1M128.5 257v1M128.5 272v2M128.5 275v1M128.5 281v1M128.5 287v1M128.5 293v1M128.5 303v2M128.5 311v1M128.5 315v1M129.5 194v1M129.5 196v1M129.5 202v1M129.5 205v2M129.5 221v1M129.5 223v1M129.5 238v1M129.5 280v1M129.5 287v1M129.5 293v1M129.5 299v2M129.5 302v2M129.5 308v1M129.5 315v1M130.5 201v1M130.5 207v2M130.5 240v1M130.5 244v1M130.5 270v1M130.5 275v1M130.5 278v3M130.5 289v1M130.5 301v2M130.5 304v1M130.5 311v1M131.5 195v1M131.5 216v2M131.5 219v1M131.5 239v2M131.5 268v1M131.5 274v1M131.5 278v1M131.5 291v1M131.5 294v1M131.5 302v2M131.5 310v3M131.5 316v1M132.5 194v2M132.5 215v1M132.5 217v2M132.5 235v3M132.5 240v1M132.5 251v1M132.5 270v1M132.5 273v1M132.5 276v2M132.5 283v2M132.5 286v1M132.5 295v1M132.5 302v1M133.5 198v1M133.5 202v3M133.5 219v1M133.5 238v1M133.5 256v1M133.5 258v1M133.5 260v1M133.5 265v1M133.5 267v1M133.5 272v1M133.5 287v1M133.5 289v1M134.5 269v1M136.5 212v1M136.5 216v1M136.5 218v1M136.5 221v1M136.5 230v1M136.5 235v1M136.5 249v1M136.5 257v1M136.5 265v2M137.5 187v3M137.5 191v1M137.5 202v1M137.5 219v1M137.5 229v1M137.5 248v1M137.5 251v1M137.5 292v2M138.5 188v1M138.5 190v1M138.5 210v1M138.5 222v1M138.5 250v1M138.5 253v1M138.5 255v2M138.5 272v1M138.5 275v1M138.5 282v1M139.5 203v1M139.5 208v1M139.5 211v2M139.5 224v1M139.5 232v1M139.5 234v1M139.5 239v3M139.5 256v3M139.5 264v2M139.5 270v1M139.5 283v1M140.5 226v1M143.5 201v1M143.5 236v1M143.5 270v1M143.5 275v2M143.5 278v1M143.5 280v2M143.5 283v1M143.5 285v1M143.5 305v1M143.5 310v1M147.5 235v1M147.5 254v2M147.5 261v1M148.5 253v1M148.5 262v1M148.5 284v2M151.5 224v1M151.5 232v1M151.5 237v3M151.5 241v1M151.5 256v1M151.5 258v1M151.5 270v1M151.5 274v2M151.5 277v1M151.5 283v1M151.5 295v1M151.5 304v1M152.5 218v1M152.5 223v1M152.5 226v1M152.5 240v1M152.5 242v1M152.5 245v1M152.5 253v1M152.5 256v1M152.5 261v1M152.5 283v2M152.5 295v1M153.5 203v1M153.5 208v1M153.5 238v2M153.5 247v1M153.5 252v1M153.5 256v1M153.5 258v2M153.5 262v1M153.5 276v1M154.5 211v2M154.5 217v1M154.5 224v1M154.5 253v1M154.5 255v1M154.5 262v1M159.5 198v1M159.5 201v1M159.5 205v1M159.5 215v2M159.5 219v1M159.5 247v1M159.5 249v1M159.5 251v1M159.5 255v1M159.5 262v1M159.5 265v1M159.5 269v1M159.5 287v1M160.5 197v1M160.5 210v2M160.5 256v1M161.5 197v1M161.5 212v1M161.5 220v1M161.5 227v1M161.5 237v1M161.5 248v1M161.5 286v1M162.5 197v1M162.5 212v1M162.5 214v1M162.5 226v1M162.5 232v1M162.5 237v1M162.5 241v1M162.5 252v1M162.5 258v1M162.5 267v1M163.5 213v1M163.5 216v1M163.5 220v2M163.5 229v1M163.5 237v1M163.5 239v1M163.5 243v3M163.5 254v2M163.5 259v1M165.5 201v1M165.5 204v2M165.5 215v1M165.5 219v2M165.5 227v2M165.5 250v1M165.5 254v1M165.5 261v1M165.5 263v1M165.5 281v1M165.5 288v1M166.5 200v1M166.5 216v1M166.5 224v4M166.5 265v1M291.5 263v1M292.5 238v1M292.5 242v1M292.5 253v1M292.5 257v1M292.5 263v1M293.5 222v2M293.5 232v2M293.5 245v1M293.5 248v1M293.5 270v1M294.5 222v2M294.5 231v2M294.5 242v1M294.5 252v1M296.5 225v1M296.5 231v1M296.5 265v1M297.5 248v1M306.5 224v1M306.5 226v2M306.5 232v1M306.5 234v1M306.5 242v1M306.5 250v1M306.5 261v2M309.5 244v2M309.5 247v1M309.5 249v1M309.5 255v1M309.5 262v1M309.5 270v1M310.5 220v1M310.5 225v2M310.5 236v3M310.5 240v2M310.5 247v2M310.5 251v2M310.5 271v1M310.5 276v1M310.5 283v1M311.5 224v1M311.5 229v1M311.5 250v2M311.5 255v1M311.5 263v2M311.5 268v2M311.5 271v1M311.5 275v1M311.5 282v1M312.5 210v2M312.5 213v1M312.5 219v1M312.5 221v1M312.5 239v1M312.5 242v2M312.5 247v1M312.5 251v1M312.5 261v1M312.5 267v1M312.5 284v1M313.5 204v1M313.5 216v1M313.5 221v1M313.5 246v1M313.5 292v1M314.5 202v1M314.5 218v1M314.5 222v2M314.5 229v1M314.5 245v1M314.5 248v1M314.5 250v2M314.5 276v1M315.5 203v2M315.5 206v2M315.5 213v1M315.5 218v1M315.5 233v1M315.5 236v1M315.5 239v1M315.5 244v5M315.5 275v1M315.5 277v1M318.5 220v1M318.5 227v1M318.5 229v1M318.5 239v1M318.5 242v1M318.5 265v2M318.5 268v1M318.5 272v2M322.5 156v1M322.5 190v1M322.5 208v1M322.5 218v1M322.5 221v3M322.5 273v1M323.5 198v2M323.5 201v1M323.5 208v1M323.5 219v1M323.5 222v1M323.5 232v1M323.5 256v1M323.5 258v1M323.5 273v1M324.5 164v1M324.5 183v1M324.5 186v1M324.5 192v1M324.5 194v3M324.5 220v1M324.5 230v1M324.5 245v1M324.5 247v1M324.5 249v1M324.5 266v1M324.5 272v1M325.5 188v2M325.5 192v1M325.5 194v3M325.5 202v1M325.5 214v1M325.5 217v1M325.5 222v1M325.5 224v1M325.5 231v1M325.5 246v1M325.5 248v2M325.5 256v1M325.5 258v1M325.5 266v1M326.5 206v1M326.5 217v1M326.5 226v1M326.5 240v1M326.5 248v1M326.5 251v1M326.5 253v1M326.5 262v1M326.5 267v1M327.5 212v2M327.5 217v1M327.5 222v1M327.5 227v2M327.5 232v2M327.5 236v1M327.5 241v1M327.5 245v2M327.5 263v1M328.5 211v3M328.5 217v1M328.5 229v1M328.5 240v1M328.5 252v1M328.5 266v1M328.5 269v1M329.5 229v2M329.5 232v1M329.5 234v1M329.5 239v1M329.5 246v2M329.5 255v1M332.5 235v2M332.5 241v2M332.5 248v1M332.5 258v2M332.5 265v1M332.5 269v1M332.5 275v1M333.5 232v1M333.5 244v1M333.5 251v1M333.5 253v1M333.5 256v2M333.5 270v1M333.5 288v1M333.5 292v1M333.5 295v1M334.5 223v1M334.5 225v1M334.5 228v1M334.5 230v1M334.5 233v1M334.5 242v1M334.5 247v2M334.5 250v1M334.5 255v2M334.5 273v1M334.5 286v1M334.5 294v1M343.5 244v2M343.5 247v1M343.5 253v1M344.5 238v2M344.5 242v1M344.5 257v1M344.5 266v1M345.5 231v1M345.5 244v1M345.5 255v1M345.5 258v1M345.5 262v1M345.5 266v2M346.5 242v2M346.5 247v1M346.5 256v1M346.5 262v3M346.5 266v2M347.5 229v1M347.5 255v1M348.5 213v2M348.5 222v1M348.5 234v1M349.5 207v2M349.5 210v1M349.5 222v1M349.5 227v1M349.5 255v2M349.5 264v2M350.5 218v1M350.5 236v1M350.5 242v2M357.5 196v1M357.5 204v1M357.5 212v1M357.5 215v1M357.5 218v1M357.5 227v2M357.5 238v1M358.5 209v1M358.5 265v1M358.5 271v1M359.5 271v2M360.5 207v1M360.5 209v1M360.5 218v2M360.5 227v1M360.5 234v1M360.5 238v1M360.5 242v1M360.5 256v1M360.5 264v4M360.5 274v1M360.5 287v1M361.5 205v1M361.5 208v1M361.5 227v1M361.5 236v1M361.5 240v1M361.5 265v1M361.5 273v2M361.5 288v1M362.5 202v2M362.5 207v2M362.5 214v2M362.5 221v1M362.5 223v2M362.5 230v1M362.5 237v2M362.5 272v1M362.5 276v1M362.5 281v1M362.5 289v1M363.5 208v1M363.5 219v1M363.5 287v1M363.5 292v1M363.5 295v1M364.5 201v1M364.5 208v1M364.5 211v1M364.5 292v2M364.5 295v1M365.5 275v1M365.5 283v1M365.5 292v1M365.5 295v1M366.5 193v1M366.5 195v1M366.5 204v1M366.5 211v1M366.5 293v1M366.5 295v1M367.5 205v1M367.5 209v2M367.5 220v1M367.5 225v1M367.5 242v1M367.5 246v1M367.5 252v1M367.5 255v1M367.5 263v1M367.5 280v1M368.5 213v1M368.5 225v1M368.5 234v1M368.5 240v1M368.5 242v1M368.5 248v1M383.5 201v1M383.5 206v1M383.5 215v1M383.5 217v1M383.5 221v1M383.5 232v1M383.5 236v1M383.5 238v1M383.5 262v2M384.5 209v1M384.5 219v1M384.5 229v3M384.5 237v1M384.5 254v1M384.5 258v2M384.5 263v1M384.5 268v1M384.5 272v2M384.5 283v1M506.5 225v3M507.5 224v4M507.5 257v1M511.5 222v1M511.5 225v1M511.5 284v2M511.5 288v1M512.5 221v1M513.5 221v1M517.5 205v1M517.5 207v1M517.5 251v1M517.5 265v1M517.5 283v1M517.5 287v1M517.5 290v1M518.5 213v1M518.5 216v1M518.5 219v1M518.5 223v1M519.5 216v1M519.5 219v1M519.5 278v1M519.5 288v3M520.5 209v1M520.5 222v1M520.5 238v1M520.5 250v1M520.5 263v1M520.5 286v1M521.5 186v1M521.5 201v1M521.5 233v2M521.5 249v1M521.5 269v2M521.5 276v3M521.5 280v1M522.5 183v1M522.5 192v3M522.5 206v1M522.5 211v1M522.5 213v1M522.5 215v1M522.5 239v1M522.5 245v1M522.5 271v1M522.5 274v1M523.5 192v1M523.5 197v2M524.5 203v1M524.5 230v1M524.5 263v1M524.5 278v3M525.5 192v2M525.5 208v1M525.5 210v1M525.5 213v1M525.5 215v2M525.5 218v1M525.5 220v1M525.5 226v1M525.5 239v1M525.5 244v1M525.5 246v2M525.5 260v1M525.5 268v1M525.5 273v1M525.5 277v2M525.5 284v1M526.5 220v1M526.5 222v2M526.5 267v1M526.5 275v1M526.5 277v1M527.5 181v3M527.5 192v1M527.5 195v1M527.5 200v2M527.5 203v2M527.5 208v2M527.5 212v1M527.5 221v2M527.5 224v1M527.5 241v1M527.5 244v1M527.5 248v2M527.5 253v1M527.5 256v2M527.5 259v1M527.5 270v1M527.5 281v1M527.5 289v2M528.5 178v1M528.5 187v1M528.5 204v2M528.5 259v1M528.5 280v1M528.5 291v1M528.5 293v1M529.5 172v3M529.5 177v1M529.5 184v2M529.5 193v1M529.5 223v1M529.5 272v1M529.5 274v1M529.5 290v1M529.5 292v1M530.5 182v1M530.5 184v1M530.5 194v1M530.5 197v1M530.5 200v1M530.5 205v2M530.5 234v3M530.5 238v1M530.5 240v1M530.5 283v2M530.5 288v1M531.5 232v2M531.5 251v1M531.5 256v1M534.5 204v1M534.5 206v1M534.5 233v1M535.5 206v1M535.5 234v1M536.5 198v1M536.5 206v2M536.5 220v1M536.5 225v1M536.5 241v1M536.5 253v2M536.5 256v1M536.5 259v2M536.5 265v1M536.5 278v3M537.5 278v1M540.5 274v1M541.5 208v2M541.5 213v1M541.5 215v1M541.5 227v1M541.5 231v1M541.5 236v1M541.5 244v1M541.5 247v1M541.5 249v2M541.5 265v2M541.5 272v1M541.5 277v1M544.5 209v1M544.5 271v1M545.5 163v1M545.5 172v1M545.5 174v1M545.5 179v1M545.5 182v1M545.5 185v1M545.5 188v1M545.5 203v1M545.5 217v2M545.5 227v1M545.5 241v1M545.5 244v1M545.5 279v1M545.5 286v1M546.5 197v3M546.5 208v1M546.5 210v2M546.5 214v1M546.5 217v1M546.5 219v1M546.5 226v1M546.5 229v1M546.5 234v1M546.5 236v1M546.5 247v1M546.5 253v1M546.5 256v1M546.5 258v2M546.5 264v1M546.5 269v1M546.5 272v1M546.5 275v2M546.5 285v2M552.5 223v2M552.5 229v1M552.5 232v2M552.5 235v1M552.5 240v2M552.5 250v3M552.5 255v1M553.5 203v1M553.5 207v1M553.5 224v2M553.5 227v1M553.5 230v1M553.5 233v1M553.5 238v1M553.5 245v1M553.5 247v5M553.5 253v1M553.5 255v2M553.5 258v1M553.5 269v1" stroke="#79add2"/>
<path d="M103.5 177v1M103.5 186v1M103.5 192v1M103.5 194v1M103.5 196v1M103.5 199v1M103.5 205v2M103.5 209v1M103.5 211v3M104.5 158v1M104.5 215v1M104.5 217v1M104.5 219v1M105.5 178v2M105.5 216v1M105.5 221v2M105.5 241v1M106.5 186v2M106.5 191v2M106.5 212v1M106.5 216v1M106.5 218v1M106.5 221v1M106.5 225v1M106.5 230v1M106.5 233v1M107.5 194v2M107.5 203v1M107.5 205v1M119.5 243v1M120.5 236v1M120.5 251v1M120.5 263v1M121.5 247v1M121.5 250v1M121.5 260v2M121.5 263v2M122.5 241v1M122.5 247v1M122.5 250v2M122.5 262v1M122.5 265v1M122.5 269v2M122.5 272v1M122.5 274v1M122.5 281v1M122.5 285v1M122.5 287v1M122.5 291v1M122.5 312v1M123.5 250v1M123.5 260v2M123.5 287v1M123.5 306v1M127.5 246v2M128.5 216v1M128.5 219v1M128.5 231v1M128.5 234v1M128.5 238v1M128.5 265v1M128.5 267v1M128.5 297v1M129.5 200v1M129.5 207v2M129.5 215v1M129.5 226v2M129.5 237v1M129.5 241v1M129.5 254v1M129.5 258v1M129.5 270v3M129.5 274v3M129.5 285v1M129.5 292v1M129.5 294v2M130.5 218v2M130.5 242v1M130.5 252v2M130.5 268v1M130.5 274v1M130.5 284v1M130.5 290v1M130.5 295v1M130.5 306v1M130.5 312v2M131.5 218v1M131.5 247v3M131.5 253v1M131.5 258v3M131.5 263v1M131.5 273v1M131.5 295v1M132.5 196v1M132.5 219v1M132.5 238v1M132.5 247v1M132.5 249v2M132.5 263v1M132.5 267v1M132.5 271v1M132.5 287v1M133.5 197v1M136.5 205v1M136.5 211v1M136.5 227v1M136.5 239v1M136.5 253v1M136.5 270v1M137.5 203v1M137.5 227v2M137.5 232v1M137.5 244v1M137.5 252v1M137.5 261v1M138.5 208v1M138.5 217v1M138.5 224v1M138.5 239v1M138.5 241v1M138.5 246v1M138.5 249v1M138.5 260v2M138.5 265v1M138.5 270v1M138.5 273v1M139.5 207v1M139.5 217v2M139.5 243v1M139.5 253v1M139.5 255v1M151.5 286v1M152.5 224v1M152.5 238v2M152.5 259v1M160.5 229v1M160.5 231v1M161.5 223v2M161.5 228v1M161.5 230v1M161.5 242v1M162.5 223v2M162.5 228v2M162.5 244v1M162.5 254v2M163.5 222v1M165.5 264v1M292.5 258v1M293.5 229v1M293.5 231v1M293.5 244v1M293.5 259v2M293.5 267v2M294.5 229v1M294.5 265v1M294.5 267v1M309.5 261v1M310.5 245v2M310.5 253v1M310.5 256v1M310.5 263v1M310.5 270v1M311.5 236v1M311.5 266v1M312.5 214v1M312.5 235v1M312.5 259v1M312.5 266v1M313.5 207v1M313.5 209v1M313.5 213v1M313.5 215v1M313.5 218v1M313.5 220v1M313.5 225v1M313.5 228v1M313.5 234v4M313.5 240v1M313.5 242v1M313.5 253v1M313.5 261v1M313.5 268v1M314.5 205v1M314.5 207v1M314.5 211v1M314.5 214v2M314.5 219v1M314.5 221v1M314.5 231v4M314.5 247v1M314.5 265v1M315.5 209v1M315.5 219v1M315.5 222v1M315.5 257v1M315.5 259v3M315.5 266v1M315.5 273v1M323.5 223v1M324.5 188v1M324.5 202v1M324.5 206v1M324.5 222v1M324.5 224v1M324.5 227v1M324.5 234v1M324.5 255v1M324.5 264v2M325.5 201v1M325.5 223v1M325.5 225v2M325.5 228v1M325.5 236v1M325.5 243v2M325.5 259v1M325.5 263v1M326.5 261v1M327.5 224v1M327.5 247v1M327.5 253v1M327.5 258v1M327.5 264v1M328.5 214v2M328.5 237v1M328.5 239v1M328.5 265v1M329.5 228v1M329.5 235v1M329.5 237v1M332.5 247v1M333.5 227v1M333.5 237v1M333.5 241v1M333.5 246v1M333.5 254v1M333.5 258v1M333.5 261v1M333.5 266v1M333.5 268v1M333.5 287v1M334.5 234v2M334.5 239v1M334.5 260v1M334.5 267v1M334.5 279v2M334.5 290v1M344.5 244v1M344.5 248v1M345.5 238v1M346.5 231v1M346.5 246v1M346.5 259v1M346.5 261v1M347.5 236v1M347.5 246v1M347.5 248v2M347.5 252v3M347.5 260v1M348.5 208v1M348.5 223v2M348.5 226v1M348.5 236v3M348.5 243v2M348.5 252v1M348.5 260v1M349.5 213v1M349.5 218v1M349.5 220v1M349.5 233v1M349.5 235v3M349.5 241v1M349.5 249v2M349.5 254v1M349.5 257v1M361.5 234v2M361.5 264v1M362.5 196v1M362.5 201v1M362.5 206v1M362.5 246v2M362.5 253v1M362.5 266v1M362.5 275v1M363.5 196v2M363.5 202v1M363.5 211v1M363.5 222v2M363.5 233v1M363.5 238v1M363.5 251v2M363.5 259v1M363.5 262v1M363.5 271v2M363.5 276v2M363.5 288v1M364.5 200v1M364.5 204v1M364.5 212v2M364.5 215v1M364.5 217v2M364.5 221v1M364.5 227v2M364.5 236v2M364.5 253v1M364.5 271v2M364.5 277v1M364.5 288v1M365.5 198v1M365.5 200v1M365.5 204v1M365.5 208v1M365.5 210v3M365.5 227v1M365.5 229v1M365.5 232v1M365.5 293v1M366.5 205v1M366.5 210v1M366.5 213v1M366.5 215v1M366.5 222v2M366.5 225v2M366.5 230v1M366.5 240v1M366.5 257v1M366.5 263v1M366.5 265v1M366.5 274v1M366.5 278v1M367.5 237v2M367.5 241v1M367.5 256v1M383.5 224v2M383.5 242v1M384.5 222v1M384.5 224v1M384.5 228v1M384.5 244v1M384.5 248v1M384.5 264v1M384.5 266v1M517.5 236v1M517.5 239v1M517.5 246v2M517.5 254v1M517.5 267v1M517.5 272v2M517.5 275v4M517.5 282v1M518.5 220v2M518.5 251v1M518.5 253v1M518.5 255v1M518.5 262v1M518.5 264v1M518.5 280v1M518.5 283v1M518.5 285v1M519.5 249v3M519.5 270v2M519.5 283v1M519.5 286v1M520.5 220v1M520.5 223v2M520.5 227v1M520.5 229v1M520.5 231v2M520.5 239v1M520.5 241v1M520.5 243v2M520.5 252v1M520.5 254v2M520.5 266v1M520.5 273v1M520.5 275v1M520.5 283v1M520.5 285v1M521.5 200v1M521.5 219v1M521.5 224v1M521.5 229v1M521.5 254v2M521.5 259v1M521.5 261v1M521.5 281v3M522.5 198v1M522.5 201v1M522.5 209v1M522.5 218v1M522.5 220v1M522.5 224v1M522.5 230v2M522.5 233v1M522.5 235v1M522.5 242v1M522.5 247v3M522.5 252v2M522.5 256v1M522.5 259v1M522.5 263v1M522.5 270v1M522.5 281v1M523.5 199v1M523.5 207v1M523.5 210v1M523.5 215v2M523.5 231v1M523.5 234v1M523.5 246v1M523.5 259v1M523.5 273v1M523.5 283v1M524.5 192v1M524.5 204v1M524.5 216v2M524.5 226v1M524.5 229v1M524.5 251v1M524.5 265v1M524.5 277v1M524.5 285v1M524.5 287v1M525.5 223v1M525.5 243v1M525.5 283v1M527.5 207v1M527.5 210v2M527.5 225v2M527.5 229v1M527.5 232v2M527.5 238v2M527.5 246v1M527.5 251v1M527.5 264v1M527.5 266v1M527.5 268v1M527.5 276v1M527.5 282v1M527.5 285v1M528.5 183v1M528.5 189v1M528.5 191v1M528.5 193v1M528.5 208v1M528.5 220v2M528.5 224v1M528.5 236v1M528.5 258v1M528.5 260v1M528.5 272v1M528.5 278v1M528.5 282v1M528.5 286v1M528.5 290v1M528.5 292v1M529.5 187v2M529.5 191v1M529.5 198v1M529.5 201v1M529.5 204v1M529.5 209v2M529.5 215v1M529.5 236v1M529.5 240v1M529.5 273v1M529.5 281v1M529.5 287v1M529.5 289v1M530.5 190v1M530.5 210v1M530.5 215v2M530.5 237v1M530.5 243v1M530.5 248v1M530.5 262v1M530.5 266v1M530.5 268v1M530.5 275v1M530.5 285v1M541.5 263v1M541.5 275v1M545.5 192v1M545.5 194v1M545.5 202v1M545.5 216v1M545.5 229v1M545.5 252v1M545.5 259v2M545.5 266v1M545.5 277v1M546.5 191v1M546.5 193v1M546.5 195v1M546.5 209v1M546.5 261v1M546.5 277v1M552.5 264v3M553.5 264v1M553.5 273v1" stroke="#6da7ce"/>
<path d="M104.5 176v1M104.5 190v1M104.5 194v1M104.5 210v2M104.5 213v1M105.5 191v1M105.5 204v1M105.5 211v1M105.5 215v1M106.5 203v1M106.5 213v1M106.5 228v1M121.5 248v1M122.5 248v1M128.5 284v1M129.5 235v1M129.5 242v1M129.5 244v2M129.5 249v1M129.5 252v1M129.5 255v1M129.5 260v1M129.5 265v1M129.5 283v1M130.5 261v1M131.5 265v1M136.5 223v1M137.5 205v2M137.5 235v1M137.5 246v1M138.5 204v1M138.5 215v1M138.5 234v1M138.5 237v1M138.5 245v1M138.5 267v2M312.5 229v1M313.5 238v1M313.5 255v1M313.5 258v1M313.5 270v1M314.5 220v1M314.5 259v1M314.5 269v2M314.5 273v1M324.5 261v1M325.5 253v1M328.5 235v1M328.5 246v1M333.5 236v1M333.5 259v1M333.5 277v1M347.5 237v1M347.5 259v1M348.5 245v1M348.5 248v1M348.5 253v1M362.5 227v1M362.5 240v1M362.5 256v1M362.5 260v1M362.5 273v1M363.5 200v1M363.5 243v1M363.5 254v1M363.5 263v1M363.5 278v1M364.5 223v1M364.5 226v1M364.5 239v1M364.5 243v1M364.5 245v1M364.5 261v2M364.5 264v1M364.5 270v1M364.5 273v1M365.5 214v1M365.5 218v1M365.5 222v1M365.5 235v1M365.5 240v1M365.5 264v1M365.5 271v2M366.5 238v1M366.5 279v2M517.5 242v1M518.5 230v1M518.5 248v1M518.5 263v1M518.5 270v2M518.5 282v1M519.5 229v1M519.5 240v1M519.5 243v1M520.5 236v1M520.5 242v1M520.5 257v1M520.5 259v1M520.5 262v1M520.5 282v1M521.5 235v1M521.5 243v1M521.5 258v1M522.5 199v1M522.5 202v1M522.5 229v1M522.5 236v1M522.5 254v1M522.5 257v1M522.5 260v1M523.5 208v1M523.5 211v1M523.5 218v1M523.5 233v1M523.5 237v1M523.5 240v1M523.5 244v1M523.5 249v1M523.5 252v2M523.5 256v1M523.5 263v1M523.5 270v1M523.5 282v1M523.5 285v1M524.5 211v1M524.5 224v1M524.5 283v1M528.5 245v1M528.5 256v1M528.5 265v1M529.5 226v1M529.5 234v1M529.5 239v1M529.5 241v2M529.5 252v1M529.5 268v1M529.5 286v1M530.5 233v1M530.5 251v1M545.5 208v1M545.5 214v1M545.5 234v1" stroke="#62a0ca"/>
<path d="M103.5 228v1M104.5 197v1M105.5 194v1M105.5 202v1M105.5 219v1M105.5 279v1M106.5 168v1M106.5 189v1M106.5 252v1M106.5 257v1M106.5 271v1M106.5 276v1M106.5 280v2M114.5 227v1M115.5 191v1M115.5 224v1M115.5 238v1M119.5 202v1M119.5 320v1M120.5 200v1M121.5 230v1M122.5 209v1M122.5 321v1M123.5 241v1M123.5 244v1M123.5 329v1M129.5 263v1M130.5 264v1M130.5 322v1M132.5 279v1M133.5 215v1M133.5 224v1M133.5 262v1M133.5 302v1M134.5 259v1M134.5 261v1M134.5 297v1M136.5 277v1M137.5 201v1M138.5 296v1M139.5 197v1M139.5 222v1M139.5 229v1M139.5 276v1M139.5 290v1M140.5 217v1M143.5 189v1M143.5 192v1M143.5 195v2M143.5 202v1M143.5 242v1M143.5 244v1M143.5 260v1M143.5 262v1M143.5 266v1M143.5 286v1M143.5 294v2M143.5 326v1M143.5 331v1M147.5 194v1M147.5 211v1M147.5 238v1M147.5 244v1M147.5 267v1M147.5 272v1M147.5 279v1M147.5 284v1M147.5 327v1M148.5 215v1M148.5 248v1M148.5 266v1M148.5 289v1M148.5 292v1M151.5 218v1M151.5 243v1M151.5 263v1M152.5 192v1M152.5 203v1M152.5 292v1M153.5 319v1M154.5 235v1M154.5 260v1M154.5 271v1M154.5 295v1M155.5 255v1M159.5 294v1M159.5 305v1M161.5 181v1M161.5 209v1M161.5 273v1M161.5 276v1M161.5 282v1M162.5 201v1M165.5 231v1M165.5 258v1M166.5 100v1M166.5 183v1M166.5 203v1M166.5 233v1M166.5 249v1M285.5 261v1M291.5 233v1M291.5 245v1M293.5 214v1M293.5 240v1M294.5 217v1M294.5 225v1M294.5 273v1M296.5 216v1M296.5 218v1M296.5 220v1M296.5 232v1M296.5 256v1M297.5 202v1M297.5 223v1M306.5 201v1M306.5 241v1M310.5 232v1M310.5 279v1M310.5 286v1M310.5 288v1M312.5 205v1M312.5 288v1M313.5 291v1M315.5 290v1M318.5 196v1M318.5 206v1M318.5 213v1M318.5 277v1M322.5 163v1M322.5 199v1M322.5 215v1M322.5 236v1M323.5 243v1M323.5 248v1M325.5 183v1M325.5 191v1M325.5 272v1M327.5 206v1M329.5 285v1M332.5 233v1M334.5 222v1M334.5 264v1M334.5 271v1M344.5 225v1M344.5 241v1M346.5 272v1M348.5 205v1M349.5 277v1M350.5 189v1M350.5 200v1M350.5 228v1M357.5 187v1M357.5 190v1M357.5 236v1M357.5 239v1M357.5 243v1M357.5 246v1M357.5 253v1M357.5 259v1M357.5 289v1M358.5 141v1M360.5 233v1M360.5 243v1M360.5 247v1M360.5 255v1M360.5 259v1M360.5 276v1M360.5 286v1M362.5 302v1M363.5 255v1M363.5 269v1M364.5 241v1M364.5 247v1M364.5 256v1M364.5 300v1M364.5 303v1M365.5 248v1M365.5 256v1M365.5 285v1M366.5 284v1M366.5 288v1M366.5 290v1M366.5 299v1M368.5 214v1M368.5 218v1M368.5 245v1M368.5 258v1M368.5 264v1M368.5 266v1M368.5 274v1M383.5 200v1M383.5 214v1M383.5 278v1M506.5 212v1M506.5 218v1M507.5 211v1M507.5 221v1M507.5 223v1M507.5 252v1M507.5 255v1M507.5 263v1M507.5 273v1M511.5 217v1M511.5 238v2M511.5 252v1M511.5 276v1M513.5 180v1M513.5 183v1M513.5 189v1M513.5 201v1M513.5 206v1M513.5 209v1M513.5 263v1M517.5 176v1M517.5 212v1M518.5 236v1M518.5 243v1M518.5 293v1M520.5 289v1M521.5 182v1M521.5 192v1M521.5 264v1M523.5 261v1M523.5 291v1M524.5 167v1M524.5 191v1M524.5 291v1M525.5 202v1M525.5 266v1M526.5 262v1M527.5 185v1M529.5 263v1M529.5 305v1M530.5 173v1M530.5 299v1M534.5 194v1M534.5 267v1M536.5 194v1M536.5 218v1M536.5 235v1M536.5 251v1M536.5 272v1M536.5 281v1M536.5 284v1M537.5 270v1M541.5 191v1M541.5 194v1M541.5 201v1M541.5 206v1M541.5 212v1M541.5 216v1M541.5 219v1M541.5 255v1M541.5 282v1M545.5 152v1M545.5 157v1M545.5 264v1M545.5 295v1M545.5 376v1M545.5 407v1M546.5 238v1M546.5 241v1M546.5 248v1M552.5 280v1M553.5 181v1" stroke="#5799c7"/>
<path d="M103.5 158v1M103.5 175v2M103.5 179v1M103.5 183v1M103.5 190v1M103.5 195v1M103.5 197v2M103.5 202v1M103.5 204v1M103.5 215v1M104.5 156v2M104.5 160v1M104.5 167v2M104.5 170v1M104.5 218v1M104.5 220v1M105.5 158v1M105.5 176v1M105.5 183v1M105.5 242v1M105.5 244v1M106.5 215v1M106.5 217v1M106.5 226v2M106.5 236v1M106.5 240v2M106.5 244v1M106.5 250v1M107.5 181v1M107.5 188v3M107.5 198v1M107.5 202v1M107.5 206v1M107.5 209v1M107.5 213v1M107.5 222v1M107.5 233v1M115.5 197v1M115.5 202v1M115.5 204v1M115.5 217v1M115.5 231v1M119.5 221v2M119.5 238v1M119.5 240v2M119.5 245v1M119.5 250v1M119.5 253v1M119.5 256v1M119.5 262v1M119.5 265v1M119.5 272v1M119.5 278v1M119.5 288v2M119.5 293v1M119.5 298v1M119.5 310v1M120.5 215v1M120.5 220v1M120.5 240v1M120.5 246v1M120.5 252v1M120.5 259v1M120.5 262v1M120.5 264v1M120.5 310v1M120.5 315v1M121.5 214v1M121.5 222v1M121.5 224v1M121.5 227v1M121.5 236v2M121.5 241v1M121.5 243v1M121.5 265v1M121.5 272v1M121.5 274v1M121.5 276v1M121.5 290v1M122.5 200v2M122.5 215v1M122.5 242v1M122.5 259v1M122.5 264v1M122.5 266v1M122.5 282v1M122.5 286v1M122.5 295v1M122.5 306v1M122.5 313v1M122.5 315v1M123.5 225v2M123.5 248v2M123.5 251v1M123.5 263v1M123.5 274v1M123.5 286v1M123.5 294v2M123.5 297v1M123.5 307v1M123.5 309v1M128.5 200v1M128.5 207v3M128.5 218v1M128.5 228v1M128.5 239v2M128.5 268v4M128.5 276v1M128.5 289v1M128.5 292v1M128.5 305v1M128.5 307v1M128.5 310v1M128.5 312v1M128.5 314v1M129.5 195v1M129.5 209v1M129.5 214v1M129.5 216v1M129.5 220v1M129.5 224v1M129.5 228v1M129.5 230v2M129.5 233v1M129.5 282v1M129.5 289v2M129.5 298v1M129.5 307v1M129.5 310v1M129.5 314v1M129.5 317v1M130.5 246v1M130.5 249v1M130.5 251v1M130.5 267v1M130.5 272v1M130.5 287v1M130.5 291v1M130.5 297v1M130.5 300v1M131.5 244v1M131.5 276v1M131.5 280v1M131.5 283v3M131.5 287v2M131.5 296v2M131.5 300v1M131.5 304v1M131.5 308v2M131.5 313v2M131.5 317v1M132.5 197v1M132.5 212v2M132.5 216v1M132.5 220v1M132.5 239v1M132.5 248v1M132.5 266v1M132.5 272v1M132.5 290v2M133.5 213v1M133.5 220v1M133.5 237v1M133.5 239v1M133.5 246v1M133.5 264v1M133.5 269v1M133.5 286v1M134.5 272v1M136.5 206v2M136.5 209v2M136.5 214v1M136.5 228v1M136.5 231v2M136.5 234v1M136.5 238v1M136.5 240v1M136.5 243v1M136.5 246v2M136.5 251v1M136.5 255v1M136.5 258v1M136.5 263v1M136.5 268v1M136.5 273v1M137.5 186v1M137.5 190v1M137.5 211v1M137.5 218v1M137.5 220v1M137.5 230v1M137.5 239v1M137.5 254v1M137.5 260v1M137.5 265v1M137.5 267v1M137.5 272v1M137.5 275v1M138.5 203v1M138.5 213v1M138.5 218v1M138.5 220v1M138.5 227v1M138.5 238v1M138.5 259v1M138.5 266v1M138.5 274v1M139.5 189v1M139.5 206v1M139.5 213v2M139.5 235v1M139.5 237v2M139.5 244v2M139.5 249v1M139.5 254v1M139.5 266v1M139.5 285v3M140.5 268v1M143.5 199v2M143.5 235v1M143.5 237v1M143.5 247v5M143.5 253v3M143.5 273v1M143.5 282v1M143.5 290v3M143.5 308v1M143.5 327v2M147.5 256v1M147.5 260v1M147.5 263v1M148.5 219v1M148.5 233v3M148.5 261v1M148.5 263v1M151.5 214v2M151.5 250v1M151.5 257v1M151.5 272v2M151.5 276v1M151.5 278v1M151.5 284v2M151.5 287v2M151.5 301v1M151.5 306v2M152.5 212v1M152.5 214v1M152.5 216v1M152.5 225v1M152.5 237v1M152.5 250v1M152.5 254v2M152.5 258v1M152.5 260v1M152.5 269v1M152.5 271v1M152.5 276v1M152.5 286v1M152.5 290v1M153.5 211v1M153.5 216v1M153.5 218v1M153.5 224v1M153.5 241v1M153.5 246v1M153.5 248v1M153.5 253v1M153.5 270v1M153.5 273v1M153.5 283v1M154.5 188v1M154.5 218v2M154.5 241v1M159.5 200v1M159.5 202v1M159.5 209v2M159.5 212v2M159.5 217v1M159.5 226v1M159.5 228v4M159.5 233v1M159.5 235v1M159.5 237v1M159.5 239v1M159.5 252v1M159.5 254v1M159.5 257v1M159.5 259v3M159.5 266v1M159.5 268v1M159.5 270v1M159.5 272v2M159.5 277v2M159.5 284v1M161.5 213v2M161.5 222v1M161.5 241v1M161.5 246v1M161.5 249v2M161.5 254v2M161.5 258v1M161.5 261v1M161.5 267v2M161.5 287v1M162.5 222v1M162.5 250v1M162.5 259v1M162.5 268v1M163.5 215v1M163.5 224v1M163.5 227v2M163.5 246v2M163.5 252v1M163.5 260v2M165.5 202v1M165.5 206v1M165.5 218v1M165.5 221v1M165.5 224v2M165.5 244v1M165.5 249v1M165.5 252v2M165.5 262v1M165.5 265v2M165.5 278v1M165.5 286v1M166.5 215v1M166.5 218v1M285.5 262v1M291.5 217v1M291.5 222v1M291.5 265v1M291.5 269v1M293.5 218v1M293.5 237v1M293.5 243v1M293.5 257v1M293.5 262v1M293.5 265v1M293.5 273v1M294.5 227v2M294.5 230v1M294.5 244v1M294.5 248v1M294.5 253v1M294.5 255v1M294.5 259v2M294.5 262v2M294.5 268v1M296.5 248v1M296.5 250v1M297.5 231v1M306.5 203v2M306.5 211v4M306.5 223v1M306.5 236v1M306.5 238v1M306.5 243v1M306.5 252v2M306.5 256v2M306.5 265v2M309.5 238v1M309.5 246v1M309.5 250v1M309.5 252v3M309.5 260v1M309.5 271v1M310.5 209v1M310.5 211v1M310.5 233v1M310.5 254v1M310.5 257v1M310.5 259v1M310.5 274v2M310.5 282v1M311.5 234v2M311.5 256v1M312.5 207v1M312.5 215v1M312.5 220v1M312.5 227v1M312.5 231v1M312.5 233v1M312.5 244v1M312.5 253v1M312.5 258v1M312.5 260v1M312.5 270v1M312.5 272v1M312.5 274v1M313.5 208v1M313.5 210v1M313.5 212v1M313.5 214v1M313.5 219v1M313.5 224v1M313.5 227v1M313.5 241v1M313.5 243v1M313.5 252v1M313.5 267v1M313.5 269v1M314.5 203v2M314.5 238v1M314.5 243v1M314.5 261v1M314.5 268v1M314.5 292v1M315.5 208v1M315.5 210v1M315.5 215v1M315.5 223v1M315.5 229v3M315.5 240v2M315.5 243v1M315.5 251v1M315.5 253v2M315.5 256v1M315.5 265v1M315.5 268v1M315.5 274v1M315.5 276v1M315.5 278v1M318.5 216v1M318.5 225v2M318.5 230v1M318.5 235v1M318.5 237v2M318.5 241v1M318.5 246v3M318.5 250v1M318.5 252v1M318.5 258v1M318.5 260v2M318.5 263v1M318.5 269v1M318.5 271v1M318.5 274v1M322.5 155v1M322.5 168v2M322.5 175v2M322.5 182v1M322.5 187v2M322.5 192v1M322.5 207v1M322.5 219v2M322.5 232v1M322.5 272v1M323.5 203v1M323.5 212v1M323.5 216v1M323.5 260v1M324.5 167v2M324.5 189v1M324.5 193v1M324.5 198v1M324.5 219v1M324.5 225v2M324.5 229v1M324.5 235v1M324.5 237v1M324.5 241v2M324.5 244v1M324.5 253v1M324.5 256v2M324.5 262v2M324.5 273v1M325.5 186v1M325.5 197v4M325.5 206v1M325.5 209v1M325.5 211v1M325.5 227v1M325.5 230v1M325.5 240v1M325.5 245v1M325.5 247v1M325.5 251v1M325.5 255v1M325.5 265v1M325.5 275v1M327.5 211v1M327.5 215v1M327.5 223v1M327.5 225v1M327.5 235v1M327.5 240v1M327.5 242v1M327.5 257v1M327.5 259v1M327.5 261v1M327.5 265v3M328.5 216v1M328.5 224v1M328.5 233v2M328.5 238v1M328.5 242v3M328.5 251v1M328.5 253v1M328.5 258v2M328.5 261v1M328.5 264v1M328.5 268v1M329.5 227v1M329.5 231v1M329.5 236v1M329.5 238v1M329.5 245v1M329.5 262v1M332.5 240v1M332.5 243v1M332.5 246v1M332.5 262v1M332.5 264v1M332.5 277v1M333.5 228v2M333.5 238v1M333.5 243v1M333.5 249v1M333.5 252v1M333.5 265v1M333.5 269v1M333.5 272v1M333.5 281v1M333.5 286v1M333.5 290v1M334.5 224v1M334.5 227v1M334.5 238v1M334.5 240v1M334.5 243v1M334.5 254v1M334.5 261v2M334.5 274v1M334.5 278v1M334.5 281v1M334.5 289v1M334.5 293v1M344.5 237v1M344.5 243v1M344.5 246v1M344.5 249v2M344.5 253v1M344.5 258v1M344.5 265v1M344.5 267v1M346.5 215v1M346.5 222v2M346.5 244v1M346.5 248v1M346.5 250v1M346.5 253v3M346.5 258v1M346.5 260v1M347.5 240v1M347.5 245v1M347.5 261v1M348.5 207v1M348.5 210v1M348.5 212v1M348.5 218v1M348.5 220v1M348.5 225v1M348.5 228v2M348.5 240v1M348.5 242v1M348.5 254v1M348.5 259v1M349.5 211v2M349.5 214v1M349.5 226v1M349.5 231v1M349.5 234v1M349.5 238v1M349.5 248v1M349.5 252v1M349.5 258v1M349.5 261v1M349.5 266v2M350.5 219v2M357.5 195v1M357.5 213v1M357.5 216v2M357.5 221v1M357.5 224v1M357.5 226v1M357.5 231v1M357.5 237v1M357.5 266v2M360.5 206v1M360.5 217v1M360.5 220v1M360.5 228v2M360.5 235v1M360.5 237v1M360.5 268v1M360.5 273v1M361.5 261v1M362.5 195v1M362.5 197v1M362.5 199v2M362.5 213v1M362.5 217v2M362.5 231v1M362.5 239v1M362.5 251v2M362.5 259v1M362.5 267v1M362.5 287v2M363.5 194v2M363.5 203v1M363.5 212v1M363.5 220v2M363.5 231v1M363.5 281v1M363.5 289v1M364.5 224v1M364.5 289v1M365.5 195v3M365.5 209v1M365.5 225v1M365.5 228v1M365.5 274v1M365.5 289v1M365.5 294v1M366.5 192v1M366.5 197v1M366.5 199v2M366.5 216v1M366.5 229v1M366.5 239v1M366.5 241v1M366.5 254v1M366.5 264v1M366.5 275v2M368.5 222v1M368.5 228v3M368.5 232v2M368.5 237v1M368.5 239v1M368.5 249v1M383.5 193v1M383.5 195v1M383.5 202v1M383.5 216v1M383.5 222v1M383.5 229v1M383.5 231v1M383.5 239v1M383.5 248v1M383.5 252v1M383.5 258v1M383.5 261v1M383.5 264v1M383.5 267v1M383.5 271v1M384.5 194v1M384.5 220v2M384.5 236v1M384.5 239v1M384.5 243v1M384.5 247v1M384.5 249v2M384.5 262v1M384.5 271v1M384.5 282v1M506.5 228v1M506.5 257v1M507.5 275v1M511.5 220v2M511.5 228v1M511.5 230v1M511.5 257v3M511.5 287v1M511.5 293v2M512.5 230v1M513.5 230v1M513.5 257v2M517.5 206v1M517.5 229v1M517.5 231v1M517.5 234v1M517.5 240v1M517.5 245v1M517.5 249v1M517.5 259v1M517.5 262v1M517.5 266v1M517.5 270v1M517.5 274v1M517.5 280v2M517.5 284v1M518.5 250v1M518.5 265v1M518.5 287v1M519.5 217v1M519.5 254v1M519.5 285v1M520.5 208v1M520.5 230v1M520.5 240v1M520.5 245v1M520.5 276v1M520.5 281v1M521.5 202v1M521.5 207v1M521.5 215v2M521.5 218v1M521.5 220v1M521.5 226v1M521.5 237v1M521.5 242v1M521.5 244v1M521.5 247v1M521.5 251v1M521.5 257v1M521.5 266v1M521.5 272v1M521.5 284v1M522.5 196v2M522.5 204v1M522.5 208v1M522.5 232v1M522.5 237v1M522.5 272v1M522.5 275v1M522.5 282v1M523.5 183v1M523.5 194v1M523.5 202v1M523.5 206v1M523.5 217v1M523.5 221v1M523.5 251v1M523.5 272v1M523.5 275v1M523.5 280v2M523.5 286v2M524.5 193v1M524.5 200v1M524.5 205v1M524.5 207v1M524.5 232v2M524.5 235v1M524.5 259v1M524.5 264v1M524.5 267v1M525.5 211v1M525.5 222v1M525.5 241v2M525.5 275v1M525.5 282v1M526.5 254v1M527.5 193v1M527.5 196v1M527.5 202v1M527.5 205v2M527.5 215v2M527.5 227v1M527.5 231v1M527.5 237v1M527.5 240v1M527.5 245v1M527.5 247v1M527.5 254v1M527.5 263v1M527.5 265v1M527.5 273v1M527.5 277v1M527.5 280v1M527.5 284v1M527.5 292v2M528.5 179v1M528.5 186v1M528.5 190v1M528.5 192v1M528.5 198v1M528.5 200v1M528.5 202v1M528.5 223v1M528.5 271v1M528.5 289v1M529.5 179v2M529.5 195v2M529.5 221v2M529.5 270v1M529.5 278v1M529.5 283v1M529.5 285v1M530.5 183v1M530.5 187v3M530.5 202v1M530.5 211v1M530.5 220v1M530.5 226v1M530.5 241v2M530.5 258v1M530.5 260v2M530.5 265v1M530.5 270v1M530.5 279v1M530.5 281v1M530.5 286v1M531.5 252v1M531.5 274v1M534.5 197v2M534.5 205v1M534.5 234v2M534.5 240v1M534.5 281v1M535.5 204v1M536.5 199v1M536.5 208v1M536.5 215v1M536.5 221v2M536.5 224v1M536.5 226v1M536.5 233v1M536.5 239v1M536.5 245v1M536.5 252v1M536.5 261v1M536.5 266v1M536.5 275v1M536.5 277v1M537.5 277v1M540.5 263v1M540.5 272v1M541.5 207v1M541.5 214v1M541.5 229v1M541.5 239v1M541.5 241v1M541.5 245v2M541.5 261v2M541.5 267v2M541.5 273v1M541.5 276v1M541.5 279v1M544.5 208v1M544.5 214v2M544.5 234v1M544.5 275v1M545.5 170v2M545.5 173v1M545.5 180v2M545.5 183v1M545.5 191v1M545.5 193v1M545.5 195v1M545.5 198v1M545.5 204v2M545.5 210v1M545.5 219v1M545.5 232v2M545.5 239v2M545.5 245v1M545.5 250v1M545.5 258v1M545.5 262v1M545.5 267v3M545.5 272v1M545.5 275v2M545.5 278v1M545.5 285v1M546.5 190v1M546.5 192v1M546.5 194v1M546.5 196v1M546.5 202v1M546.5 212v1M546.5 215v2M546.5 225v1M546.5 228v1M546.5 246v1M546.5 254v2M546.5 262v2M546.5 266v1M546.5 268v1M546.5 271v1M546.5 287v1M552.5 228v1M552.5 234v1M552.5 242v1M552.5 244v1M552.5 248v1M552.5 254v1M552.5 256v1M552.5 260v1M552.5 263v1M552.5 267v2M552.5 270v2M552.5 273v1M553.5 202v1M553.5 204v2M553.5 211v3M553.5 217v1M553.5 226v1M553.5 234v1M553.5 239v3M553.5 243v1M553.5 246v1M553.5 254v1M553.5 257v1M553.5 259v2M553.5 266v3M553.5 271v2" stroke="#4c92c3"/>
<path d="M103.5 207v2M104.5 179v2M104.5 184v4M104.5 195v1M104.5 202v1M104.5 205v2M105.5 180v2M105.5 188v2M105.5 198v4M105.5 210v1M105.5 212v1M105.5 214v1M105.5 217v1M105.5 223v2M105.5 228v1M105.5 230v1M106.5 181v1M106.5 193v1M106.5 200v2M106.5 204v1M106.5 206v3M106.5 210v1M106.5 214v1M106.5 222v1M119.5 248v1M122.5 261v1M122.5 288v2M122.5 307v2M123.5 288v3M128.5 242v2M128.5 250v2M128.5 254v1M128.5 306v1M129.5 219v1M129.5 246v1M129.5 248v1M129.5 250v2M129.5 253v1M129.5 256v2M129.5 266v1M129.5 269v1M129.5 273v1M129.5 291v1M129.5 296v1M130.5 256v1M130.5 265v1M131.5 242v2M131.5 246v1M131.5 255v1M131.5 257v1M131.5 264v1M132.5 242v3M132.5 256v4M136.5 225v1M136.5 274v1M137.5 207v1M137.5 213v1M137.5 216v1M137.5 222v1M137.5 225v2M137.5 231v1M137.5 236v2M137.5 240v3M137.5 268v4M137.5 273v1M138.5 206v2M138.5 235v1M139.5 250v1M139.5 268v1M152.5 270v1M152.5 272v1M293.5 249v1M293.5 252v2M310.5 261v1M310.5 268v1M312.5 250v1M312.5 271v1M313.5 229v1M313.5 257v1M313.5 259v1M313.5 266v1M314.5 240v3M314.5 253v2M314.5 256v3M314.5 266v1M314.5 271v1M314.5 274v1M315.5 269v1M315.5 271v2M324.5 212v1M324.5 217v1M324.5 232v1M324.5 259v1M327.5 226v1M328.5 225v1M328.5 245v1M328.5 248v1M328.5 254v1M333.5 235v1M333.5 240v1M333.5 247v1M333.5 262v1M333.5 275v1M333.5 278v2M334.5 275v1M334.5 277v1M347.5 238v1M347.5 251v1M348.5 241v1M348.5 251v1M349.5 219v1M349.5 242v1M349.5 259v1M362.5 198v1M362.5 234v2M362.5 241v1M362.5 250v1M362.5 257v1M362.5 263v2M362.5 268v1M362.5 274v1M363.5 199v1M363.5 204v1M363.5 218v1M363.5 225v1M363.5 236v2M363.5 239v4M363.5 248v1M363.5 250v1M363.5 266v3M363.5 279v1M364.5 205v1M364.5 222v1M364.5 240v1M364.5 244v1M364.5 246v1M364.5 249v1M364.5 254v1M364.5 263v1M364.5 265v1M364.5 268v2M364.5 281v1M365.5 216v1M365.5 221v1M365.5 234v1M365.5 238v1M365.5 241v2M365.5 246v2M365.5 252v3M365.5 261v1M365.5 268v2M365.5 277v2M365.5 281v2M366.5 231v1M366.5 235v3M366.5 246v1M366.5 249v1M366.5 256v1M366.5 258v3M366.5 268v1M366.5 271v1M366.5 273v1M366.5 281v1M383.5 227v1M383.5 240v1M517.5 235v1M517.5 238v1M517.5 241v1M517.5 244v1M517.5 269v1M518.5 227v1M518.5 240v1M518.5 245v3M518.5 256v1M518.5 267v1M518.5 269v1M518.5 276v2M518.5 279v1M518.5 281v1M518.5 286v1M519.5 233v1M519.5 238v1M519.5 244v1M519.5 248v1M519.5 258v1M519.5 260v5M519.5 266v2M519.5 272v2M519.5 277v1M519.5 282v1M520.5 235v1M520.5 246v2M520.5 256v1M520.5 258v1M520.5 260v2M521.5 228v1M521.5 250v1M521.5 253v1M521.5 262v1M522.5 219v1M522.5 227v1M522.5 262v1M522.5 284v1M523.5 203v1M523.5 205v1M523.5 213v1M523.5 219v2M523.5 224v2M523.5 228v1M523.5 232v1M523.5 235v1M523.5 241v2M523.5 245v1M523.5 254v2M523.5 267v1M523.5 284v1M524.5 209v2M524.5 212v1M524.5 218v1M524.5 221v1M524.5 223v1M524.5 225v1M524.5 239v1M524.5 242v1M524.5 246v1M524.5 254v2M524.5 268v1M527.5 228v1M527.5 250v1M527.5 267v1M528.5 215v2M528.5 229v1M528.5 233v1M528.5 235v1M528.5 240v1M528.5 242v3M528.5 252v2M528.5 261v1M528.5 264v1M528.5 270v1M528.5 276v1M528.5 283v1M529.5 189v2M529.5 197v1M529.5 202v1M529.5 212v1M529.5 216v2M529.5 225v1M529.5 232v1M529.5 244v1M529.5 248v2M529.5 251v1M529.5 253v4M529.5 266v1M530.5 203v1M530.5 212v1M530.5 219v1M530.5 232v1M530.5 252v2M530.5 257v1M530.5 274v1M545.5 215v1" stroke="#418bbf"/>
<path d="M103.5 167v1M103.5 184v2M103.5 193v1M104.5 162v1M104.5 164v1M104.5 174v1M104.5 177v1M104.5 181v1M104.5 200v1M104.5 203v1M104.5 212v1M104.5 214v1M105.5 184v1M105.5 186v1M105.5 203v1M105.5 206v1M105.5 213v1M105.5 218v1M105.5 225v1M105.5 231v2M105.5 236v1M106.5 182v1M106.5 184v2M106.5 197v1M106.5 205v1M106.5 220v1M106.5 223v2M106.5 229v1M106.5 232v1M106.5 235v1M106.5 237v2M106.5 243v1M106.5 247v1M106.5 261v1M106.5 264v1M107.5 204v1M115.5 187v1M115.5 189v1M115.5 196v1M115.5 206v1M115.5 210v1M115.5 218v1M115.5 225v1M115.5 230v1M115.5 236v1M119.5 207v1M119.5 231v1M119.5 233v2M119.5 236v1M119.5 239v1M119.5 246v1M119.5 249v1M119.5 251v1M119.5 254v2M119.5 258v1M119.5 268v1M119.5 276v1M119.5 281v2M119.5 287v1M119.5 290v1M120.5 208v1M120.5 237v1M120.5 248v1M120.5 278v1M121.5 234v1M121.5 244v1M121.5 249v1M121.5 251v1M121.5 259v1M121.5 262v1M121.5 323v1M122.5 218v1M122.5 243v1M122.5 245v1M122.5 249v1M122.5 260v1M122.5 271v1M122.5 290v1M122.5 300v1M123.5 256v1M123.5 291v1M123.5 293v1M123.5 303v2M123.5 308v1M128.5 195v2M128.5 215v1M128.5 225v1M128.5 236v2M128.5 245v1M128.5 253v1M128.5 262v2M128.5 266v1M128.5 278v2M128.5 282v1M128.5 291v1M129.5 201v1M129.5 204v1M129.5 222v1M129.5 225v1M129.5 232v1M129.5 234v1M129.5 236v1M129.5 243v1M129.5 247v1M129.5 277v1M129.5 281v1M129.5 284v1M129.5 297v1M129.5 305v2M129.5 312v1M130.5 241v1M130.5 257v1M130.5 262v1M130.5 266v1M130.5 273v1M130.5 294v1M130.5 305v1M130.5 314v1M130.5 316v1M131.5 250v1M131.5 252v1M131.5 277v1M131.5 327v1M132.5 192v1M132.5 198v1M132.5 211v1M132.5 245v1M132.5 253v3M132.5 261v1M132.5 264v2M132.5 269v1M132.5 288v1M133.5 229v1M133.5 242v1M134.5 271v1M136.5 204v1M136.5 217v1M136.5 226v1M136.5 237v1M136.5 250v1M136.5 252v1M136.5 259v2M136.5 269v1M136.5 271v1M137.5 204v1M137.5 208v1M137.5 215v1M137.5 243v1M137.5 245v1M137.5 247v1M137.5 249v1M137.5 253v1M137.5 258v1M137.5 262v2M137.5 274v1M137.5 288v1M138.5 216v1M138.5 233v1M138.5 236v1M138.5 242v1M138.5 244v1M138.5 269v1M139.5 204v1M139.5 215v1M139.5 219v1M139.5 225v2M139.5 231v1M139.5 242v1M139.5 246v1M139.5 252v1M139.5 263v1M139.5 267v1M143.5 210v1M143.5 214v1M143.5 223v1M143.5 232v1M143.5 234v1M143.5 238v1M143.5 252v1M143.5 269v1M143.5 271v2M143.5 284v1M143.5 288v1M143.5 306v1M143.5 309v1M143.5 321v1M143.5 336v1M147.5 230v1M148.5 259v2M148.5 282v1M148.5 286v1M148.5 299v1M151.5 233v1M151.5 266v1M151.5 305v1M151.5 314v1M152.5 227v1M152.5 241v1M153.5 209v2M153.5 245v1M153.5 249v1M153.5 282v1M154.5 231v1M154.5 250v1M159.5 195v1M159.5 197v1M159.5 203v2M159.5 208v1M159.5 211v1M159.5 214v1M159.5 218v1M159.5 221v2M159.5 238v1M159.5 242v2M159.5 250v1M159.5 256v1M159.5 267v1M159.5 274v1M159.5 276v1M159.5 280v2M159.5 285v1M159.5 290v1M161.5 194v1M161.5 217v1M161.5 225v2M161.5 229v1M161.5 232v1M161.5 238v1M161.5 240v1M161.5 244v2M161.5 247v1M161.5 252v1M161.5 263v1M162.5 239v1M162.5 243v1M163.5 212v1M163.5 217v1M163.5 219v1M163.5 223v1M163.5 238v1M163.5 253v1M165.5 200v1M165.5 222v1M165.5 238v1M165.5 243v1M165.5 251v1M165.5 255v1M165.5 260v1M165.5 274v1M165.5 282v2M165.5 285v1M166.5 264v1M285.5 263v1M285.5 266v1M291.5 215v2M291.5 223v1M291.5 241v1M291.5 262v1M291.5 264v1M291.5 268v1M291.5 275v1M293.5 216v1M293.5 228v1M293.5 234v1M293.5 238v1M293.5 250v1M293.5 254v1M293.5 264v1M293.5 266v1M294.5 245v1M294.5 247v1M294.5 249v1M294.5 254v1M296.5 207v1M296.5 224v1M296.5 249v1M296.5 266v1M306.5 225v1M306.5 228v1M306.5 237v1M306.5 239v1M306.5 251v1M306.5 258v1M306.5 264v1M309.5 256v1M309.5 268v1M310.5 210v1M310.5 221v1M310.5 242v1M310.5 244v1M310.5 249v1M310.5 262v1M310.5 265v1M310.5 267v1M310.5 269v1M312.5 225v1M312.5 236v1M312.5 248v2M312.5 255v1M312.5 265v1M313.5 206v1M313.5 211v1M313.5 230v4M313.5 239v1M313.5 249v2M313.5 260v1M313.5 273v1M314.5 209v1M314.5 225v1M314.5 237v1M314.5 246v1M314.5 255v1M314.5 260v1M315.5 214v1M315.5 221v1M315.5 227v1M315.5 234v1M315.5 237v1M315.5 252v1M315.5 267v1M318.5 205v1M318.5 209v1M318.5 215v1M318.5 217v1M318.5 219v1M318.5 224v1M318.5 228v1M318.5 233v1M318.5 236v1M318.5 243v1M318.5 245v1M318.5 256v2M318.5 259v1M318.5 262v1M318.5 267v1M318.5 270v1M322.5 186v1M322.5 189v1M322.5 191v1M322.5 195v1M322.5 203v1M324.5 165v2M324.5 187v1M324.5 203v2M324.5 207v1M324.5 210v2M324.5 213v1M324.5 221v1M324.5 228v1M324.5 250v1M324.5 254v1M324.5 258v1M325.5 185v1M325.5 229v1M325.5 233v1M325.5 235v1M325.5 242v1M325.5 252v1M325.5 254v1M325.5 260v3M325.5 264v1M327.5 214v1M327.5 218v1M327.5 239v1M327.5 248v1M327.5 250v1M327.5 254v1M327.5 260v1M328.5 226v1M328.5 232v1M328.5 249v1M328.5 255v1M328.5 263v1M333.5 245v1M333.5 273v2M333.5 276v1M333.5 280v1M333.5 294v1M333.5 296v1M334.5 220v1M334.5 236v1M334.5 241v1M334.5 252v1M334.5 258v1M334.5 266v1M334.5 268v1M334.5 288v1M334.5 291v1M344.5 231v1M344.5 245v1M344.5 247v1M344.5 255v1M344.5 261v1M346.5 214v1M346.5 216v1M346.5 224v1M346.5 226v1M346.5 230v1M346.5 232v1M346.5 237v1M346.5 245v1M346.5 265v1M347.5 258v1M348.5 235v1M348.5 246v2M348.5 257v1M349.5 216v1M349.5 224v1M349.5 232v1M349.5 240v1M349.5 244v1M349.5 247v1M349.5 253v1M349.5 260v1M349.5 268v1M350.5 213v1M350.5 237v1M357.5 214v1M357.5 225v1M357.5 229v2M357.5 257v1M357.5 265v1M360.5 208v1M360.5 210v2M360.5 216v1M360.5 221v1M362.5 205v1M362.5 210v2M362.5 228v1M362.5 244v1M362.5 248v2M362.5 254v2M362.5 258v1M362.5 269v1M362.5 279v2M363.5 205v2M363.5 214v1M363.5 224v1M363.5 226v1M363.5 229v1M363.5 244v2M363.5 257v1M363.5 264v2M363.5 270v1M363.5 282v1M363.5 294v1M364.5 258v1M364.5 260v1M364.5 266v1M364.5 278v1M364.5 282v1M365.5 199v1M365.5 203v1M365.5 205v1M365.5 207v1M365.5 217v1M365.5 219v1M365.5 223v1M365.5 231v1M365.5 236v1M365.5 239v1M365.5 243v1M365.5 245v1M365.5 251v1M365.5 262v1M365.5 267v1M365.5 273v1M365.5 280v1M365.5 287v1M366.5 206v1M366.5 209v1M366.5 214v1M366.5 218v1M366.5 221v1M366.5 224v1M366.5 228v1M366.5 234v1M366.5 247v1M366.5 252v1M366.5 261v1M366.5 267v1M366.5 269v2M366.5 282v1M368.5 212v1M368.5 236v1M368.5 238v1M368.5 241v1M368.5 250v1M368.5 256v1M368.5 260v1M368.5 272v1M383.5 190v2M383.5 194v1M383.5 196v3M383.5 207v1M383.5 212v1M383.5 223v1M383.5 226v1M383.5 228v1M383.5 237v1M383.5 243v3M383.5 247v1M383.5 253v1M383.5 256v1M383.5 259v2M383.5 269v1M383.5 273v1M384.5 223v1M384.5 225v1M384.5 227v1M384.5 233v1M384.5 240v1M384.5 242v1M384.5 265v1M384.5 269v1M384.5 279v1M506.5 256v1M506.5 289v1M511.5 229v1M511.5 231v1M511.5 241v1M511.5 278v1M511.5 283v1M511.5 286v1M513.5 186v1M513.5 256v1M517.5 221v1M517.5 237v1M517.5 248v1M517.5 253v1M517.5 255v1M517.5 257v1M517.5 260v1M517.5 263v1M517.5 271v1M517.5 279v1M517.5 286v1M518.5 225v1M518.5 259v1M518.5 272v1M518.5 275v1M518.5 278v1M518.5 284v1M518.5 288v1M518.5 290v1M519.5 205v1M519.5 220v1M519.5 222v3M519.5 227v1M519.5 239v1M519.5 256v1M519.5 268v2M519.5 276v1M519.5 281v1M520.5 267v1M520.5 274v1M520.5 284v1M521.5 208v1M521.5 217v1M521.5 225v1M521.5 240v1M521.5 252v1M522.5 200v1M522.5 203v1M522.5 222v1M522.5 243v1M522.5 250v1M522.5 255v1M522.5 258v1M522.5 261v1M522.5 285v1M523.5 229v2M523.5 250v1M523.5 262v1M523.5 265v1M524.5 199v1M524.5 201v1M524.5 214v2M524.5 220v1M524.5 222v1M524.5 227v2M524.5 234v1M524.5 238v1M524.5 247v1M524.5 253v1M524.5 260v2M524.5 270v1M524.5 273v3M524.5 282v1M524.5 284v1M524.5 286v1M525.5 225v1M525.5 257v1M527.5 235v1M527.5 261v1M527.5 283v1M527.5 286v1M528.5 181v1M528.5 195v1M528.5 199v1M528.5 207v1M528.5 211v1M528.5 217v1M528.5 225v1M528.5 241v1M528.5 246v1M528.5 262v2M528.5 269v1M528.5 275v1M528.5 277v1M528.5 279v1M528.5 285v1M529.5 183v1M529.5 200v1M529.5 220v1M529.5 228v2M529.5 233v1M529.5 237v2M529.5 243v1M529.5 245v1M529.5 258v1M529.5 260v1M529.5 262v1M529.5 264v1M529.5 267v1M529.5 277v1M529.5 288v1M530.5 195v1M530.5 208v2M530.5 213v1M530.5 218v1M530.5 227v2M530.5 230v1M530.5 245v1M530.5 249v1M530.5 255v1M530.5 267v1M530.5 269v1M530.5 276v2M530.5 287v1M530.5 291v1M534.5 210v1M534.5 217v1M534.5 222v1M534.5 279v2M536.5 200v1M536.5 205v1M536.5 230v1M536.5 232v1M536.5 255v1M536.5 257v2M536.5 276v1M541.5 189v1M541.5 210v1M541.5 228v1M541.5 230v1M541.5 235v1M541.5 237v1M541.5 240v1M541.5 248v1M541.5 260v1M541.5 264v1M541.5 274v1M541.5 278v1M545.5 164v1M545.5 176v1M545.5 190v1M545.5 196v1M545.5 200v2M545.5 207v1M545.5 212v1M545.5 221v1M545.5 236v1M545.5 253v3M545.5 257v1M545.5 261v1M545.5 271v1M546.5 189v1M546.5 220v1M546.5 235v1M546.5 245v1M546.5 260v1M546.5 267v1M546.5 278v2M552.5 262v1M553.5 199v1M553.5 206v1M553.5 208v1M553.5 210v1M553.5 219v1M553.5 223v1M553.5 228v2M553.5 232v1M553.5 242v1M553.5 252v1M553.5 261v2M553.5 265v1" stroke="#3585bc"/>
<path d="M103.5 201v1M103.5 210v1M103.5 214v1M104.5 163v1M104.5 172v2M104.5 183v1M104.5 191v3M104.5 196v1M104.5 198v2M104.5 201v1M104.5 208v2M105.5 190v1M105.5 192v2M105.5 195v2M105.5 207v1M105.5 209v1M105.5 220v1M105.5 227v1M105.5 229v1M106.5 180v1M106.5 194v3M106.5 199v1M106.5 211v1M106.5 242v1M107.5 214v1M115.5 186v1M115.5 193v1M115.5 205v1M115.5 214v1M115.5 219v1M115.5 234v1M119.5 220v1M119.5 225v1M119.5 244v1M119.5 260v1M119.5 267v1M119.5 271v1M121.5 254v1M121.5 285v1M121.5 308v1M122.5 268v1M123.5 312v1M128.5 197v2M128.5 227v1M128.5 232v1M128.5 235v1M128.5 241v1M128.5 246v1M128.5 248v2M128.5 259v1M128.5 264v1M128.5 277v1M128.5 283v1M128.5 285v2M128.5 296v1M128.5 298v1M129.5 218v1M129.5 259v1M129.5 261v2M129.5 264v1M129.5 268v1M130.5 255v1M131.5 256v1M131.5 261v1M131.5 271v1M132.5 210v1M132.5 246v1M132.5 268v1M132.5 289v1M133.5 196v1M136.5 224v1M136.5 241v1M136.5 254v1M137.5 214v1M137.5 224v1M137.5 234v1M137.5 256v1M138.5 205v1M138.5 211v1M138.5 231v1M138.5 263v1M138.5 283v1M139.5 209v1M139.5 259v1M139.5 261v1M143.5 233v1M143.5 239v1M143.5 246v1M143.5 256v1M143.5 274v1M143.5 277v1M143.5 279v1M143.5 307v1M148.5 222v1M152.5 273v1M159.5 194v1M159.5 199v1M159.5 220v1M159.5 225v1M159.5 227v1M159.5 234v1M159.5 236v1M159.5 240v2M159.5 244v1M159.5 248v1M159.5 253v1M159.5 258v1M159.5 263v2M159.5 271v1M159.5 275v1M159.5 286v1M161.5 221v1M161.5 231v1M161.5 243v1M161.5 266v1M163.5 214v1M165.5 207v1M165.5 269v2M165.5 287v1M165.5 289v1M291.5 229v1M291.5 254v1M291.5 270v1M293.5 242v1M293.5 251v1M293.5 256v1M293.5 258v1M293.5 261v1M306.5 233v1M306.5 235v1M306.5 259v2M310.5 260v1M310.5 264v1M310.5 266v1M310.5 284v1M312.5 228v1M312.5 230v1M312.5 238v1M312.5 246v1M312.5 275v1M313.5 217v1M313.5 271v2M314.5 206v1M314.5 235v1M314.5 272v1M315.5 211v2M315.5 220v1M315.5 258v1M315.5 262v1M315.5 264v1M318.5 221v1M318.5 231v1M318.5 240v1M318.5 249v1M318.5 251v1M318.5 255v1M318.5 264v1M322.5 181v1M324.5 184v1M324.5 200v2M324.5 208v2M324.5 236v1M324.5 251v1M325.5 232v1M325.5 238v1M328.5 228v1M328.5 236v1M328.5 247v1M328.5 262v1M329.5 226v1M333.5 225v2M333.5 230v1M333.5 255v1M333.5 263v1M333.5 267v1M333.5 293v1M334.5 232v1M334.5 237v1M334.5 245v1M334.5 276v1M334.5 287v1M344.5 256v1M346.5 225v1M346.5 228v1M346.5 235v2M346.5 238v1M346.5 240v1M346.5 251v1M348.5 209v1M348.5 227v1M348.5 249v2M348.5 256v1M349.5 223v1M349.5 245v2M357.5 205v1M357.5 208v2M357.5 222v1M360.5 205v1M360.5 213v1M360.5 239v1M360.5 251v1M362.5 242v1M362.5 261v2M362.5 270v1M362.5 278v1M363.5 198v1M363.5 201v1M363.5 215v1M363.5 217v1M363.5 227v1M363.5 234v2M363.5 246v2M363.5 249v1M363.5 253v1M363.5 256v1M363.5 260v1M363.5 274v1M364.5 242v1M364.5 248v1M364.5 255v1M364.5 257v1M364.5 279v1M365.5 213v1M365.5 249v1M365.5 255v1M365.5 257v1M365.5 259v1M365.5 263v1M365.5 265v2M365.5 270v1M365.5 279v1M366.5 194v1M366.5 201v1M366.5 219v1M366.5 233v1M366.5 244v1M366.5 248v1M366.5 250v2M366.5 255v1M366.5 266v1M366.5 296v1M368.5 221v1M368.5 231v1M368.5 235v1M383.5 205v1M383.5 209v1M383.5 218v2M383.5 233v2M383.5 250v1M383.5 265v2M383.5 268v1M383.5 270v1M384.5 245v1M384.5 253v1M384.5 256v1M511.5 234v1M513.5 169v1M517.5 217v1M517.5 226v2M517.5 232v1M517.5 243v1M517.5 252v1M517.5 256v1M517.5 268v1M518.5 226v1M518.5 229v1M518.5 231v2M518.5 234v1M518.5 237v1M518.5 239v1M518.5 242v1M518.5 244v1M518.5 249v1M518.5 268v1M518.5 273v2M519.5 221v1M519.5 230v2M519.5 235v3M519.5 247v1M519.5 252v2M519.5 257v1M519.5 274v1M521.5 199v1M521.5 227v1M521.5 246v1M522.5 269v1M523.5 204v1M523.5 209v1M523.5 223v1M523.5 236v1M523.5 239v1M523.5 243v1M523.5 257v1M523.5 266v1M523.5 268v2M524.5 208v1M524.5 237v1M524.5 240v2M524.5 243v2M524.5 252v1M524.5 256v1M524.5 269v1M524.5 271v1M527.5 234v1M527.5 275v1M528.5 182v1M528.5 197v1M528.5 210v1M528.5 218v1M528.5 227v1M528.5 230v1M528.5 232v1M528.5 237v2M528.5 247v1M528.5 254v2M528.5 267v2M528.5 273v1M529.5 203v1M529.5 218v2M529.5 230v2M529.5 250v1M529.5 265v1M529.5 282v1M530.5 191v1M530.5 204v1M530.5 207v1M530.5 214v1M530.5 217v1M530.5 225v1M530.5 246v1M530.5 250v1M530.5 254v1M530.5 263v1M530.5 273v1M530.5 280v1M534.5 271v1M536.5 227v1M536.5 240v1M541.5 221v1M541.5 232v1M541.5 243v1M545.5 175v1M545.5 184v1M545.5 189v1M545.5 209v1M545.5 213v1M545.5 224v1M545.5 226v1M545.5 228v1M545.5 230v1M545.5 251v1M545.5 270v1M546.5 232v1M546.5 251v1M553.5 218v1M553.5 220v1M553.5 244v1M553.5 270v1M553.5 274v1" stroke="#2a7eb8"/>
<path d="M104.5 178v1M104.5 188v1M104.5 204v1M104.5 207v1M105.5 177v1M105.5 197v1M105.5 208v1M105.5 233v1M106.5 188v1M106.5 190v1M106.5 202v1M106.5 219v1M115.5 195v1M119.5 237v1M119.5 242v1M119.5 247v1M119.5 269v1M128.5 226v1M128.5 244v1M128.5 247v1M128.5 252v1M128.5 255v1M128.5 260v2M128.5 309v1M130.5 263v1M132.5 260v1M136.5 213v1M136.5 222v1M136.5 275v1M137.5 223v1M139.5 251v1M139.5 271v1M143.5 289v1M159.5 232v1M161.5 239v1M293.5 230v1M293.5 269v1M294.5 250v1M294.5 258v1M294.5 266v1M306.5 231v1M306.5 255v1M306.5 263v1M310.5 243v1M310.5 258v1M312.5 224v1M313.5 256v1M313.5 265v1M313.5 274v1M315.5 270v1M318.5 232v1M318.5 244v1M324.5 205v1M324.5 214v3M324.5 218v1M324.5 223v1M324.5 233v1M324.5 260v1M333.5 234v1M333.5 239v1M333.5 248v1M333.5 260v1M334.5 251v1M334.5 259v1M346.5 227v1M346.5 239v1M346.5 241v1M348.5 219v1M349.5 243v1M357.5 219v1M362.5 226v1M362.5 233v1M363.5 273v1M363.5 275v1M365.5 215v1M365.5 220v1M365.5 226v1M365.5 233v1M365.5 237v1M365.5 244v1M365.5 250v1M365.5 258v1M365.5 260v1M366.5 220v1M366.5 232v1M366.5 272v1M366.5 277v1M383.5 210v1M383.5 241v1M383.5 255v1M384.5 252v1M518.5 228v1M518.5 233v1M518.5 235v1M518.5 238v1M518.5 241v1M518.5 257v1M518.5 260v1M519.5 226v1M519.5 232v1M519.5 234v1M519.5 242v1M519.5 246v1M519.5 259v1M519.5 265v1M521.5 236v1M522.5 225v1M522.5 228v1M523.5 212v1M523.5 227v1M523.5 248v1M523.5 260v1M523.5 264v1M524.5 213v1M524.5 219v1M524.5 245v1M524.5 276v1M528.5 212v1M528.5 214v1M528.5 219v1M528.5 226v1M528.5 228v1M528.5 231v1M528.5 234v1M528.5 239v1M528.5 250v2M528.5 257v1M529.5 207v2M529.5 213v1M529.5 247v1M529.5 257v1M530.5 231v1M530.5 247v1M530.5 256v1M545.5 199v1M545.5 220v1M545.5 235v1M553.5 198v1M553.5 263v1" stroke="#1f77b4"/>
</g>
<path d="M80.5 58.5V427.5M576.5 58.5V427.5M80.5 58.5H576.5M80.5 427.5H576.5" stroke="#000" stroke-width="1.1" stroke-linecap="square" fill="none"/>
<path d="M126.5 428.0v4.7M186.5 428.0v4.7M246.5 428.0v4.7M305.5 428.0v4.7M365.5 428.0v4.7M425.5 428.0v4.7M485.5 428.0v4.7M544.5 428.0v4.7M80.0 422.5h-4.7M80.0 378.5h-4.7M80.0 335.5h-4.7M80.0 291.5h-4.7M80.0 247.5h-4.7M80.0 204.5h-4.7M80.0 160.5h-4.7M80.0 116.5h-4.7M80.0 72.5h-4.7" stroke="#000" stroke-width="1.05" fill="none"/>
<text transform="scale(0.9744 1.0000)" x="104.89 113.84 118.57 127.47 136.57 145.52" y="448.25" font-size="14.72">2.4539</text>
<text transform="scale(0.9794 1.0000)" x="165.60 174.52 179.21 188.07 197.08 205.96" y="448.25" font-size="14.72">2.4540</text>
<text transform="scale(0.9746 1.0000)" x="227.98 236.93 241.66 250.56 259.61 268.61" y="448.25" font-size="14.72">2.4541</text>
<text transform="scale(0.9742 1.0000)" x="288.64 297.59 302.32 311.22 320.28 329.05" y="448.25" font-size="14.72">2.4542</text>
<text transform="scale(0.9660 1.0000)" x="353.24 362.26 367.04 376.02 385.15 394.30" y="448.25" font-size="14.72">2.4543</text>
<text transform="scale(0.9810 1.0000)" x="408.94 417.85 422.53 431.37 440.37 449.29" y="448.25" font-size="14.72">2.4544</text>
<text transform="scale(0.9642 1.0000)" x="477.31 486.33 491.13 500.13 509.28 518.37" y="448.25" font-size="14.72">2.4545</text>
<text transform="scale(0.9854 1.0000)" x="527.84 536.72 541.37 550.17 559.13 568.02" y="448.25" font-size="14.72">2.4546</text>
<text transform="scale(0.9734 1.0000)" x="54.95 62.98" y="426.85" font-size="14.72">16</text>
<text transform="scale(0.9500 1.0000)" x="56.41 64.56" y="383.85" font-size="14.72">17</text>
<text transform="scale(0.9582 1.0000)" x="55.89 64.10" y="339.85" font-size="14.72">18</text>
<text transform="scale(0.9750 1.0000)" x="54.86 62.86" y="295.85" font-size="14.72">19</text>
<text transform="scale(0.9654 1.0000)" x="55.15 64.37" y="252.85" font-size="14.72">20</text>
<text transform="scale(0.9500 1.0000)" x="56.10 65.64" y="208.85" font-size="14.72">21</text>
<text transform="scale(0.9507 1.0000)" x="56.06 65.26" y="164.85" font-size="14.72">22</text>
<text transform="scale(0.9500 1.0000)" x="56.10 65.55" y="121.85" font-size="14.72">23</text>
<text transform="scale(0.9695 1.0000)" x="54.89 64.12" y="77.85" font-size="14.72">24</text>
<text transform="scale(1.0837 1.0000)" x="289.26 293.11 296.68 308.89" y="466.95" font-size="14.72">time</text>
<text transform="scale(0.9874 1.0000)" x="557.45 565.25 573.97" y="466.10" font-size="14.72">1e6</text>
<text transform="matrix(0 -1.0640 1.0000 0 43.05 255.63)" x="0.10 3.53 7.02 15.46" y="0" font-size="14.72">flux</text>
<text transform="scale(0.9500 1.0000)" x="216.43 225.69 237.28 253.52 265.17 276.14 284.56 292.87 304.01 315.11 326.19 337.35 348.55 359.26 365.05 376.18 386.73 393.44 404.64 415.79 426.76 437.92 449.02 459.78 465.48" y="49.20" font-size="17.66">1SWASPJ161510.40-330837.2</text>
</svg></body></html>
